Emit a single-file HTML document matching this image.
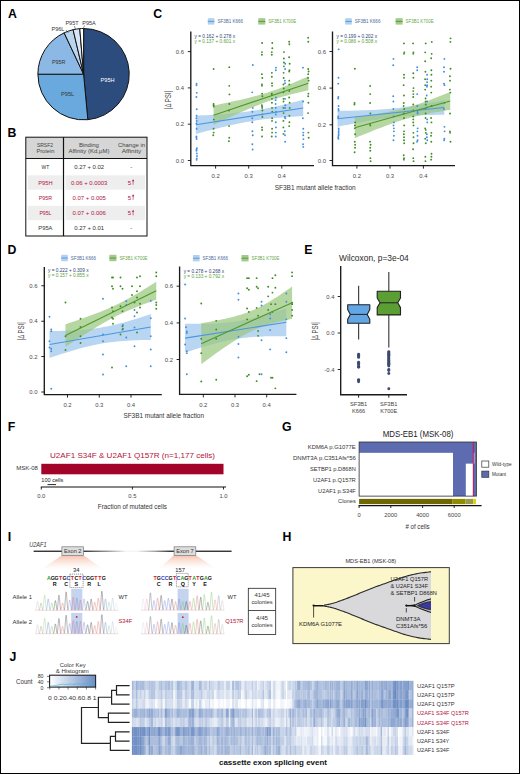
<!DOCTYPE html><html><head><meta charset="utf-8"><style>html,body{margin:0;padding:0;background:#fff;overflow:hidden;width:520px;height:774px}svg{display:block}text{font-family:"Liberation Sans",sans-serif}</style></head><body><svg width="520" height="774" viewBox="0 0 520 774"><rect x="0.5" y="0.5" width="519" height="773" fill="#fff" stroke="#000" stroke-width="1"/>
<text x="7.90" y="17.90" font-size="12.3" fill="#000" text-anchor="start" font-weight="bold" >A</text>
<text x="7.40" y="136.80" font-size="12.3" fill="#000" text-anchor="start" font-weight="bold" >B</text>
<text x="153.30" y="17.80" font-size="12.3" fill="#000" text-anchor="start" font-weight="bold" >C</text>
<text x="7.40" y="253.70" font-size="12.3" fill="#000" text-anchor="start" font-weight="bold" >D</text>
<text x="304.30" y="253.80" font-size="12.3" fill="#000" text-anchor="start" font-weight="bold" >E</text>
<text x="7.80" y="430.70" font-size="12.3" fill="#000" text-anchor="start" font-weight="bold" >F</text>
<text x="282.00" y="430.50" font-size="12.3" fill="#000" text-anchor="start" font-weight="bold" >G</text>
<text x="282.40" y="540.70" font-size="12.3" fill="#000" text-anchor="start" font-weight="bold" >H</text>
<text x="7.80" y="540.70" font-size="12.3" fill="#000" text-anchor="start" font-weight="bold" >I</text>
<text x="9.40" y="660.90" font-size="12.3" fill="#000" text-anchor="start" font-weight="bold" >J</text>
<path d="M83.6,74.2 L83.60,28.50 A45.7,45.7 0 0 1 87.82,119.70 Z" fill="#2d4c7e" stroke="#111" stroke-width="1" stroke-linejoin="round"/>
<path d="M83.6,74.2 L87.82,119.70 A45.7,45.7 0 0 1 37.90,74.20 Z" fill="#6aa9de" stroke="#111" stroke-width="1" stroke-linejoin="round"/>
<path d="M83.6,74.2 L37.90,74.20 A45.7,45.7 0 0 1 64.14,32.85 Z" fill="#8bb8e4" stroke="#111" stroke-width="1" stroke-linejoin="round"/>
<path d="M83.6,74.2 L64.14,32.85 A45.7,45.7 0 0 1 73.09,29.73 Z" fill="#bcd5ef" stroke="#111" stroke-width="1" stroke-linejoin="round"/>
<path d="M83.6,74.2 L73.09,29.73 A45.7,45.7 0 0 1 79.78,28.66 Z" fill="#d7e6f6" stroke="#111" stroke-width="1" stroke-linejoin="round"/>
<path d="M83.6,74.2 L79.78,28.66 A45.7,45.7 0 0 1 83.60,28.50 Z" fill="#ffffff" stroke="#111" stroke-width="1" stroke-linejoin="round"/>
<text x="107.60" y="82.00" font-size="6" fill="#fff" text-anchor="middle" font-weight="normal" textLength="14" lengthAdjust="spacingAndGlyphs">P95H</text>
<text x="67.60" y="96.40" font-size="6" fill="#333" text-anchor="middle" font-weight="normal" textLength="13.2" lengthAdjust="spacingAndGlyphs">P95L</text>
<text x="58.70" y="64.00" font-size="6" fill="#333" text-anchor="middle" font-weight="normal" textLength="13.5" lengthAdjust="spacingAndGlyphs">P95R</text>
<text x="58.00" y="30.50" font-size="5.5" fill="#333" text-anchor="middle" font-weight="normal" >P96L</text>
<text x="72.00" y="25.00" font-size="5.5" fill="#333" text-anchor="middle" font-weight="normal" >P95T</text>
<text x="89.00" y="24.50" font-size="5.5" fill="#333" text-anchor="middle" font-weight="normal" >P95A</text>
<path d="M66,30 L68.5,33 M74.5,26 L75.5,29.8 M84.5,25.5 L83,29" stroke="#222" stroke-width="0.5" fill="none"/>
<rect x="25.8" y="137.2" width="121.2" height="21.30000000000001" fill="#d6d6d6"/>
<rect x="27.8" y="175.30" width="34.7" height="14.4" fill="#eeeeee"/>
<rect x="65.5" y="175.30" width="79.5" height="14.4" fill="#eeeeee"/>
<rect x="27.8" y="205.80" width="34.7" height="14.4" fill="#eeeeee"/>
<rect x="65.5" y="205.80" width="79.5" height="14.4" fill="#eeeeee"/>
<rect x="25.8" y="137.2" width="121.2" height="98.80000000000001" fill="none" stroke="#111" stroke-width="1"/>
<line x1="63.5" y1="137.2" x2="63.5" y2="236" stroke="#111" stroke-width="1.2"/>
<line x1="25.8" y1="158.5" x2="147" y2="158.5" stroke="#111" stroke-width="1.2"/>
<text x="45.00" y="146.60" font-size="5.9" fill="#444" text-anchor="middle" font-weight="normal" textLength="16.2" lengthAdjust="spacingAndGlyphs">SRSF2</text>
<text x="45.40" y="153.30" font-size="5.9" fill="#444" text-anchor="middle" font-weight="normal" textLength="18" lengthAdjust="spacingAndGlyphs">Protein</text>
<text x="88.90" y="146.60" font-size="5.9" fill="#444" text-anchor="middle" font-weight="normal" textLength="20" lengthAdjust="spacingAndGlyphs">Binding</text>
<text x="88.90" y="153.30" font-size="5.9" fill="#444" text-anchor="middle" font-weight="normal" textLength="41" lengthAdjust="spacingAndGlyphs">Affinity (Kd,μM)</text>
<text x="131.50" y="146.60" font-size="5.9" fill="#444" text-anchor="middle" font-weight="normal" textLength="27" lengthAdjust="spacingAndGlyphs">Change in</text>
<text x="131.50" y="153.30" font-size="5.9" fill="#444" text-anchor="middle" font-weight="normal" textLength="19.5" lengthAdjust="spacingAndGlyphs">Affinity</text>
<text x="45.40" y="169.20" font-size="6.1" fill="#333" text-anchor="middle" font-weight="normal" textLength="7.75" lengthAdjust="spacingAndGlyphs">WT</text>
<text x="89.20" y="169.20" font-size="6.1" fill="#333" text-anchor="middle" font-weight="normal" textLength="30" lengthAdjust="spacingAndGlyphs">0.27 + 0.02</text>
<text x="131.20" y="169.20" font-size="6.1" fill="#333" text-anchor="middle" font-weight="normal" >-</text>
<text x="45.40" y="184.70" font-size="6.1" fill="#b0123f" text-anchor="middle" font-weight="normal" textLength="14.25" lengthAdjust="spacingAndGlyphs">P95H</text>
<text x="89.20" y="184.70" font-size="6.1" fill="#b0123f" text-anchor="middle" font-weight="normal" textLength="36.25" lengthAdjust="spacingAndGlyphs">0.06 + 0.0003</text>
<text x="129.40" y="184.70" font-size="6.1" fill="#b0123f" text-anchor="middle" font-weight="normal" >5</text>
<path d="M133.1,184.80 L133.1,180.90" stroke="#b0123f" stroke-width="0.8" stroke-opacity="0.75"/>
<path d="M131.9,181.30 L133.1,179.20 L134.3,181.30 Z" fill="#b0123f"/>
<text x="45.40" y="199.70" font-size="6.1" fill="#b0123f" text-anchor="middle" font-weight="normal" textLength="13.25" lengthAdjust="spacingAndGlyphs">P95R</text>
<text x="89.20" y="199.70" font-size="6.1" fill="#b0123f" text-anchor="middle" font-weight="normal" textLength="33.25" lengthAdjust="spacingAndGlyphs">0.07 + 0.005</text>
<text x="129.40" y="199.70" font-size="6.1" fill="#b0123f" text-anchor="middle" font-weight="normal" >5</text>
<path d="M133.1,199.80 L133.1,195.90" stroke="#b0123f" stroke-width="0.8" stroke-opacity="0.75"/>
<path d="M131.9,196.30 L133.1,194.20 L134.3,196.30 Z" fill="#b0123f"/>
<text x="45.40" y="215.20" font-size="6.1" fill="#b0123f" text-anchor="middle" font-weight="normal" textLength="12" lengthAdjust="spacingAndGlyphs">P95L</text>
<text x="89.20" y="215.20" font-size="6.1" fill="#b0123f" text-anchor="middle" font-weight="normal" textLength="33.25" lengthAdjust="spacingAndGlyphs">0.07 + 0.006</text>
<text x="129.40" y="215.20" font-size="6.1" fill="#b0123f" text-anchor="middle" font-weight="normal" >5</text>
<path d="M133.1,215.30 L133.1,211.40" stroke="#b0123f" stroke-width="0.8" stroke-opacity="0.75"/>
<path d="M131.9,211.80 L133.1,209.70 L134.3,211.80 Z" fill="#b0123f"/>
<text x="45.40" y="230.40" font-size="6.1" fill="#333" text-anchor="middle" font-weight="normal" textLength="14.25" lengthAdjust="spacingAndGlyphs">P95A</text>
<text x="89.20" y="230.40" font-size="6.1" fill="#333" text-anchor="middle" font-weight="normal" textLength="30" lengthAdjust="spacingAndGlyphs">0.27 + 0.01</text>
<text x="131.20" y="230.40" font-size="6.1" fill="#333" text-anchor="middle" font-weight="normal" >-</text>
<rect x="207.8" y="18.2" width="6.6" height="6.4" fill="#b3d1ef"/>
<line x1="207.8" y1="21.4" x2="214.4" y2="21.4" stroke="#4a97e0" stroke-width="0.9"/>
<rect x="258.3" y="18.2" width="7" height="6.4" fill="#a3c98c"/>
<line x1="258.3" y1="21.4" x2="265.3" y2="21.4" stroke="#4c9a2c" stroke-width="0.9"/>
<text x="217.40" y="23.20" font-size="5.0" fill="#4a6a9a" text-anchor="start" font-weight="normal" textLength="25.6" lengthAdjust="spacingAndGlyphs">SF3B1 K666</text>
<text x="268.30" y="23.20" font-size="5.0" fill="#6aa84a" text-anchor="start" font-weight="normal" textLength="27.9" lengthAdjust="spacingAndGlyphs">SF3B1 K700E</text>
<rect x="345.2" y="18.2" width="6.6" height="6.4" fill="#b3d1ef"/>
<line x1="345.2" y1="21.4" x2="351.8" y2="21.4" stroke="#4a97e0" stroke-width="0.9"/>
<rect x="395.6" y="18.2" width="7" height="6.4" fill="#a3c98c"/>
<line x1="395.6" y1="21.4" x2="402.6" y2="21.4" stroke="#4c9a2c" stroke-width="0.9"/>
<text x="354.80" y="23.20" font-size="5.0" fill="#4a6a9a" text-anchor="start" font-weight="normal" textLength="25.6" lengthAdjust="spacingAndGlyphs">SF3B1 K666</text>
<text x="405.60" y="23.20" font-size="5.0" fill="#6aa84a" text-anchor="start" font-weight="normal" textLength="28" lengthAdjust="spacingAndGlyphs">SF3B1 K700E</text>
<path d="M190.8,31.6 L190.8,165.6 L314,165.6" stroke="#1a1a1a" stroke-width="1.35" fill="none"/>
<line x1="187.8" y1="51.6" x2="190.8" y2="51.6" stroke="#111" stroke-width="0.9"/>
<text x="184.00" y="53.60" font-size="5.9" fill="#4a4a4a" text-anchor="end" font-weight="normal" >0.6</text>
<line x1="187.8" y1="87.9" x2="190.8" y2="87.9" stroke="#111" stroke-width="0.9"/>
<text x="184.00" y="89.90" font-size="5.9" fill="#4a4a4a" text-anchor="end" font-weight="normal" >0.4</text>
<line x1="187.8" y1="124.2" x2="190.8" y2="124.2" stroke="#111" stroke-width="0.9"/>
<text x="184.00" y="126.20" font-size="5.9" fill="#4a4a4a" text-anchor="end" font-weight="normal" >0.2</text>
<line x1="187.8" y1="160.5" x2="190.8" y2="160.5" stroke="#111" stroke-width="0.9"/>
<text x="184.00" y="162.50" font-size="5.9" fill="#4a4a4a" text-anchor="end" font-weight="normal" >0.0</text>
<line x1="215.6" y1="165.6" x2="215.6" y2="168.6" stroke="#111" stroke-width="0.9"/>
<text x="215.60" y="178.10" font-size="5.9" fill="#4a4a4a" text-anchor="middle" font-weight="normal" >0.2</text>
<line x1="248.7" y1="165.6" x2="248.7" y2="168.6" stroke="#111" stroke-width="0.9"/>
<text x="248.70" y="178.10" font-size="5.9" fill="#4a4a4a" text-anchor="middle" font-weight="normal" >0.3</text>
<line x1="281.8" y1="165.6" x2="281.8" y2="168.6" stroke="#111" stroke-width="0.9"/>
<text x="281.80" y="178.10" font-size="5.9" fill="#4a4a4a" text-anchor="middle" font-weight="normal" >0.4</text>
<path d="M195.91,115.71 L199.48,115.53 L203.06,115.34 L206.64,115.13 L210.21,114.92 L213.79,114.69 L217.36,114.46 L220.94,114.20 L224.52,113.93 L228.09,113.63 L231.67,113.31 L235.24,112.97 L238.82,112.59 L242.39,112.18 L245.97,111.73 L249.55,111.25 L253.12,110.72 L256.70,110.16 L260.27,109.55 L263.85,108.90 L267.42,108.21 L271.00,107.49 L274.58,106.74 L278.15,105.95 L281.73,105.14 L285.30,104.30 L288.88,103.45 L292.45,102.58 L296.03,101.69 L299.61,100.78 L303.18,99.87 L303.18,115.97 L299.61,116.19 L296.03,116.41 L292.45,116.64 L288.88,116.90 L285.30,117.17 L281.73,117.46 L278.15,117.77 L274.58,118.11 L271.00,118.48 L267.42,118.89 L263.85,119.32 L260.27,119.80 L256.70,120.32 L253.12,120.88 L249.55,121.48 L245.97,122.12 L242.39,122.80 L238.82,123.51 L235.24,124.26 L231.67,125.04 L228.09,125.85 L224.52,126.68 L220.94,127.53 L217.36,128.40 L213.79,129.29 L210.21,130.19 L206.64,131.10 L203.06,132.02 L199.48,132.96 L195.91,133.90Z" fill="#9fc6ee" fill-opacity="0.74"/>
<path d="M213.57,105.58 L216.73,104.93 L219.89,104.27 L223.05,103.61 L226.21,102.93 L229.37,102.25 L232.53,101.56 L235.69,100.86 L238.85,100.15 L242.01,99.42 L245.17,98.67 L248.33,97.90 L251.49,97.11 L254.65,96.29 L257.81,95.43 L260.97,94.54 L264.13,93.61 L267.29,92.63 L270.45,91.61 L273.61,90.53 L276.77,89.41 L279.94,88.24 L283.10,87.03 L286.26,85.77 L289.42,84.48 L292.58,83.16 L295.74,81.82 L298.90,80.45 L302.06,79.06 L305.22,77.65 L308.38,76.23 L308.38,90.26 L305.22,90.97 L302.06,91.69 L298.90,92.43 L295.74,93.19 L292.58,93.98 L289.42,94.79 L286.26,95.63 L283.10,96.51 L279.94,97.42 L276.77,98.38 L273.61,99.39 L270.45,100.45 L267.29,101.55 L264.13,102.70 L260.97,103.90 L257.81,105.14 L254.65,106.42 L251.49,107.72 L248.33,109.06 L245.17,110.42 L242.01,111.80 L238.85,113.20 L235.69,114.62 L232.53,116.05 L229.37,117.49 L226.21,118.94 L223.05,120.39 L219.89,121.86 L216.73,123.33 L213.57,124.81Z" fill="#9cc882" fill-opacity="0.74"/>
<circle cx="196.58" cy="83.77" r="0.95" fill="#3f8fde"/>
<circle cx="196.47" cy="85.32" r="0.95" fill="#3f8fde"/>
<circle cx="196.78" cy="92.86" r="0.95" fill="#3f8fde"/>
<circle cx="196.42" cy="97.01" r="0.95" fill="#3f8fde"/>
<circle cx="196.71" cy="109.22" r="0.95" fill="#3f8fde"/>
<circle cx="196.60" cy="115.71" r="0.95" fill="#3f8fde"/>
<circle cx="196.41" cy="118.31" r="0.95" fill="#3f8fde"/>
<circle cx="196.69" cy="120.91" r="0.95" fill="#3f8fde"/>
<circle cx="196.40" cy="123.51" r="0.95" fill="#3f8fde"/>
<circle cx="196.65" cy="128.70" r="0.95" fill="#3f8fde"/>
<circle cx="196.42" cy="136.49" r="0.95" fill="#3f8fde"/>
<circle cx="196.43" cy="137.79" r="0.95" fill="#3f8fde"/>
<circle cx="196.64" cy="139.09" r="0.95" fill="#3f8fde"/>
<circle cx="196.89" cy="148.18" r="0.95" fill="#3f8fde"/>
<circle cx="196.45" cy="149.48" r="0.95" fill="#3f8fde"/>
<circle cx="196.52" cy="150.78" r="0.95" fill="#3f8fde"/>
<circle cx="196.77" cy="153.38" r="0.95" fill="#3f8fde"/>
<circle cx="196.97" cy="155.97" r="0.95" fill="#3f8fde"/>
<circle cx="196.74" cy="158.57" r="0.95" fill="#3f8fde"/>
<circle cx="196.62" cy="159.87" r="0.95" fill="#3f8fde"/>
<circle cx="252.83" cy="65.06" r="0.95" fill="#3f8fde"/>
<circle cx="252.25" cy="92.34" r="0.95" fill="#3f8fde"/>
<circle cx="252.76" cy="107.92" r="0.95" fill="#3f8fde"/>
<circle cx="252.40" cy="111.82" r="0.95" fill="#3f8fde"/>
<circle cx="252.31" cy="118.31" r="0.95" fill="#3f8fde"/>
<circle cx="252.29" cy="122.21" r="0.95" fill="#3f8fde"/>
<circle cx="252.41" cy="131.30" r="0.95" fill="#3f8fde"/>
<circle cx="252.73" cy="135.19" r="0.95" fill="#3f8fde"/>
<circle cx="252.33" cy="144.29" r="0.95" fill="#3f8fde"/>
<circle cx="252.58" cy="149.48" r="0.95" fill="#3f8fde"/>
<circle cx="276.00" cy="67.66" r="0.95" fill="#3f8fde"/>
<circle cx="275.83" cy="70.26" r="0.95" fill="#3f8fde"/>
<circle cx="275.94" cy="97.53" r="0.95" fill="#3f8fde"/>
<circle cx="275.64" cy="100.13" r="0.95" fill="#3f8fde"/>
<circle cx="275.63" cy="104.03" r="0.95" fill="#3f8fde"/>
<circle cx="275.73" cy="107.92" r="0.95" fill="#3f8fde"/>
<circle cx="276.02" cy="111.82" r="0.95" fill="#3f8fde"/>
<circle cx="275.86" cy="114.42" r="0.95" fill="#3f8fde"/>
<circle cx="275.79" cy="122.21" r="0.95" fill="#3f8fde"/>
<circle cx="275.96" cy="127.40" r="0.95" fill="#3f8fde"/>
<circle cx="275.88" cy="132.60" r="0.95" fill="#3f8fde"/>
<circle cx="275.78" cy="136.49" r="0.95" fill="#3f8fde"/>
<circle cx="285.18" cy="63.77" r="0.95" fill="#3f8fde"/>
<circle cx="285.12" cy="68.96" r="0.95" fill="#3f8fde"/>
<circle cx="284.84" cy="80.65" r="0.95" fill="#3f8fde"/>
<circle cx="285.05" cy="83.25" r="0.95" fill="#3f8fde"/>
<circle cx="285.02" cy="98.83" r="0.95" fill="#3f8fde"/>
<circle cx="285.23" cy="105.32" r="0.95" fill="#3f8fde"/>
<circle cx="285.14" cy="107.92" r="0.95" fill="#3f8fde"/>
<circle cx="284.87" cy="117.01" r="0.95" fill="#3f8fde"/>
<circle cx="285.30" cy="118.31" r="0.95" fill="#3f8fde"/>
<circle cx="284.76" cy="131.30" r="0.95" fill="#3f8fde"/>
<circle cx="284.95" cy="135.19" r="0.95" fill="#3f8fde"/>
<circle cx="285.16" cy="141.69" r="0.95" fill="#3f8fde"/>
<circle cx="302.96" cy="67.66" r="0.95" fill="#3f8fde"/>
<circle cx="303.17" cy="101.43" r="0.95" fill="#3f8fde"/>
<circle cx="302.89" cy="118.31" r="0.95" fill="#3f8fde"/>
<circle cx="303.29" cy="128.70" r="0.95" fill="#3f8fde"/>
<circle cx="303.35" cy="132.60" r="0.95" fill="#3f8fde"/>
<circle cx="303.23" cy="135.19" r="0.95" fill="#3f8fde"/>
<circle cx="303.42" cy="139.09" r="0.95" fill="#3f8fde"/>
<circle cx="303.07" cy="144.29" r="0.95" fill="#3f8fde"/>
<circle cx="303.30" cy="146.88" r="0.95" fill="#3f8fde"/>
<circle cx="213.63" cy="68.96" r="0.95" fill="#3e8e1f"/>
<circle cx="213.62" cy="104.03" r="0.95" fill="#3e8e1f"/>
<circle cx="213.54" cy="105.32" r="0.95" fill="#3e8e1f"/>
<circle cx="213.78" cy="106.62" r="0.95" fill="#3e8e1f"/>
<circle cx="213.85" cy="119.61" r="0.95" fill="#3e8e1f"/>
<circle cx="213.56" cy="128.70" r="0.95" fill="#3e8e1f"/>
<circle cx="213.67" cy="132.60" r="0.95" fill="#3e8e1f"/>
<circle cx="213.30" cy="135.19" r="0.95" fill="#3e8e1f"/>
<circle cx="229.28" cy="67.14" r="0.95" fill="#3e8e1f"/>
<circle cx="229.25" cy="85.84" r="0.95" fill="#3e8e1f"/>
<circle cx="229.46" cy="94.42" r="0.95" fill="#3e8e1f"/>
<circle cx="229.36" cy="104.03" r="0.95" fill="#3e8e1f"/>
<circle cx="229.02" cy="110.52" r="0.95" fill="#3e8e1f"/>
<circle cx="229.08" cy="126.10" r="0.95" fill="#3e8e1f"/>
<circle cx="229.26" cy="137.79" r="0.95" fill="#3e8e1f"/>
<circle cx="228.86" cy="141.17" r="0.95" fill="#3e8e1f"/>
<circle cx="262.12" cy="42.99" r="0.95" fill="#3e8e1f"/>
<circle cx="261.94" cy="52.08" r="0.95" fill="#3e8e1f"/>
<circle cx="261.90" cy="54.68" r="0.95" fill="#3e8e1f"/>
<circle cx="261.87" cy="74.16" r="0.95" fill="#3e8e1f"/>
<circle cx="262.31" cy="78.05" r="0.95" fill="#3e8e1f"/>
<circle cx="261.91" cy="84.55" r="0.95" fill="#3e8e1f"/>
<circle cx="261.99" cy="85.84" r="0.95" fill="#3e8e1f"/>
<circle cx="262.07" cy="93.64" r="0.95" fill="#3e8e1f"/>
<circle cx="262.37" cy="96.23" r="0.95" fill="#3e8e1f"/>
<circle cx="261.88" cy="105.32" r="0.95" fill="#3e8e1f"/>
<circle cx="262.11" cy="106.62" r="0.95" fill="#3e8e1f"/>
<circle cx="262.17" cy="107.92" r="0.95" fill="#3e8e1f"/>
<circle cx="262.38" cy="110.52" r="0.95" fill="#3e8e1f"/>
<circle cx="262.34" cy="114.42" r="0.95" fill="#3e8e1f"/>
<circle cx="262.37" cy="117.01" r="0.95" fill="#3e8e1f"/>
<circle cx="262.00" cy="127.40" r="0.95" fill="#3e8e1f"/>
<circle cx="262.09" cy="130.00" r="0.95" fill="#3e8e1f"/>
<circle cx="262.05" cy="136.49" r="0.95" fill="#3e8e1f"/>
<circle cx="272.25" cy="42.99" r="0.95" fill="#3e8e1f"/>
<circle cx="272.30" cy="48.18" r="0.95" fill="#3e8e1f"/>
<circle cx="271.80" cy="52.08" r="0.95" fill="#3e8e1f"/>
<circle cx="271.81" cy="54.68" r="0.95" fill="#3e8e1f"/>
<circle cx="271.85" cy="72.86" r="0.95" fill="#3e8e1f"/>
<circle cx="271.85" cy="76.75" r="0.95" fill="#3e8e1f"/>
<circle cx="272.00" cy="83.25" r="0.95" fill="#3e8e1f"/>
<circle cx="272.07" cy="85.84" r="0.95" fill="#3e8e1f"/>
<circle cx="271.87" cy="93.64" r="0.95" fill="#3e8e1f"/>
<circle cx="271.70" cy="94.94" r="0.95" fill="#3e8e1f"/>
<circle cx="271.96" cy="98.83" r="0.95" fill="#3e8e1f"/>
<circle cx="271.93" cy="102.73" r="0.95" fill="#3e8e1f"/>
<circle cx="272.05" cy="107.92" r="0.95" fill="#3e8e1f"/>
<circle cx="272.30" cy="111.82" r="0.95" fill="#3e8e1f"/>
<circle cx="272.13" cy="118.31" r="0.95" fill="#3e8e1f"/>
<circle cx="272.02" cy="120.91" r="0.95" fill="#3e8e1f"/>
<circle cx="272.09" cy="128.70" r="0.95" fill="#3e8e1f"/>
<circle cx="272.12" cy="132.60" r="0.95" fill="#3e8e1f"/>
<circle cx="271.73" cy="136.49" r="0.95" fill="#3e8e1f"/>
<circle cx="283.95" cy="52.08" r="0.95" fill="#3e8e1f"/>
<circle cx="283.88" cy="58.57" r="0.95" fill="#3e8e1f"/>
<circle cx="283.93" cy="62.47" r="0.95" fill="#3e8e1f"/>
<circle cx="283.89" cy="66.36" r="0.95" fill="#3e8e1f"/>
<circle cx="283.63" cy="72.86" r="0.95" fill="#3e8e1f"/>
<circle cx="283.64" cy="78.05" r="0.95" fill="#3e8e1f"/>
<circle cx="283.45" cy="84.55" r="0.95" fill="#3e8e1f"/>
<circle cx="283.79" cy="88.44" r="0.95" fill="#3e8e1f"/>
<circle cx="283.43" cy="92.34" r="0.95" fill="#3e8e1f"/>
<circle cx="283.43" cy="98.83" r="0.95" fill="#3e8e1f"/>
<circle cx="283.52" cy="101.43" r="0.95" fill="#3e8e1f"/>
<circle cx="283.49" cy="107.92" r="0.95" fill="#3e8e1f"/>
<circle cx="283.60" cy="113.12" r="0.95" fill="#3e8e1f"/>
<circle cx="283.42" cy="120.91" r="0.95" fill="#3e8e1f"/>
<circle cx="283.39" cy="127.40" r="0.95" fill="#3e8e1f"/>
<circle cx="283.48" cy="133.90" r="0.95" fill="#3e8e1f"/>
<circle cx="289.17" cy="41.69" r="0.95" fill="#3e8e1f"/>
<circle cx="289.33" cy="44.29" r="0.95" fill="#3e8e1f"/>
<circle cx="289.12" cy="57.27" r="0.95" fill="#3e8e1f"/>
<circle cx="289.65" cy="63.77" r="0.95" fill="#3e8e1f"/>
<circle cx="289.49" cy="70.26" r="0.95" fill="#3e8e1f"/>
<circle cx="289.20" cy="71.56" r="0.95" fill="#3e8e1f"/>
<circle cx="289.26" cy="80.65" r="0.95" fill="#3e8e1f"/>
<circle cx="289.32" cy="84.55" r="0.95" fill="#3e8e1f"/>
<circle cx="289.33" cy="91.04" r="0.95" fill="#3e8e1f"/>
<circle cx="289.18" cy="97.53" r="0.95" fill="#3e8e1f"/>
<circle cx="289.63" cy="102.73" r="0.95" fill="#3e8e1f"/>
<circle cx="289.72" cy="107.92" r="0.95" fill="#3e8e1f"/>
<circle cx="289.39" cy="115.71" r="0.95" fill="#3e8e1f"/>
<circle cx="289.41" cy="122.21" r="0.95" fill="#3e8e1f"/>
<circle cx="289.16" cy="126.10" r="0.95" fill="#3e8e1f"/>
<circle cx="308.13" cy="37.79" r="0.95" fill="#3e8e1f"/>
<circle cx="308.28" cy="41.69" r="0.95" fill="#3e8e1f"/>
<circle cx="308.23" cy="68.96" r="0.95" fill="#3e8e1f"/>
<circle cx="308.58" cy="71.56" r="0.95" fill="#3e8e1f"/>
<circle cx="308.17" cy="74.16" r="0.95" fill="#3e8e1f"/>
<circle cx="308.08" cy="78.05" r="0.95" fill="#3e8e1f"/>
<circle cx="308.66" cy="80.65" r="0.95" fill="#3e8e1f"/>
<circle cx="308.39" cy="93.64" r="0.95" fill="#3e8e1f"/>
<circle cx="308.16" cy="96.23" r="0.95" fill="#3e8e1f"/>
<circle cx="308.40" cy="102.73" r="0.95" fill="#3e8e1f"/>
<circle cx="308.08" cy="113.12" r="0.95" fill="#3e8e1f"/>
<circle cx="308.39" cy="132.60" r="0.95" fill="#3e8e1f"/>
<circle cx="308.67" cy="137.79" r="0.95" fill="#3e8e1f"/>
<line x1="195.91" y1="124.81" x2="303.18" y2="107.92" stroke="#4a97e0" stroke-width="1.1"/>
<line x1="213.57" y1="115.19" x2="308.38" y2="83.25" stroke="#4c9a2c" stroke-width="1.1"/>
<text x="194.50" y="37.80" font-size="4.8" fill="#2e3f7a" text-anchor="start" font-weight="normal" textLength="40.5" lengthAdjust="spacingAndGlyphs">y = 0.162 + 0.278 x</text>
<text x="194.50" y="42.60" font-size="4.8" fill="#5aa03a" text-anchor="start" font-weight="normal" textLength="40.5" lengthAdjust="spacingAndGlyphs">y = 0.137 + 0.601 x</text>
<path d="M332.5,31.6 L332.5,165.6 L455,165.6" stroke="#1a1a1a" stroke-width="1.35" fill="none"/>
<line x1="329.5" y1="51.5" x2="332.5" y2="51.5" stroke="#111" stroke-width="0.9"/>
<text x="326.00" y="53.50" font-size="5.9" fill="#4a4a4a" text-anchor="end" font-weight="normal" >0.6</text>
<line x1="329.5" y1="88.1" x2="332.5" y2="88.1" stroke="#111" stroke-width="0.9"/>
<text x="326.00" y="90.10" font-size="5.9" fill="#4a4a4a" text-anchor="end" font-weight="normal" >0.4</text>
<line x1="329.5" y1="124.8" x2="332.5" y2="124.8" stroke="#111" stroke-width="0.9"/>
<text x="326.00" y="126.80" font-size="5.9" fill="#4a4a4a" text-anchor="end" font-weight="normal" >0.2</text>
<line x1="329.5" y1="160.5" x2="332.5" y2="160.5" stroke="#111" stroke-width="0.9"/>
<text x="326.00" y="162.50" font-size="5.9" fill="#4a4a4a" text-anchor="end" font-weight="normal" >0.0</text>
<line x1="356.9" y1="165.6" x2="356.9" y2="168.6" stroke="#111" stroke-width="0.9"/>
<text x="356.90" y="178.10" font-size="5.9" fill="#4a4a4a" text-anchor="middle" font-weight="normal" >0.2</text>
<line x1="390" y1="165.6" x2="390" y2="168.6" stroke="#111" stroke-width="0.9"/>
<text x="390.00" y="178.10" font-size="5.9" fill="#4a4a4a" text-anchor="middle" font-weight="normal" >0.3</text>
<line x1="423.4" y1="165.6" x2="423.4" y2="168.6" stroke="#111" stroke-width="0.9"/>
<text x="423.40" y="178.10" font-size="5.9" fill="#4a4a4a" text-anchor="middle" font-weight="normal" >0.4</text>
<path d="M337.52,110.92 L341.08,110.87 L344.63,110.81 L348.19,110.75 L351.75,110.67 L355.30,110.58 L358.86,110.48 L362.42,110.36 L365.97,110.23 L369.53,110.08 L373.09,109.91 L376.64,109.71 L380.20,109.49 L383.76,109.23 L387.31,108.95 L390.87,108.63 L394.43,108.27 L397.99,107.89 L401.54,107.46 L405.10,107.00 L408.66,106.51 L412.21,105.99 L415.77,105.44 L419.33,104.86 L422.88,104.26 L426.44,103.65 L430.00,103.01 L433.55,102.36 L437.11,101.70 L440.67,101.03 L444.23,100.34 L444.23,114.65 L440.67,114.72 L437.11,114.80 L433.55,114.89 L430.00,115.00 L426.44,115.12 L422.88,115.26 L419.33,115.42 L415.77,115.60 L412.21,115.80 L408.66,116.03 L405.10,116.30 L401.54,116.59 L397.99,116.92 L394.43,117.29 L390.87,117.69 L387.31,118.13 L383.76,118.60 L380.20,119.10 L376.64,119.63 L373.09,120.19 L369.53,120.77 L365.97,121.37 L362.42,122.00 L358.86,122.64 L355.30,123.29 L351.75,123.96 L348.19,124.63 L344.63,125.32 L341.08,126.02 L337.52,126.72Z" fill="#9fc6ee" fill-opacity="0.74"/>
<path d="M354.81,117.33 L357.99,116.88 L361.16,116.41 L364.34,115.93 L367.52,115.45 L370.70,114.95 L373.88,114.43 L377.06,113.90 L380.24,113.35 L383.42,112.77 L386.60,112.17 L389.78,111.54 L392.96,110.87 L396.14,110.17 L399.32,109.43 L402.50,108.64 L405.68,107.81 L408.85,106.93 L412.03,106.00 L415.21,105.02 L418.39,104.00 L421.57,102.93 L424.75,101.82 L427.93,100.68 L431.11,99.51 L434.29,98.31 L437.47,97.08 L440.65,95.84 L443.83,94.57 L447.01,93.29 L450.19,92.00 L450.19,109.88 L447.01,110.37 L443.83,110.88 L440.65,111.41 L437.47,111.95 L434.29,112.51 L431.11,113.10 L427.93,113.71 L424.75,114.36 L421.57,115.04 L418.39,115.77 L415.21,116.53 L412.03,117.34 L408.85,118.20 L405.68,119.10 L402.50,120.06 L399.32,121.06 L396.14,122.11 L392.96,123.19 L389.78,124.32 L386.60,125.48 L383.42,126.66 L380.24,127.88 L377.06,129.11 L373.88,130.37 L370.70,131.64 L367.52,132.93 L364.34,134.23 L361.16,135.54 L357.99,136.87 L354.81,138.20Z" fill="#9cc882" fill-opacity="0.74"/>
<circle cx="338.67" cy="49.37" r="0.95" fill="#3f8fde"/>
<circle cx="338.55" cy="77.69" r="0.95" fill="#3f8fde"/>
<circle cx="338.24" cy="83.65" r="0.95" fill="#3f8fde"/>
<circle cx="338.32" cy="97.06" r="0.95" fill="#3f8fde"/>
<circle cx="338.17" cy="98.55" r="0.95" fill="#3f8fde"/>
<circle cx="338.61" cy="106.01" r="0.95" fill="#3f8fde"/>
<circle cx="338.44" cy="108.99" r="0.95" fill="#3f8fde"/>
<circle cx="338.61" cy="110.48" r="0.95" fill="#3f8fde"/>
<circle cx="338.29" cy="116.44" r="0.95" fill="#3f8fde"/>
<circle cx="338.21" cy="117.93" r="0.95" fill="#3f8fde"/>
<circle cx="338.64" cy="128.36" r="0.95" fill="#3f8fde"/>
<circle cx="338.76" cy="129.85" r="0.95" fill="#3f8fde"/>
<circle cx="338.67" cy="131.34" r="0.95" fill="#3f8fde"/>
<circle cx="338.63" cy="132.83" r="0.95" fill="#3f8fde"/>
<circle cx="338.64" cy="134.32" r="0.95" fill="#3f8fde"/>
<circle cx="338.58" cy="135.81" r="0.95" fill="#3f8fde"/>
<circle cx="338.22" cy="137.30" r="0.95" fill="#3f8fde"/>
<circle cx="338.43" cy="138.79" r="0.95" fill="#3f8fde"/>
<circle cx="393.45" cy="58.91" r="0.95" fill="#3f8fde"/>
<circle cx="393.22" cy="65.17" r="0.95" fill="#3f8fde"/>
<circle cx="393.22" cy="96.17" r="0.95" fill="#3f8fde"/>
<circle cx="393.40" cy="101.54" r="0.95" fill="#3f8fde"/>
<circle cx="393.38" cy="108.99" r="0.95" fill="#3f8fde"/>
<circle cx="393.69" cy="116.44" r="0.95" fill="#3f8fde"/>
<circle cx="393.88" cy="122.40" r="0.95" fill="#3f8fde"/>
<circle cx="393.52" cy="125.38" r="0.95" fill="#3f8fde"/>
<circle cx="393.87" cy="128.36" r="0.95" fill="#3f8fde"/>
<circle cx="393.90" cy="131.34" r="0.95" fill="#3f8fde"/>
<circle cx="393.88" cy="135.81" r="0.95" fill="#3f8fde"/>
<circle cx="393.46" cy="140.28" r="0.95" fill="#3f8fde"/>
<circle cx="417.20" cy="67.26" r="0.95" fill="#3f8fde"/>
<circle cx="417.20" cy="70.24" r="0.95" fill="#3f8fde"/>
<circle cx="417.18" cy="94.08" r="0.95" fill="#3f8fde"/>
<circle cx="417.19" cy="106.01" r="0.95" fill="#3f8fde"/>
<circle cx="417.49" cy="111.97" r="0.95" fill="#3f8fde"/>
<circle cx="417.69" cy="113.46" r="0.95" fill="#3f8fde"/>
<circle cx="417.64" cy="128.36" r="0.95" fill="#3f8fde"/>
<circle cx="417.38" cy="131.34" r="0.95" fill="#3f8fde"/>
<circle cx="417.51" cy="135.81" r="0.95" fill="#3f8fde"/>
<circle cx="417.61" cy="140.28" r="0.95" fill="#3f8fde"/>
<circle cx="417.10" cy="141.77" r="0.95" fill="#3f8fde"/>
<circle cx="427.05" cy="74.71" r="0.95" fill="#3f8fde"/>
<circle cx="427.23" cy="79.18" r="0.95" fill="#3f8fde"/>
<circle cx="427.14" cy="82.16" r="0.95" fill="#3f8fde"/>
<circle cx="427.12" cy="85.14" r="0.95" fill="#3f8fde"/>
<circle cx="426.92" cy="86.63" r="0.95" fill="#3f8fde"/>
<circle cx="426.71" cy="95.57" r="0.95" fill="#3f8fde"/>
<circle cx="427.14" cy="101.54" r="0.95" fill="#3f8fde"/>
<circle cx="426.82" cy="107.50" r="0.95" fill="#3f8fde"/>
<circle cx="427.15" cy="119.42" r="0.95" fill="#3f8fde"/>
<circle cx="427.27" cy="122.40" r="0.95" fill="#3f8fde"/>
<circle cx="426.86" cy="134.32" r="0.95" fill="#3f8fde"/>
<circle cx="426.87" cy="137.30" r="0.95" fill="#3f8fde"/>
<circle cx="427.26" cy="140.28" r="0.95" fill="#3f8fde"/>
<circle cx="444.39" cy="58.91" r="0.95" fill="#3f8fde"/>
<circle cx="443.99" cy="67.26" r="0.95" fill="#3f8fde"/>
<circle cx="443.96" cy="71.73" r="0.95" fill="#3f8fde"/>
<circle cx="443.98" cy="83.65" r="0.95" fill="#3f8fde"/>
<circle cx="444.51" cy="85.14" r="0.95" fill="#3f8fde"/>
<circle cx="444.44" cy="103.03" r="0.95" fill="#3f8fde"/>
<circle cx="443.97" cy="108.99" r="0.95" fill="#3f8fde"/>
<circle cx="444.46" cy="126.87" r="0.95" fill="#3f8fde"/>
<circle cx="444.57" cy="131.34" r="0.95" fill="#3f8fde"/>
<circle cx="444.34" cy="138.79" r="0.95" fill="#3f8fde"/>
<circle cx="444.12" cy="140.28" r="0.95" fill="#3f8fde"/>
<circle cx="354.84" cy="68.75" r="0.95" fill="#3e8e1f"/>
<circle cx="354.54" cy="103.03" r="0.95" fill="#3e8e1f"/>
<circle cx="354.46" cy="104.52" r="0.95" fill="#3e8e1f"/>
<circle cx="355.14" cy="122.40" r="0.95" fill="#3e8e1f"/>
<circle cx="354.91" cy="125.38" r="0.95" fill="#3e8e1f"/>
<circle cx="354.83" cy="128.36" r="0.95" fill="#3e8e1f"/>
<circle cx="355.12" cy="134.32" r="0.95" fill="#3e8e1f"/>
<circle cx="354.76" cy="141.77" r="0.95" fill="#3e8e1f"/>
<circle cx="355.07" cy="144.75" r="0.95" fill="#3e8e1f"/>
<circle cx="355.04" cy="147.73" r="0.95" fill="#3e8e1f"/>
<circle cx="354.60" cy="152.21" r="0.95" fill="#3e8e1f"/>
<circle cx="370.13" cy="86.04" r="0.95" fill="#3e8e1f"/>
<circle cx="370.16" cy="94.08" r="0.95" fill="#3e8e1f"/>
<circle cx="370.12" cy="103.03" r="0.95" fill="#3e8e1f"/>
<circle cx="370.37" cy="113.46" r="0.95" fill="#3e8e1f"/>
<circle cx="370.13" cy="123.89" r="0.95" fill="#3e8e1f"/>
<circle cx="370.25" cy="125.38" r="0.95" fill="#3e8e1f"/>
<circle cx="370.04" cy="141.77" r="0.95" fill="#3e8e1f"/>
<circle cx="370.60" cy="144.75" r="0.95" fill="#3e8e1f"/>
<circle cx="370.20" cy="147.73" r="0.95" fill="#3e8e1f"/>
<circle cx="370.28" cy="150.72" r="0.95" fill="#3e8e1f"/>
<circle cx="370.37" cy="158.17" r="0.95" fill="#3e8e1f"/>
<circle cx="370.59" cy="161.15" r="0.95" fill="#3e8e1f"/>
<circle cx="403.93" cy="43.41" r="0.95" fill="#3e8e1f"/>
<circle cx="404.29" cy="52.35" r="0.95" fill="#3e8e1f"/>
<circle cx="403.99" cy="53.85" r="0.95" fill="#3e8e1f"/>
<circle cx="404.01" cy="74.71" r="0.95" fill="#3e8e1f"/>
<circle cx="404.00" cy="77.69" r="0.95" fill="#3e8e1f"/>
<circle cx="403.64" cy="85.14" r="0.95" fill="#3e8e1f"/>
<circle cx="403.94" cy="95.57" r="0.95" fill="#3e8e1f"/>
<circle cx="403.76" cy="103.03" r="0.95" fill="#3e8e1f"/>
<circle cx="403.63" cy="106.01" r="0.95" fill="#3e8e1f"/>
<circle cx="404.20" cy="108.99" r="0.95" fill="#3e8e1f"/>
<circle cx="403.75" cy="113.46" r="0.95" fill="#3e8e1f"/>
<circle cx="403.97" cy="117.93" r="0.95" fill="#3e8e1f"/>
<circle cx="404.15" cy="125.38" r="0.95" fill="#3e8e1f"/>
<circle cx="404.03" cy="131.34" r="0.95" fill="#3e8e1f"/>
<circle cx="403.86" cy="134.32" r="0.95" fill="#3e8e1f"/>
<circle cx="404.00" cy="137.30" r="0.95" fill="#3e8e1f"/>
<circle cx="404.03" cy="140.28" r="0.95" fill="#3e8e1f"/>
<circle cx="404.19" cy="143.26" r="0.95" fill="#3e8e1f"/>
<circle cx="403.70" cy="155.19" r="0.95" fill="#3e8e1f"/>
<circle cx="404.03" cy="158.17" r="0.95" fill="#3e8e1f"/>
<circle cx="403.81" cy="159.66" r="0.95" fill="#3e8e1f"/>
<circle cx="413.07" cy="43.41" r="0.95" fill="#3e8e1f"/>
<circle cx="413.42" cy="52.35" r="0.95" fill="#3e8e1f"/>
<circle cx="413.23" cy="53.85" r="0.95" fill="#3e8e1f"/>
<circle cx="413.27" cy="73.22" r="0.95" fill="#3e8e1f"/>
<circle cx="413.41" cy="77.69" r="0.95" fill="#3e8e1f"/>
<circle cx="413.52" cy="88.12" r="0.95" fill="#3e8e1f"/>
<circle cx="413.19" cy="91.10" r="0.95" fill="#3e8e1f"/>
<circle cx="413.31" cy="94.08" r="0.95" fill="#3e8e1f"/>
<circle cx="413.23" cy="97.06" r="0.95" fill="#3e8e1f"/>
<circle cx="413.24" cy="104.52" r="0.95" fill="#3e8e1f"/>
<circle cx="413.36" cy="110.48" r="0.95" fill="#3e8e1f"/>
<circle cx="413.19" cy="116.44" r="0.95" fill="#3e8e1f"/>
<circle cx="413.25" cy="119.42" r="0.95" fill="#3e8e1f"/>
<circle cx="413.21" cy="122.40" r="0.95" fill="#3e8e1f"/>
<circle cx="413.54" cy="125.38" r="0.95" fill="#3e8e1f"/>
<circle cx="413.37" cy="132.83" r="0.95" fill="#3e8e1f"/>
<circle cx="413.50" cy="137.30" r="0.95" fill="#3e8e1f"/>
<circle cx="413.54" cy="143.26" r="0.95" fill="#3e8e1f"/>
<circle cx="413.05" cy="149.23" r="0.95" fill="#3e8e1f"/>
<circle cx="413.27" cy="158.17" r="0.95" fill="#3e8e1f"/>
<circle cx="413.54" cy="161.15" r="0.95" fill="#3e8e1f"/>
<circle cx="425.69" cy="43.41" r="0.95" fill="#3e8e1f"/>
<circle cx="425.19" cy="52.35" r="0.95" fill="#3e8e1f"/>
<circle cx="425.18" cy="61.30" r="0.95" fill="#3e8e1f"/>
<circle cx="425.41" cy="71.73" r="0.95" fill="#3e8e1f"/>
<circle cx="425.14" cy="79.18" r="0.95" fill="#3e8e1f"/>
<circle cx="425.26" cy="85.14" r="0.95" fill="#3e8e1f"/>
<circle cx="425.14" cy="89.61" r="0.95" fill="#3e8e1f"/>
<circle cx="425.57" cy="98.55" r="0.95" fill="#3e8e1f"/>
<circle cx="425.65" cy="101.54" r="0.95" fill="#3e8e1f"/>
<circle cx="425.73" cy="104.52" r="0.95" fill="#3e8e1f"/>
<circle cx="425.20" cy="108.99" r="0.95" fill="#3e8e1f"/>
<circle cx="425.60" cy="113.46" r="0.95" fill="#3e8e1f"/>
<circle cx="425.56" cy="117.93" r="0.95" fill="#3e8e1f"/>
<circle cx="425.19" cy="128.36" r="0.95" fill="#3e8e1f"/>
<circle cx="425.72" cy="129.85" r="0.95" fill="#3e8e1f"/>
<circle cx="425.78" cy="132.83" r="0.95" fill="#3e8e1f"/>
<circle cx="425.25" cy="138.79" r="0.95" fill="#3e8e1f"/>
<circle cx="425.77" cy="143.26" r="0.95" fill="#3e8e1f"/>
<circle cx="425.37" cy="156.68" r="0.95" fill="#3e8e1f"/>
<circle cx="425.44" cy="161.15" r="0.95" fill="#3e8e1f"/>
<circle cx="431.76" cy="41.92" r="0.95" fill="#3e8e1f"/>
<circle cx="431.65" cy="53.85" r="0.95" fill="#3e8e1f"/>
<circle cx="431.17" cy="58.32" r="0.95" fill="#3e8e1f"/>
<circle cx="431.36" cy="70.24" r="0.95" fill="#3e8e1f"/>
<circle cx="431.42" cy="74.71" r="0.95" fill="#3e8e1f"/>
<circle cx="431.29" cy="80.67" r="0.95" fill="#3e8e1f"/>
<circle cx="431.19" cy="86.63" r="0.95" fill="#3e8e1f"/>
<circle cx="431.28" cy="92.59" r="0.95" fill="#3e8e1f"/>
<circle cx="431.57" cy="106.01" r="0.95" fill="#3e8e1f"/>
<circle cx="431.06" cy="117.93" r="0.95" fill="#3e8e1f"/>
<circle cx="431.45" cy="122.40" r="0.95" fill="#3e8e1f"/>
<circle cx="431.37" cy="132.83" r="0.95" fill="#3e8e1f"/>
<circle cx="431.06" cy="135.81" r="0.95" fill="#3e8e1f"/>
<circle cx="431.29" cy="141.77" r="0.95" fill="#3e8e1f"/>
<circle cx="431.50" cy="153.70" r="0.95" fill="#3e8e1f"/>
<circle cx="431.42" cy="156.68" r="0.95" fill="#3e8e1f"/>
<circle cx="431.10" cy="159.66" r="0.95" fill="#3e8e1f"/>
<circle cx="450.53" cy="38.35" r="0.95" fill="#3e8e1f"/>
<circle cx="450.39" cy="41.92" r="0.95" fill="#3e8e1f"/>
<circle cx="450.52" cy="68.75" r="0.95" fill="#3e8e1f"/>
<circle cx="449.90" cy="76.20" r="0.95" fill="#3e8e1f"/>
<circle cx="450.02" cy="80.67" r="0.95" fill="#3e8e1f"/>
<circle cx="449.86" cy="89.61" r="0.95" fill="#3e8e1f"/>
<circle cx="450.39" cy="92.59" r="0.95" fill="#3e8e1f"/>
<circle cx="450.02" cy="113.46" r="0.95" fill="#3e8e1f"/>
<circle cx="449.92" cy="131.34" r="0.95" fill="#3e8e1f"/>
<circle cx="450.13" cy="132.83" r="0.95" fill="#3e8e1f"/>
<circle cx="450.48" cy="141.77" r="0.95" fill="#3e8e1f"/>
<line x1="337.52" y1="118.82" x2="444.23" y2="107.50" stroke="#4a97e0" stroke-width="1.1"/>
<line x1="354.81" y1="127.76" x2="450.19" y2="100.94" stroke="#4c9a2c" stroke-width="1.1"/>
<text x="336.50" y="37.80" font-size="4.8" fill="#2e3f7a" text-anchor="start" font-weight="normal" textLength="40.5" lengthAdjust="spacingAndGlyphs">y = 0.199 + 0.202 x</text>
<text x="336.50" y="42.60" font-size="4.8" fill="#5aa03a" text-anchor="start" font-weight="normal" textLength="40.5" lengthAdjust="spacingAndGlyphs">y = 0.086 + 0.508 x</text>
<text x="0" y="0" font-size="8.6" fill="#444" text-anchor="middle" transform="translate(170.70 100) rotate(-90)" textLength="18.2" lengthAdjust="spacingAndGlyphs">|Δ PSI|</text>
<text x="315.20" y="189.70" font-size="7.7" fill="#333" text-anchor="middle" font-weight="normal" textLength="80.8" lengthAdjust="spacingAndGlyphs">SF3B1 mutant allele fraction</text>
<rect x="61.2" y="254.8" width="6.6" height="6.4" fill="#b3d1ef"/>
<line x1="61.2" y1="258" x2="67.8" y2="258" stroke="#4a97e0" stroke-width="0.9"/>
<rect x="109.4" y="254.8" width="7" height="6.4" fill="#a3c98c"/>
<line x1="109.4" y1="258" x2="116.4" y2="258" stroke="#4c9a2c" stroke-width="0.9"/>
<text x="70.80" y="259.80" font-size="5.0" fill="#4a6a9a" text-anchor="start" font-weight="normal" textLength="25.2" lengthAdjust="spacingAndGlyphs">SF3B1 K666</text>
<text x="119.40" y="259.80" font-size="5.0" fill="#6aa84a" text-anchor="start" font-weight="normal" textLength="28.2" lengthAdjust="spacingAndGlyphs">SF3B1 K700E</text>
<rect x="193.0" y="255.0" width="6.6" height="6.4" fill="#b3d1ef"/>
<line x1="193.0" y1="258.2" x2="199.6" y2="258.2" stroke="#4a97e0" stroke-width="0.9"/>
<rect x="241.5" y="255.0" width="7" height="6.4" fill="#a3c98c"/>
<line x1="241.5" y1="258.2" x2="248.5" y2="258.2" stroke="#4c9a2c" stroke-width="0.9"/>
<text x="202.60" y="260.00" font-size="5.0" fill="#4a6a9a" text-anchor="start" font-weight="normal" textLength="25.5" lengthAdjust="spacingAndGlyphs">SF3B1 K666</text>
<text x="251.50" y="260.00" font-size="5.0" fill="#6aa84a" text-anchor="start" font-weight="normal" textLength="28" lengthAdjust="spacingAndGlyphs">SF3B1 K700E</text>
<path d="M44.3,267 L44.3,394.6 L161.8,394.6" stroke="#1a1a1a" stroke-width="1.35" fill="none"/>
<line x1="41.3" y1="285.75" x2="44.3" y2="285.75" stroke="#111" stroke-width="0.9"/>
<text x="37.50" y="287.75" font-size="5.9" fill="#4a4a4a" text-anchor="end" font-weight="normal" >0.6</text>
<line x1="41.3" y1="321.25" x2="44.3" y2="321.25" stroke="#111" stroke-width="0.9"/>
<text x="37.50" y="323.25" font-size="5.9" fill="#4a4a4a" text-anchor="end" font-weight="normal" >0.4</text>
<line x1="41.3" y1="356.5" x2="44.3" y2="356.5" stroke="#111" stroke-width="0.9"/>
<text x="37.50" y="358.50" font-size="5.9" fill="#4a4a4a" text-anchor="end" font-weight="normal" >0.2</text>
<line x1="41.3" y1="392" x2="44.3" y2="392" stroke="#111" stroke-width="0.9"/>
<text x="37.50" y="394.00" font-size="5.9" fill="#4a4a4a" text-anchor="end" font-weight="normal" >0.0</text>
<line x1="67.5" y1="394.6" x2="67.5" y2="397.6" stroke="#111" stroke-width="0.9"/>
<text x="67.50" y="406.70" font-size="5.9" fill="#4a4a4a" text-anchor="middle" font-weight="normal" >0.2</text>
<line x1="99.25" y1="394.6" x2="99.25" y2="397.6" stroke="#111" stroke-width="0.9"/>
<text x="99.25" y="406.70" font-size="5.9" fill="#4a4a4a" text-anchor="middle" font-weight="normal" >0.3</text>
<line x1="131" y1="394.6" x2="131" y2="397.6" stroke="#111" stroke-width="0.9"/>
<text x="131.00" y="406.70" font-size="5.9" fill="#4a4a4a" text-anchor="middle" font-weight="normal" >0.4</text>
<path d="M49.50,331.12 L52.88,331.08 L56.25,331.02 L59.62,330.95 L63.00,330.86 L66.38,330.74 L69.75,330.60 L73.12,330.43 L76.50,330.23 L79.88,330.00 L83.25,329.73 L86.62,329.41 L90.00,329.05 L93.38,328.63 L96.75,328.16 L100.12,327.63 L103.50,327.05 L106.88,326.40 L110.25,325.70 L113.62,324.95 L117.00,324.14 L120.38,323.29 L123.75,322.39 L127.12,321.46 L130.50,320.49 L133.88,319.48 L137.25,318.46 L140.62,317.40 L144.00,316.33 L147.38,315.23 L150.75,314.12 L150.75,339.88 L147.38,339.93 L144.00,340.01 L140.62,340.10 L137.25,340.21 L133.88,340.35 L130.50,340.51 L127.12,340.71 L123.75,340.94 L120.38,341.21 L117.00,341.52 L113.62,341.88 L110.25,342.30 L106.88,342.76 L103.50,343.29 L100.12,343.87 L96.75,344.51 L93.38,345.20 L90.00,345.95 L86.62,346.76 L83.25,347.61 L79.88,348.50 L76.50,349.43 L73.12,350.40 L69.75,351.40 L66.38,352.43 L63.00,353.48 L59.62,354.55 L56.25,355.64 L52.88,356.75 L49.50,357.88Z" fill="#9fc6ee" fill-opacity="0.74"/>
<path d="M65.50,324.25 L68.53,323.24 L71.55,322.21 L74.58,321.18 L77.60,320.14 L80.62,319.09 L83.65,318.02 L86.67,316.93 L89.70,315.83 L92.72,314.71 L95.75,313.56 L98.78,312.38 L101.80,311.17 L104.83,309.92 L107.85,308.63 L110.88,307.29 L113.90,305.91 L116.92,304.47 L119.95,302.97 L122.97,301.42 L126.00,299.82 L129.03,298.17 L132.05,296.47 L135.07,294.73 L138.10,292.96 L141.12,291.15 L144.15,289.31 L147.18,287.45 L150.20,285.57 L153.22,283.67 L156.25,281.75 L156.25,299.75 L153.22,300.82 L150.20,301.90 L147.18,303.00 L144.15,304.12 L141.12,305.27 L138.10,306.44 L135.07,307.65 L132.05,308.89 L129.03,310.18 L126.00,311.51 L122.97,312.89 L119.95,314.33 L116.92,315.82 L113.90,317.36 L110.88,318.96 L107.85,320.60 L104.83,322.30 L101.80,324.03 L98.78,325.80 L95.75,327.61 L92.72,329.44 L89.70,331.30 L86.67,333.18 L83.65,335.08 L80.62,337.00 L77.60,338.93 L74.58,340.87 L71.55,342.82 L68.53,344.78 L65.50,346.75Z" fill="#9cc882" fill-opacity="0.74"/>
<circle cx="49.50" cy="316.75" r="0.95" fill="#3f8fde"/>
<circle cx="51.25" cy="329.50" r="0.95" fill="#3f8fde"/>
<circle cx="51.25" cy="331.25" r="0.95" fill="#3f8fde"/>
<circle cx="49.50" cy="341.25" r="0.95" fill="#3f8fde"/>
<circle cx="49.50" cy="347.50" r="0.95" fill="#3f8fde"/>
<circle cx="51.25" cy="348.75" r="0.95" fill="#3f8fde"/>
<circle cx="51.25" cy="351.25" r="0.95" fill="#3f8fde"/>
<circle cx="51.25" cy="388.75" r="0.95" fill="#3f8fde"/>
<circle cx="103.00" cy="298.75" r="0.95" fill="#3f8fde"/>
<circle cx="103.00" cy="334.50" r="0.95" fill="#3f8fde"/>
<circle cx="103.00" cy="341.25" r="0.95" fill="#3f8fde"/>
<circle cx="103.00" cy="354.50" r="0.95" fill="#3f8fde"/>
<circle cx="103.00" cy="374.50" r="0.95" fill="#3f8fde"/>
<circle cx="123.00" cy="325.00" r="0.95" fill="#3f8fde"/>
<circle cx="123.00" cy="328.75" r="0.95" fill="#3f8fde"/>
<circle cx="126.25" cy="301.25" r="0.95" fill="#3f8fde"/>
<circle cx="126.25" cy="305.00" r="0.95" fill="#3f8fde"/>
<circle cx="126.25" cy="337.50" r="0.95" fill="#3f8fde"/>
<circle cx="126.25" cy="366.25" r="0.95" fill="#3f8fde"/>
<circle cx="134.50" cy="310.00" r="0.95" fill="#3f8fde"/>
<circle cx="134.50" cy="316.25" r="0.95" fill="#3f8fde"/>
<circle cx="134.50" cy="327.50" r="0.95" fill="#3f8fde"/>
<circle cx="134.50" cy="346.25" r="0.95" fill="#3f8fde"/>
<circle cx="150.75" cy="300.75" r="0.95" fill="#3f8fde"/>
<circle cx="150.75" cy="318.25" r="0.95" fill="#3f8fde"/>
<circle cx="150.75" cy="336.25" r="0.95" fill="#3f8fde"/>
<circle cx="150.75" cy="349.50" r="0.95" fill="#3f8fde"/>
<circle cx="150.75" cy="366.25" r="0.95" fill="#3f8fde"/>
<circle cx="65.50" cy="302.50" r="0.95" fill="#3e8e1f"/>
<circle cx="65.50" cy="336.25" r="0.95" fill="#3e8e1f"/>
<circle cx="65.50" cy="350.00" r="0.95" fill="#3e8e1f"/>
<circle cx="80.50" cy="318.75" r="0.95" fill="#3e8e1f"/>
<circle cx="80.50" cy="327.00" r="0.95" fill="#3e8e1f"/>
<circle cx="80.50" cy="336.25" r="0.95" fill="#3e8e1f"/>
<circle cx="80.50" cy="343.00" r="0.95" fill="#3e8e1f"/>
<circle cx="112.00" cy="277.50" r="0.95" fill="#3e8e1f"/>
<circle cx="113.00" cy="277.50" r="0.95" fill="#3e8e1f"/>
<circle cx="112.00" cy="286.25" r="0.95" fill="#3e8e1f"/>
<circle cx="113.00" cy="288.75" r="0.95" fill="#3e8e1f"/>
<circle cx="112.00" cy="307.50" r="0.95" fill="#3e8e1f"/>
<circle cx="113.00" cy="311.25" r="0.95" fill="#3e8e1f"/>
<circle cx="112.00" cy="317.50" r="0.95" fill="#3e8e1f"/>
<circle cx="113.00" cy="318.75" r="0.95" fill="#3e8e1f"/>
<circle cx="113.00" cy="323.75" r="0.95" fill="#3e8e1f"/>
<circle cx="112.00" cy="367.50" r="0.95" fill="#3e8e1f"/>
<circle cx="120.50" cy="277.50" r="0.95" fill="#3e8e1f"/>
<circle cx="120.50" cy="286.25" r="0.95" fill="#3e8e1f"/>
<circle cx="122.50" cy="288.75" r="0.95" fill="#3e8e1f"/>
<circle cx="120.50" cy="306.25" r="0.95" fill="#3e8e1f"/>
<circle cx="122.50" cy="311.25" r="0.95" fill="#3e8e1f"/>
<circle cx="122.50" cy="326.25" r="0.95" fill="#3e8e1f"/>
<circle cx="122.50" cy="329.50" r="0.95" fill="#3e8e1f"/>
<circle cx="120.50" cy="334.50" r="0.95" fill="#3e8e1f"/>
<circle cx="132.00" cy="286.25" r="0.95" fill="#3e8e1f"/>
<circle cx="132.00" cy="295.00" r="0.95" fill="#3e8e1f"/>
<circle cx="134.50" cy="302.50" r="0.95" fill="#3e8e1f"/>
<circle cx="137.00" cy="277.50" r="0.95" fill="#3e8e1f"/>
<circle cx="140.00" cy="276.25" r="0.95" fill="#3e8e1f"/>
<circle cx="140.00" cy="286.25" r="0.95" fill="#3e8e1f"/>
<circle cx="137.00" cy="291.25" r="0.95" fill="#3e8e1f"/>
<circle cx="137.00" cy="297.50" r="0.95" fill="#3e8e1f"/>
<circle cx="140.00" cy="303.75" r="0.95" fill="#3e8e1f"/>
<circle cx="140.00" cy="307.50" r="0.95" fill="#3e8e1f"/>
<circle cx="137.00" cy="312.50" r="0.95" fill="#3e8e1f"/>
<circle cx="137.00" cy="332.50" r="0.95" fill="#3e8e1f"/>
<circle cx="156.25" cy="272.50" r="0.95" fill="#3e8e1f"/>
<circle cx="156.25" cy="276.25" r="0.95" fill="#3e8e1f"/>
<circle cx="156.25" cy="302.50" r="0.95" fill="#3e8e1f"/>
<circle cx="156.25" cy="305.00" r="0.95" fill="#3e8e1f"/>
<circle cx="156.25" cy="308.75" r="0.95" fill="#3e8e1f"/>
<line x1="49.50" y1="344.50" x2="150.75" y2="327.00" stroke="#4a97e0" stroke-width="1.1"/>
<line x1="65.50" y1="335.50" x2="156.25" y2="290.75" stroke="#4c9a2c" stroke-width="1.1"/>
<text x="48.00" y="272.30" font-size="4.8" fill="#2e3f7a" text-anchor="start" font-weight="normal" textLength="40.5" lengthAdjust="spacingAndGlyphs">y = 0.222 + 0.309 x</text>
<text x="48.00" y="277.10" font-size="4.8" fill="#5aa03a" text-anchor="start" font-weight="normal" textLength="40.5" lengthAdjust="spacingAndGlyphs">y = 0.157 + 0.855 x</text>
<text x="0" y="0" font-size="8.6" fill="#444" text-anchor="middle" transform="translate(24.00 331.3) rotate(-90)" textLength="18.2" lengthAdjust="spacingAndGlyphs">|Δ PSI|</text>
<path d="M179.6,266.6 L179.6,394.4 L296.4,394.4" stroke="#1a1a1a" stroke-width="1.35" fill="none"/>
<line x1="176.6" y1="286.2" x2="179.6" y2="286.2" stroke="#111" stroke-width="0.9"/>
<text x="173.00" y="288.20" font-size="5.9" fill="#4a4a4a" text-anchor="end" font-weight="normal" >0.6</text>
<line x1="176.6" y1="322.9" x2="179.6" y2="322.9" stroke="#111" stroke-width="0.9"/>
<text x="173.00" y="324.90" font-size="5.9" fill="#4a4a4a" text-anchor="end" font-weight="normal" >0.4</text>
<line x1="176.6" y1="359.5" x2="179.6" y2="359.5" stroke="#111" stroke-width="0.9"/>
<text x="173.00" y="361.50" font-size="5.9" fill="#4a4a4a" text-anchor="end" font-weight="normal" >0.2</text>
<line x1="203.3" y1="394.4" x2="203.3" y2="397.4" stroke="#111" stroke-width="0.9"/>
<text x="203.30" y="406.70" font-size="5.9" fill="#4a4a4a" text-anchor="middle" font-weight="normal" >0.2</text>
<line x1="235" y1="394.4" x2="235" y2="397.4" stroke="#111" stroke-width="0.9"/>
<text x="235.00" y="406.70" font-size="5.9" fill="#4a4a4a" text-anchor="middle" font-weight="normal" >0.3</text>
<line x1="266.7" y1="394.4" x2="266.7" y2="397.4" stroke="#111" stroke-width="0.9"/>
<text x="266.70" y="406.70" font-size="5.9" fill="#4a4a4a" text-anchor="middle" font-weight="normal" >0.4</text>
<path d="M185.09,323.74 L188.47,323.79 L191.84,323.83 L195.22,323.85 L198.59,323.84 L201.97,323.82 L205.34,323.76 L208.72,323.68 L212.09,323.56 L215.47,323.40 L218.84,323.20 L222.22,322.96 L225.59,322.66 L228.96,322.30 L232.34,321.89 L235.71,321.41 L239.09,320.88 L242.46,320.28 L245.84,319.62 L249.21,318.90 L252.59,318.13 L255.96,317.31 L259.34,316.44 L262.71,315.52 L266.09,314.58 L269.46,313.60 L272.84,312.58 L276.21,311.55 L279.58,310.49 L282.96,309.41 L286.33,308.31 L286.33,336.29 L282.96,336.25 L279.58,336.23 L276.21,336.23 L272.84,336.25 L269.46,336.29 L266.09,336.37 L262.71,336.48 L259.34,336.63 L255.96,336.81 L252.59,337.05 L249.21,337.33 L245.84,337.67 L242.46,338.07 L239.09,338.53 L235.71,339.05 L232.34,339.63 L228.96,340.28 L225.59,340.98 L222.22,341.74 L218.84,342.55 L215.47,343.41 L212.09,344.31 L208.72,345.25 L205.34,346.22 L201.97,347.22 L198.59,348.25 L195.22,349.31 L191.84,350.38 L188.47,351.48 L185.09,352.59Z" fill="#9fc6ee" fill-opacity="0.74"/>
<path d="M201.25,323.17 L204.27,322.67 L207.30,322.16 L210.33,321.64 L213.36,321.09 L216.39,320.53 L219.42,319.94 L222.45,319.32 L225.47,318.67 L228.50,317.98 L231.53,317.25 L234.56,316.47 L237.59,315.62 L240.62,314.71 L243.65,313.73 L246.67,312.66 L249.70,311.50 L252.73,310.24 L255.76,308.89 L258.79,307.43 L261.82,305.88 L264.85,304.23 L267.87,302.50 L270.90,300.69 L273.93,298.81 L276.96,296.88 L279.99,294.89 L283.02,292.85 L286.05,290.78 L289.07,288.67 L292.10,286.53 L292.10,318.84 L289.07,319.43 L286.05,320.06 L283.02,320.71 L279.99,321.41 L276.96,322.15 L273.93,322.94 L270.90,323.80 L267.87,324.72 L264.85,325.72 L261.82,326.80 L258.79,327.98 L255.76,329.25 L252.73,330.63 L249.70,332.10 L246.67,333.67 L243.65,335.33 L240.62,337.08 L237.59,338.90 L234.56,340.79 L231.53,342.73 L228.50,344.73 L225.47,346.77 L222.45,348.85 L219.42,350.97 L216.39,353.11 L213.36,355.27 L210.33,357.46 L207.30,359.67 L204.27,361.89 L201.25,364.12Z" fill="#9cc882" fill-opacity="0.74"/>
<circle cx="185.09" cy="284.52" r="0.95" fill="#3f8fde"/>
<circle cx="185.09" cy="318.55" r="0.95" fill="#3f8fde"/>
<circle cx="185.96" cy="327.20" r="0.95" fill="#3f8fde"/>
<circle cx="186.82" cy="331.53" r="0.95" fill="#3f8fde"/>
<circle cx="186.82" cy="332.97" r="0.95" fill="#3f8fde"/>
<circle cx="185.09" cy="344.51" r="0.95" fill="#3f8fde"/>
<circle cx="186.82" cy="351.14" r="0.95" fill="#3f8fde"/>
<circle cx="186.82" cy="353.16" r="0.95" fill="#3f8fde"/>
<circle cx="186.82" cy="374.22" r="0.95" fill="#3f8fde"/>
<circle cx="238.45" cy="293.46" r="0.95" fill="#3f8fde"/>
<circle cx="238.45" cy="299.80" r="0.95" fill="#3f8fde"/>
<circle cx="238.45" cy="336.72" r="0.95" fill="#3f8fde"/>
<circle cx="238.45" cy="343.93" r="0.95" fill="#3f8fde"/>
<circle cx="238.45" cy="357.49" r="0.95" fill="#3f8fde"/>
<circle cx="261.53" cy="301.82" r="0.95" fill="#3f8fde"/>
<circle cx="261.53" cy="305.57" r="0.95" fill="#3f8fde"/>
<circle cx="261.53" cy="340.18" r="0.95" fill="#3f8fde"/>
<circle cx="261.53" cy="374.22" r="0.95" fill="#3f8fde"/>
<circle cx="270.18" cy="314.22" r="0.95" fill="#3f8fde"/>
<circle cx="270.18" cy="318.55" r="0.95" fill="#3f8fde"/>
<circle cx="270.18" cy="330.09" r="0.95" fill="#3f8fde"/>
<circle cx="270.18" cy="349.41" r="0.95" fill="#3f8fde"/>
<circle cx="286.33" cy="293.46" r="0.95" fill="#3f8fde"/>
<circle cx="286.33" cy="301.82" r="0.95" fill="#3f8fde"/>
<circle cx="286.33" cy="319.42" r="0.95" fill="#3f8fde"/>
<circle cx="286.33" cy="338.16" r="0.95" fill="#3f8fde"/>
<circle cx="286.33" cy="352.30" r="0.95" fill="#3f8fde"/>
<circle cx="201.25" cy="303.55" r="0.95" fill="#3e8e1f"/>
<circle cx="201.25" cy="338.74" r="0.95" fill="#3e8e1f"/>
<circle cx="201.25" cy="353.16" r="0.95" fill="#3e8e1f"/>
<circle cx="201.25" cy="381.43" r="0.95" fill="#3e8e1f"/>
<circle cx="216.24" cy="320.86" r="0.95" fill="#3e8e1f"/>
<circle cx="216.24" cy="329.51" r="0.95" fill="#3e8e1f"/>
<circle cx="216.24" cy="338.74" r="0.95" fill="#3e8e1f"/>
<circle cx="216.24" cy="379.70" r="0.95" fill="#3e8e1f"/>
<circle cx="247.11" cy="278.17" r="0.95" fill="#3e8e1f"/>
<circle cx="248.84" cy="278.17" r="0.95" fill="#3e8e1f"/>
<circle cx="247.11" cy="288.27" r="0.95" fill="#3e8e1f"/>
<circle cx="248.84" cy="289.71" r="0.95" fill="#3e8e1f"/>
<circle cx="247.11" cy="308.46" r="0.95" fill="#3e8e1f"/>
<circle cx="248.84" cy="311.92" r="0.95" fill="#3e8e1f"/>
<circle cx="247.11" cy="319.42" r="0.95" fill="#3e8e1f"/>
<circle cx="247.11" cy="376.24" r="0.95" fill="#3e8e1f"/>
<circle cx="248.84" cy="374.80" r="0.95" fill="#3e8e1f"/>
<circle cx="256.63" cy="278.17" r="0.95" fill="#3e8e1f"/>
<circle cx="256.63" cy="286.82" r="0.95" fill="#3e8e1f"/>
<circle cx="258.07" cy="288.27" r="0.95" fill="#3e8e1f"/>
<circle cx="256.63" cy="307.88" r="0.95" fill="#3e8e1f"/>
<circle cx="258.07" cy="315.67" r="0.95" fill="#3e8e1f"/>
<circle cx="258.07" cy="330.95" r="0.95" fill="#3e8e1f"/>
<circle cx="258.07" cy="335.86" r="0.95" fill="#3e8e1f"/>
<circle cx="256.63" cy="381.14" r="0.95" fill="#3e8e1f"/>
<circle cx="259.51" cy="374.22" r="0.95" fill="#3e8e1f"/>
<circle cx="268.16" cy="286.82" r="0.95" fill="#3e8e1f"/>
<circle cx="268.16" cy="296.34" r="0.95" fill="#3e8e1f"/>
<circle cx="271.05" cy="304.13" r="0.95" fill="#3e8e1f"/>
<circle cx="268.16" cy="309.90" r="0.95" fill="#3e8e1f"/>
<circle cx="271.05" cy="377.68" r="0.95" fill="#3e8e1f"/>
<circle cx="272.49" cy="278.17" r="0.95" fill="#3e8e1f"/>
<circle cx="275.37" cy="275.29" r="0.95" fill="#3e8e1f"/>
<circle cx="272.49" cy="292.59" r="0.95" fill="#3e8e1f"/>
<circle cx="275.37" cy="287.69" r="0.95" fill="#3e8e1f"/>
<circle cx="275.37" cy="304.13" r="0.95" fill="#3e8e1f"/>
<circle cx="272.49" cy="311.92" r="0.95" fill="#3e8e1f"/>
<circle cx="272.49" cy="377.68" r="0.95" fill="#3e8e1f"/>
<circle cx="275.37" cy="388.35" r="0.95" fill="#3e8e1f"/>
<circle cx="292.10" cy="272.40" r="0.95" fill="#3e8e1f"/>
<circle cx="292.10" cy="276.15" r="0.95" fill="#3e8e1f"/>
<circle cx="292.10" cy="302.69" r="0.95" fill="#3e8e1f"/>
<circle cx="292.10" cy="304.13" r="0.95" fill="#3e8e1f"/>
<circle cx="292.10" cy="309.90" r="0.95" fill="#3e8e1f"/>
<circle cx="292.10" cy="315.67" r="0.95" fill="#3e8e1f"/>
<line x1="185.09" y1="338.16" x2="286.33" y2="322.30" stroke="#4a97e0" stroke-width="1.1"/>
<line x1="201.25" y1="343.64" x2="292.10" y2="302.69" stroke="#4c9a2c" stroke-width="1.1"/>
<text x="183.70" y="272.70" font-size="4.8" fill="#2e3f7a" text-anchor="start" font-weight="normal" textLength="40.5" lengthAdjust="spacingAndGlyphs">y = 0.278 + 0.268 x</text>
<text x="183.70" y="277.50" font-size="4.8" fill="#5aa03a" text-anchor="start" font-weight="normal" textLength="40.5" lengthAdjust="spacingAndGlyphs">y = 0.133 + 0.792 x</text>
<text x="163.70" y="417.60" font-size="7.7" fill="#333" text-anchor="middle" font-weight="normal" textLength="80.6" lengthAdjust="spacingAndGlyphs">SF3B1 mutant allele fraction</text>
<text x="373.90" y="261.00" font-size="8.4" fill="#2a2a2a" text-anchor="middle" font-weight="normal" textLength="69.8" lengthAdjust="spacingAndGlyphs">Wilcoxon, p=3e-04</text>
<path d="M340.7,266 L340.7,394.7 L407,394.7" stroke="#1a1a1a" stroke-width="1.35" fill="none"/>
<line x1="337.7" y1="296.5" x2="340.7" y2="296.5" stroke="#111" stroke-width="0.9"/>
<text x="334.50" y="298.50" font-size="5.9" fill="#4a4a4a" text-anchor="end" font-weight="normal" >0.4</text>
<line x1="337.7" y1="333" x2="340.7" y2="333" stroke="#111" stroke-width="0.9"/>
<text x="334.50" y="335.00" font-size="5.9" fill="#4a4a4a" text-anchor="end" font-weight="normal" >0.0</text>
<line x1="337.7" y1="369.5" x2="340.7" y2="369.5" stroke="#111" stroke-width="0.9"/>
<text x="334.50" y="371.50" font-size="5.9" fill="#4a4a4a" text-anchor="end" font-weight="normal" >-0.4</text>
<line x1="358.6" y1="394.7" x2="358.6" y2="397.7" stroke="#111" stroke-width="0.9"/>
<text x="358.60" y="0.00" font-size="5.9" fill="#4a4a4a" text-anchor="middle" font-weight="normal" ></text>
<line x1="388.8" y1="394.7" x2="388.8" y2="397.7" stroke="#111" stroke-width="0.9"/>
<text x="388.80" y="0.00" font-size="5.9" fill="#4a4a4a" text-anchor="middle" font-weight="normal" ></text>
<text x="0" y="0" font-size="8.6" fill="#444" text-anchor="middle" transform="translate(318.40 331.4) rotate(-90)" textLength="18.2" lengthAdjust="spacingAndGlyphs">|Δ PSI|</text>
<text x="358.60" y="406.30" font-size="5.7" fill="#444" text-anchor="middle" font-weight="normal" >SF3B1</text>
<text x="358.60" y="413.40" font-size="5.7" fill="#444" text-anchor="middle" font-weight="normal" >K666</text>
<text x="388.80" y="406.30" font-size="5.7" fill="#444" text-anchor="middle" font-weight="normal" >SF3B1</text>
<text x="388.80" y="413.40" font-size="5.7" fill="#444" text-anchor="middle" font-weight="normal" >K700E</text>
<line x1="358.6" y1="285.8" x2="358.6" y2="304.7" stroke="#444" stroke-width="1.2"/>
<line x1="358.6" y1="323.3" x2="358.6" y2="339.5" stroke="#444" stroke-width="1.2"/>
<path d="M347.7,304.7 L369.8,304.7 L369.8,309.59999999999997 L367.2,314.4 L369.8,319.2 L369.8,323.3 L347.7,323.3 L347.7,319.2 L350.3,314.4 L347.7,309.59999999999997 Z" fill="#62a6e6" stroke="#222" stroke-width="1.1" stroke-linejoin="round"/>
<line x1="350.3" y1="314.4" x2="367.2" y2="314.4" stroke="#222" stroke-width="1"/>
<line x1="388.8" y1="272" x2="388.8" y2="291.2" stroke="#444" stroke-width="1.2"/>
<line x1="388.8" y1="314.9" x2="388.8" y2="347.4" stroke="#444" stroke-width="1.2"/>
<path d="M377.2,291.2 L400.5,291.2 L400.5,298.0 L397.7,302.8 L400.5,307.6 L400.5,314.9 L377.2,314.9 L377.2,307.6 L380.0,302.8 L377.2,298.0 Z" fill="#5a9e34" stroke="#222" stroke-width="1.1" stroke-linejoin="round"/>
<line x1="380.0" y1="302.8" x2="397.7" y2="302.8" stroke="#222" stroke-width="1"/>
<circle cx="358.6" cy="354.2" r="1.45" fill="#3b4a6e"/>
<circle cx="358.6" cy="355.2" r="1.45" fill="#3b4a6e"/>
<circle cx="358.6" cy="356.4" r="1.45" fill="#3b4a6e"/>
<circle cx="358.6" cy="357.4" r="1.45" fill="#3b4a6e"/>
<circle cx="358.6" cy="362.3" r="1.45" fill="#3b4a6e"/>
<circle cx="358.6" cy="363.2" r="1.45" fill="#3b4a6e"/>
<circle cx="358.6" cy="364.5" r="1.45" fill="#3b4a6e"/>
<circle cx="358.6" cy="366.2" r="1.45" fill="#3b4a6e"/>
<circle cx="358.6" cy="367.2" r="1.45" fill="#3b4a6e"/>
<circle cx="358.6" cy="379.6" r="1.45" fill="#3b4a6e"/>
<circle cx="358.6" cy="380.6" r="1.45" fill="#3b4a6e"/>
<circle cx="358.6" cy="381.8" r="1.45" fill="#3b4a6e"/>
<circle cx="388.8" cy="351.60" r="1.45" fill="#3b4a6e"/>
<circle cx="388.8" cy="352.50" r="1.45" fill="#3b4a6e"/>
<circle cx="388.8" cy="353.40" r="1.45" fill="#3b4a6e"/>
<circle cx="388.8" cy="354.30" r="1.45" fill="#3b4a6e"/>
<circle cx="388.8" cy="355.20" r="1.45" fill="#3b4a6e"/>
<circle cx="388.8" cy="356.10" r="1.45" fill="#3b4a6e"/>
<circle cx="388.8" cy="357.00" r="1.45" fill="#3b4a6e"/>
<circle cx="388.8" cy="357.90" r="1.45" fill="#3b4a6e"/>
<circle cx="388.8" cy="358.80" r="1.45" fill="#3b4a6e"/>
<circle cx="388.8" cy="359.70" r="1.45" fill="#3b4a6e"/>
<circle cx="388.8" cy="360.60" r="1.45" fill="#3b4a6e"/>
<circle cx="388.8" cy="361.50" r="1.45" fill="#3b4a6e"/>
<circle cx="388.8" cy="362.40" r="1.45" fill="#3b4a6e"/>
<circle cx="388.8" cy="363.30" r="1.45" fill="#3b4a6e"/>
<circle cx="388.8" cy="364.20" r="1.45" fill="#3b4a6e"/>
<circle cx="388.8" cy="365.10" r="1.45" fill="#3b4a6e"/>
<circle cx="388.8" cy="366.00" r="1.45" fill="#3b4a6e"/>
<circle cx="388.8" cy="369.5" r="1.45" fill="#3b4a6e"/>
<circle cx="388.8" cy="370.6" r="1.45" fill="#3b4a6e"/>
<circle cx="388.8" cy="373.5" r="1.45" fill="#3b4a6e"/>
<circle cx="388.8" cy="388.8" r="1.45" fill="#3b4a6e"/>
<text x="132.50" y="457.60" font-size="7.4" fill="#b3143c" text-anchor="middle" font-weight="normal" textLength="165" lengthAdjust="spacingAndGlyphs">U2AF1 S34F &amp; U2AF1 Q157R (n=1,177 cells)</text>
<rect x="41.3" y="463.8" width="182.2" height="10.5" fill="#a30229"/>
<text x="38.00" y="470.00" font-size="5.4" fill="#333" text-anchor="end" font-weight="normal" textLength="21.8" lengthAdjust="spacingAndGlyphs">MSK-08</text>
<text x="41.30" y="481.80" font-size="5.2" fill="#222" text-anchor="start" font-weight="normal" textLength="22" lengthAdjust="spacingAndGlyphs">100 cells</text>
<line x1="47.5" y1="484.6" x2="56" y2="484.6" stroke="#111" stroke-width="0.9"/>
<line x1="40.8" y1="487" x2="226" y2="487" stroke="#111" stroke-width="1.1"/>
<line x1="41.3" y1="487" x2="41.3" y2="489.5" stroke="#111" stroke-width="0.9"/>
<text x="41.30" y="497.80" font-size="5.8" fill="#444" text-anchor="middle" font-weight="normal" >0.0</text>
<line x1="132.4" y1="487" x2="132.4" y2="489.5" stroke="#111" stroke-width="0.9"/>
<text x="132.40" y="497.80" font-size="5.8" fill="#444" text-anchor="middle" font-weight="normal" >0.5</text>
<line x1="223.5" y1="487" x2="223.5" y2="489.5" stroke="#111" stroke-width="0.9"/>
<text x="223.50" y="497.80" font-size="5.8" fill="#444" text-anchor="middle" font-weight="normal" >1.0</text>
<text x="132.40" y="508.50" font-size="7.7" fill="#333" text-anchor="middle" font-weight="normal" textLength="69.2" lengthAdjust="spacingAndGlyphs">Fraction of mutated cells</text>
<text x="418.10" y="437.00" font-size="8.3" fill="#222" text-anchor="middle" font-weight="normal" textLength="70.8" lengthAdjust="spacingAndGlyphs">MDS-EB1 (MSK-08)</text>
<rect x="359.1" y="442.0" width="117.29999999999995" height="54.10000000000002" fill="#5d6bb0"/>
<rect x="359.1" y="452.82" width="93.89999999999998" height="43.280000000000015" fill="#fff"/>
<rect x="465.8" y="463.64" width="7.199999999999989" height="32.460000000000015" fill="#fff"/>
<rect x="472.8" y="442.0" width="1" height="54.10000000000002" fill="#c2185b"/>
<rect x="473.8" y="452.82" width="0.8" height="10.820000000000004" fill="#f4a6b8"/>
<rect x="359.1" y="442.0" width="117.29999999999995" height="54.10000000000002" fill="none" stroke="#333" stroke-width="0.8"/>
<rect x="359.1" y="498.9" width="93.09999999999997" height="5.2" fill="#6e6700"/>
<rect x="452.2" y="498.9" width="13.300000000000011" height="5.2" fill="#918b00"/>
<rect x="465.5" y="498.9" width="7.800000000000011" height="5.2" fill="#9c9a4a"/>
<rect x="473.3" y="498.9" width="2.599999999999966" height="5.2" fill="#dcd200"/>
<line x1="358.6" y1="505.6" x2="481.6" y2="505.6" stroke="#111" stroke-width="1.1"/>
<line x1="359.1" y1="505.6" x2="359.1" y2="508" stroke="#111" stroke-width="0.9"/>
<text x="359.10" y="516.90" font-size="5.8" fill="#444" text-anchor="middle" font-weight="normal" >0</text>
<line x1="390.8" y1="505.6" x2="390.8" y2="508" stroke="#111" stroke-width="0.9"/>
<text x="390.80" y="516.90" font-size="5.8" fill="#444" text-anchor="middle" font-weight="normal" >2000</text>
<line x1="422.6" y1="505.6" x2="422.6" y2="508" stroke="#111" stroke-width="0.9"/>
<text x="422.60" y="516.90" font-size="5.8" fill="#444" text-anchor="middle" font-weight="normal" >4000</text>
<line x1="454.2" y1="505.6" x2="454.2" y2="508" stroke="#111" stroke-width="0.9"/>
<text x="454.20" y="516.90" font-size="5.8" fill="#444" text-anchor="middle" font-weight="normal" >6000</text>
<text x="417.50" y="528.50" font-size="7.2" fill="#333" text-anchor="middle" font-weight="normal" textLength="24.2" lengthAdjust="spacingAndGlyphs"># of cells</text>
<text x="355.80" y="449.41" font-size="5.6" fill="#333" text-anchor="end" font-weight="normal" textLength="48" lengthAdjust="spacingAndGlyphs">KDM6A p.G1077E</text>
<text x="355.80" y="460.23" font-size="5.6" fill="#333" text-anchor="end" font-weight="normal" textLength="62.8" lengthAdjust="spacingAndGlyphs">DNMT3A p.C351Afs*56</text>
<text x="355.80" y="471.05" font-size="5.6" fill="#333" text-anchor="end" font-weight="normal" textLength="45.9" lengthAdjust="spacingAndGlyphs">SETBP1 p.D868N</text>
<text x="355.80" y="481.87" font-size="5.6" fill="#333" text-anchor="end" font-weight="normal" textLength="42.8" lengthAdjust="spacingAndGlyphs">U2AF1 p.Q157R</text>
<text x="355.80" y="492.69" font-size="5.6" fill="#333" text-anchor="end" font-weight="normal" textLength="37.7" lengthAdjust="spacingAndGlyphs">U2AF1 p.S34F</text>
<text x="355.80" y="503.10" font-size="5.6" fill="#333" text-anchor="end" font-weight="normal" textLength="17.7" lengthAdjust="spacingAndGlyphs">Clones</text>
<rect x="481.8" y="461" width="7" height="6.2" fill="#fff" stroke="#333" stroke-width="0.7"/>
<rect x="481.8" y="471.1" width="7" height="6.2" fill="#5d6bb0" stroke="#333" stroke-width="0.7"/>
<text x="492.00" y="466.00" font-size="4.6" fill="#333" text-anchor="start" font-weight="normal" textLength="19.7" lengthAdjust="spacingAndGlyphs">Wild-type</text>
<text x="492.00" y="476.00" font-size="4.6" fill="#333" text-anchor="start" font-weight="normal" textLength="14" lengthAdjust="spacingAndGlyphs">Mutant</text>
<text x="370.80" y="563.00" font-size="5.8" fill="#333" text-anchor="middle" font-weight="normal" textLength="50.8" lengthAdjust="spacingAndGlyphs">MDS-EB1 (MSK-08)</text>
<rect x="292.9" y="567.6" width="156.4" height="76" fill="#fcf6cb" stroke="#3a3a3a" stroke-width="1"/>
<path d="M313.6,605.6 L324.00,605.20 L324.47,605.11 L325.09,604.99 L325.84,604.85 L326.66,604.69 L327.53,604.52 L328.40,604.34 L329.24,604.17 L330.00,604.00 L330.71,603.84 L331.41,603.67 L332.10,603.50 L332.79,603.33 L333.46,603.16 L334.12,602.98 L334.77,602.79 L335.40,602.60 L336.01,602.40 L336.59,602.20 L337.14,601.99 L337.69,601.78 L338.24,601.57 L338.81,601.35 L339.39,601.12 L340.00,600.90 L340.61,600.69 L341.20,600.49 L341.79,600.30 L342.41,600.10 L343.06,599.88 L343.78,599.63 L344.59,599.34 L345.50,599.00 L346.54,598.59 L347.70,598.13 L348.95,597.62 L350.26,597.09 L351.61,596.53 L352.97,595.98 L354.31,595.43 L355.60,594.90 L356.86,594.39 L358.12,593.87 L359.39,593.36 L360.65,592.84 L361.91,592.33 L363.18,591.82 L364.44,591.31 L365.70,590.80 L366.96,590.29 L368.22,589.78 L369.49,589.28 L370.75,588.77 L372.01,588.27 L373.27,587.77 L374.54,587.28 L375.80,586.80 L377.06,586.33 L378.32,585.87 L379.59,585.42 L380.85,584.98 L382.11,584.53 L383.38,584.09 L384.64,583.65 L385.90,583.20 L387.16,582.75 L388.40,582.30 L389.65,581.85 L390.89,581.40 L392.15,580.95 L393.41,580.50 L394.69,580.05 L396.00,579.60 L397.33,579.14 L398.66,578.68 L400.02,578.21 L401.38,577.74 L402.76,577.28 L404.16,576.84 L405.57,576.41 L407.00,576.00 L408.45,575.61 L409.93,575.23 L411.43,574.87 L412.94,574.52 L414.46,574.19 L415.98,573.87 L417.49,573.57 L419.00,573.30 L420.58,573.04 L422.28,572.81 L424.03,572.58 L425.75,572.38 L427.38,572.20 L428.84,572.04 L430.07,571.91 L431.00,571.80 L431.00,639.40 L430.07,639.29 L428.84,639.16 L427.38,639.00 L425.75,638.82 L424.03,638.62 L422.28,638.39 L420.58,638.16 L419.00,637.90 L417.49,637.63 L415.98,637.33 L414.46,637.01 L412.94,636.68 L411.43,636.33 L409.93,635.97 L408.45,635.59 L407.00,635.20 L405.57,634.79 L404.16,634.36 L402.76,633.92 L401.38,633.46 L400.02,632.99 L398.66,632.52 L397.33,632.06 L396.00,631.60 L394.69,631.15 L393.41,630.70 L392.15,630.25 L390.89,629.80 L389.65,629.35 L388.40,628.90 L387.16,628.45 L385.90,628.00 L384.64,627.55 L383.38,627.11 L382.11,626.67 L380.85,626.23 L379.59,625.78 L378.32,625.33 L377.06,624.87 L375.80,624.40 L374.54,623.92 L373.27,623.43 L372.01,622.93 L370.75,622.43 L369.49,621.92 L368.22,621.42 L366.96,620.91 L365.70,620.40 L364.44,619.89 L363.18,619.38 L361.91,618.87 L360.65,618.36 L359.39,617.84 L358.12,617.33 L356.86,616.81 L355.60,616.30 L354.31,615.77 L352.97,615.22 L351.61,614.67 L350.26,614.11 L348.95,613.58 L347.70,613.07 L346.54,612.61 L345.50,612.20 L344.59,611.86 L343.78,611.57 L343.06,611.32 L342.41,611.10 L341.79,610.90 L341.20,610.71 L340.61,610.51 L340.00,610.30 L339.39,610.08 L338.81,609.85 L338.24,609.63 L337.69,609.42 L337.14,609.21 L336.59,609.00 L336.01,608.80 L335.40,608.60 L334.77,608.41 L334.12,608.22 L333.46,608.04 L332.79,607.87 L332.10,607.70 L331.41,607.53 L330.71,607.36 L330.00,607.20 L329.24,607.03 L328.40,606.86 L327.53,606.68 L326.66,606.51 L325.84,606.35 L325.09,606.21 L324.47,606.09 L324.00,606.00Z" fill="#d9d9db"/>
<path d="M313.6,605.6 L324.00,605.20 L324.47,605.11 L325.09,604.99 L325.84,604.85 L326.66,604.69 L327.53,604.52 L328.40,604.34 L329.24,604.17 L330.00,604.00 L330.71,603.84 L331.41,603.67 L332.10,603.50 L332.79,603.33 L333.46,603.16 L334.12,602.98 L334.77,602.79 L335.40,602.60 L336.01,602.40 L336.59,602.20 L337.14,601.99 L337.69,601.78 L338.24,601.57 L338.81,601.35 L339.39,601.12 L340.00,600.90 L340.61,600.69 L341.20,600.49 L341.79,600.30 L342.41,600.10 L343.06,599.88 L343.78,599.63 L344.59,599.34 L345.50,599.00 L346.54,598.59 L347.70,598.13 L348.95,597.62 L350.26,597.09 L351.61,596.53 L352.97,595.98 L354.31,595.43 L355.60,594.90 L356.86,594.39 L358.12,593.87 L359.39,593.36 L360.65,592.84 L361.91,592.33 L363.18,591.82 L364.44,591.31 L365.70,590.80 L366.96,590.29 L368.22,589.78 L369.49,589.28 L370.75,588.77 L372.01,588.27 L373.27,587.77 L374.54,587.28 L375.80,586.80 L377.06,586.33 L378.32,585.87 L379.59,585.42 L380.85,584.98 L382.11,584.53 L383.38,584.09 L384.64,583.65 L385.90,583.20 L387.16,582.75 L388.40,582.30 L389.65,581.85 L390.89,581.40 L392.15,580.95 L393.41,580.50 L394.69,580.05 L396.00,579.60 L397.33,579.14 L398.66,578.68 L400.02,578.21 L401.38,577.74 L402.76,577.28 L404.16,576.84 L405.57,576.41 L407.00,576.00 L408.45,575.61 L409.93,575.23 L411.43,574.87 L412.94,574.52 L414.46,574.19 L415.98,573.87 L417.49,573.57 L419.00,573.30 L420.58,573.04 L422.28,572.81 L424.03,572.58 L425.75,572.38 L427.38,572.20 L428.84,572.04 L430.07,571.91 L431.00,571.80" fill="none" stroke="#2a2a2a" stroke-width="1.1"/>
<path d="M313.6,605.6 L324.00,606.00 L324.47,606.09 L325.09,606.21 L325.84,606.35 L326.66,606.51 L327.53,606.68 L328.40,606.86 L329.24,607.03 L330.00,607.20 L330.71,607.36 L331.41,607.53 L332.10,607.70 L332.79,607.87 L333.46,608.04 L334.12,608.22 L334.77,608.41 L335.40,608.60 L336.01,608.80 L336.59,609.00 L337.14,609.21 L337.69,609.42 L338.24,609.63 L338.81,609.85 L339.39,610.08 L340.00,610.30 L340.61,610.51 L341.20,610.71 L341.79,610.90 L342.41,611.10 L343.06,611.32 L343.78,611.57 L344.59,611.86 L345.50,612.20 L346.54,612.61 L347.70,613.07 L348.95,613.58 L350.26,614.11 L351.61,614.67 L352.97,615.22 L354.31,615.77 L355.60,616.30 L356.86,616.81 L358.12,617.33 L359.39,617.84 L360.65,618.36 L361.91,618.87 L363.18,619.38 L364.44,619.89 L365.70,620.40 L366.96,620.91 L368.22,621.42 L369.49,621.92 L370.75,622.43 L372.01,622.93 L373.27,623.43 L374.54,623.92 L375.80,624.40 L377.06,624.87 L378.32,625.33 L379.59,625.78 L380.85,626.23 L382.11,626.67 L383.38,627.11 L384.64,627.55 L385.90,628.00 L387.16,628.45 L388.40,628.90 L389.65,629.35 L390.89,629.80 L392.15,630.25 L393.41,630.70 L394.69,631.15 L396.00,631.60 L397.33,632.06 L398.66,632.52 L400.02,632.99 L401.38,633.46 L402.76,633.92 L404.16,634.36 L405.57,634.79 L407.00,635.20 L408.45,635.59 L409.93,635.97 L411.43,636.33 L412.94,636.68 L414.46,637.01 L415.98,637.33 L417.49,637.63 L419.00,637.90 L420.58,638.16 L422.28,638.39 L424.03,638.62 L425.75,638.82 L427.38,639.00 L428.84,639.16 L430.07,639.29 L431.00,639.40" fill="none" stroke="#2a2a2a" stroke-width="1.1"/>
<path d="M406.30,605.60 L407.18,605.56 L408.43,605.51 L409.90,605.44 L411.42,605.36 L412.84,605.25 L414.00,605.10 L414.88,604.91 L415.61,604.68 L416.23,604.43 L416.80,604.15 L417.38,603.87 L418.00,603.60 L418.67,603.33 L419.33,603.04 L420.00,602.75 L420.67,602.46 L421.33,602.17 L422.00,601.90 L422.66,601.64 L423.30,601.39 L423.94,601.14 L424.59,600.90 L425.28,600.65 L426.00,600.40 L426.83,600.12 L427.78,599.81 L428.75,599.51 L429.67,599.22 L430.44,598.98 L431.00,598.80 L431.00,612.40 L430.44,612.22 L429.67,611.98 L428.75,611.69 L427.78,611.39 L426.83,611.08 L426.00,610.80 L425.28,610.55 L424.59,610.30 L423.94,610.06 L423.30,609.81 L422.66,609.56 L422.00,609.30 L421.33,609.03 L420.67,608.74 L420.00,608.45 L419.33,608.16 L418.67,607.87 L418.00,607.60 L417.38,607.33 L416.80,607.05 L416.23,606.77 L415.61,606.52 L414.88,606.29 L414.00,606.10 L412.84,605.95 L411.42,605.84 L409.90,605.76 L408.43,605.69 L407.18,605.64 L406.30,605.60" fill="#b4b4b4"/>
<path d="M406.30,605.60 L407.18,605.56 L408.43,605.51 L409.90,605.44 L411.42,605.36 L412.84,605.25 L414.00,605.10 L414.88,604.91 L415.61,604.68 L416.23,604.43 L416.80,604.15 L417.38,603.87 L418.00,603.60 L418.67,603.33 L419.33,603.04 L420.00,602.75 L420.67,602.46 L421.33,602.17 L422.00,601.90 L422.66,601.64 L423.30,601.39 L423.94,601.14 L424.59,600.90 L425.28,600.65 L426.00,600.40 L426.83,600.12 L427.78,599.81 L428.75,599.51 L429.67,599.22 L430.44,598.98 L431.00,598.80" fill="none" stroke="#1e1e1e" stroke-width="1.05"/>
<path d="M406.30,605.60 L407.18,605.64 L408.43,605.69 L409.90,605.76 L411.42,605.84 L412.84,605.95 L414.00,606.10 L414.88,606.29 L415.61,606.52 L416.23,606.77 L416.80,607.05 L417.38,607.33 L418.00,607.60 L418.67,607.87 L419.33,608.16 L420.00,608.45 L420.67,608.74 L421.33,609.03 L422.00,609.30 L422.66,609.56 L423.30,609.81 L423.94,610.06 L424.59,610.30 L425.28,610.55 L426.00,610.80 L426.83,611.08 L427.78,611.39 L428.75,611.69 L429.67,611.98 L430.44,612.22 L431.00,612.40" fill="none" stroke="#1e1e1e" stroke-width="1.05"/>
<path d="M417.50,605.60 L417.75,605.48 L418.09,605.33 L418.50,605.14 L418.96,604.93 L419.47,604.71 L420.00,604.50 L420.58,604.28 L421.22,604.04 L421.91,603.79 L422.61,603.55 L423.32,603.31 L424.00,603.10 L424.68,602.90 L425.37,602.72 L426.06,602.54 L426.74,602.38 L427.39,602.23 L428.00,602.10 L428.59,601.98 L429.19,601.88 L429.75,601.79 L430.26,601.71 L430.69,601.65 L431.00,601.60 L431.00,609.60 L430.69,609.55 L430.26,609.49 L429.75,609.41 L429.19,609.32 L428.59,609.22 L428.00,609.10 L427.39,608.97 L426.74,608.82 L426.06,608.66 L425.37,608.48 L424.68,608.30 L424.00,608.10 L423.32,607.89 L422.61,607.65 L421.91,607.41 L421.22,607.16 L420.58,606.92 L420.00,606.70 L419.47,606.49 L418.96,606.27 L418.50,606.06 L418.09,605.87 L417.75,605.72 L417.50,605.60" fill="#3a3a9e"/>
<path d="M417.50,605.60 L417.75,605.48 L418.09,605.33 L418.50,605.14 L418.96,604.93 L419.47,604.71 L420.00,604.50 L420.58,604.28 L421.22,604.04 L421.91,603.79 L422.61,603.55 L423.32,603.31 L424.00,603.10 L424.68,602.90 L425.37,602.72 L426.06,602.54 L426.74,602.38 L427.39,602.23 L428.00,602.10 L428.59,601.98 L429.19,601.88 L429.75,601.79 L430.26,601.71 L430.69,601.65 L431.00,601.60" fill="none" stroke="#1e1e1e" stroke-width="0.95"/>
<path d="M417.50,605.60 L417.75,605.72 L418.09,605.87 L418.50,606.06 L418.96,606.27 L419.47,606.49 L420.00,606.70 L420.58,606.92 L421.22,607.16 L421.91,607.41 L422.61,607.65 L423.32,607.89 L424.00,608.10 L424.68,608.30 L425.37,608.48 L426.06,608.66 L426.74,608.82 L427.39,608.97 L428.00,609.10 L428.59,609.22 L429.19,609.32 L429.75,609.41 L430.26,609.49 L430.69,609.55 L431.00,609.60" fill="none" stroke="#1e1e1e" stroke-width="0.95"/>
<rect x="431" y="570" width="1.5" height="72" fill="#fcf6cb"/>
<line x1="406.3" y1="605.6" x2="415" y2="605.6" stroke="#111" stroke-width="1.3"/>
<line x1="313.6" y1="605.6" x2="323" y2="605.6" stroke="#111" stroke-width="1.1"/>
<circle cx="313.6" cy="605.6" r="1.1" fill="#111"/>
<circle cx="406.3" cy="605.6" r="1.1" fill="#111"/>
<circle cx="414.4" cy="605.6" r="1.1" fill="#111"/>
<line x1="313.6" y1="606.8" x2="313.6" y2="617.5" stroke="#222" stroke-width="0.8"/>
<line x1="406.3" y1="608" x2="406.3" y2="612.5" stroke="#222" stroke-width="0.8"/>
<line x1="414.6" y1="597" x2="414.6" y2="601.5" stroke="#222" stroke-width="0.8"/>
<text x="299.00" y="626.40" font-size="6.2" fill="#222" text-anchor="start" font-weight="normal" textLength="43" lengthAdjust="spacingAndGlyphs">KDM6A G1077E</text>
<text x="390.60" y="580.80" font-size="6.2" fill="#222" text-anchor="start" font-weight="normal" textLength="37.5" lengthAdjust="spacingAndGlyphs">U2AF1 Q157R</text>
<text x="390.60" y="588.20" font-size="6.2" fill="#222" text-anchor="start" font-weight="normal" textLength="37.5" lengthAdjust="spacingAndGlyphs">&amp; U2AF1 S34F</text>
<text x="390.60" y="595.10" font-size="6.2" fill="#222" text-anchor="start" font-weight="normal" textLength="46.3" lengthAdjust="spacingAndGlyphs">&amp; SETBP1 D868N</text>
<text x="396.00" y="621.00" font-size="6.2" fill="#222" text-anchor="start" font-weight="normal" textLength="24.5" lengthAdjust="spacingAndGlyphs">DNMT3A</text>
<text x="396.00" y="628.30" font-size="6.2" fill="#222" text-anchor="start" font-weight="normal" textLength="31.3" lengthAdjust="spacingAndGlyphs">C351Afs*56</text>
<defs><linearGradient id="gl" x1="0" x2="1"><stop offset="0" stop-color="#222"/><stop offset="0.255" stop-color="#222"/><stop offset="0.386" stop-color="#999"/><stop offset="0.467" stop-color="#f4f4f4"/><stop offset="0.522" stop-color="#f4f4f4"/><stop offset="0.613" stop-color="#999"/><stop offset="0.689" stop-color="#222"/><stop offset="1" stop-color="#222"/></linearGradient><linearGradient id="fan" x1="0" y1="0" x2="0" y2="1"><stop offset="0" stop-color="#f3b49a" stop-opacity="0.85"/><stop offset="0.6" stop-color="#f9dccf" stop-opacity="0.45"/><stop offset="1" stop-color="#fdf0ea" stop-opacity="0.0"/></linearGradient></defs>
<rect x="33.6" y="550.6" width="198" height="1.3" fill="url(#gl)"/>
<text x="29.30" y="546.90" font-size="6.8" fill="#333" text-anchor="start" font-weight="normal" font-style="italic" textLength="17.2" lengthAdjust="spacingAndGlyphs">U2AF1</text>
<path d="M62,555.2 L83.5,555.2 L104,570 L40,570 Z" fill="url(#fan)"/>
<path d="M174.1,555.3 L195.8,555.3 L217,569 L158,569 Z" fill="url(#fan)"/>
<rect x="61.9" y="546.8" width="21.6" height="8.8" fill="#dedede" stroke="#777" stroke-width="0.7"/>
<text x="72.70" y="553.30" font-size="5.9" fill="#333" text-anchor="middle" font-weight="normal" textLength="17.6" lengthAdjust="spacingAndGlyphs">Exon 2</text>
<rect x="174.1" y="546.8" width="21.700000000000017" height="8.8" fill="#dedede" stroke="#777" stroke-width="0.7"/>
<text x="184.95" y="553.30" font-size="5.9" fill="#333" text-anchor="middle" font-weight="normal" textLength="17.6" lengthAdjust="spacingAndGlyphs">Exon 7</text>
<text x="76.30" y="572.20" font-size="5.8" fill="#222" text-anchor="middle" font-weight="normal" >34</text>
<text x="48.80" y="580.20" font-size="5.3" fill="#2a9a2a" text-anchor="middle" font-weight="bold" >A</text>
<text x="52.73" y="580.20" font-size="5.3" fill="#111" text-anchor="middle" font-weight="bold" >G</text>
<text x="56.66" y="580.20" font-size="5.3" fill="#111" text-anchor="middle" font-weight="bold" >G</text>
<text x="60.59" y="580.20" font-size="5.3" fill="#d42020" text-anchor="middle" font-weight="bold" >T</text>
<text x="64.51" y="580.20" font-size="5.3" fill="#111" text-anchor="middle" font-weight="bold" >G</text>
<text x="68.44" y="580.20" font-size="5.3" fill="#3040c0" text-anchor="middle" font-weight="bold" >C</text>
<text x="72.37" y="580.20" font-size="5.3" fill="#d42020" text-anchor="middle" font-weight="bold" >T</text>
<text x="76.30" y="580.20" font-size="5.3" fill="#111" text-anchor="middle" font-weight="bold" >C</text>
<text x="80.23" y="580.20" font-size="5.3" fill="#d42020" text-anchor="middle" font-weight="bold" >T</text>
<text x="84.16" y="580.20" font-size="5.3" fill="#3040c0" text-anchor="middle" font-weight="bold" >C</text>
<text x="88.09" y="580.20" font-size="5.3" fill="#111" text-anchor="middle" font-weight="bold" >G</text>
<text x="92.01" y="580.20" font-size="5.3" fill="#111" text-anchor="middle" font-weight="bold" >G</text>
<text x="95.94" y="580.20" font-size="5.3" fill="#d42020" text-anchor="middle" font-weight="bold" >T</text>
<text x="99.87" y="580.20" font-size="5.3" fill="#d42020" text-anchor="middle" font-weight="bold" >T</text>
<text x="103.80" y="580.20" font-size="5.3" fill="#111" text-anchor="middle" font-weight="bold" >G</text>
<text x="54.80" y="586.40" font-size="5.4" fill="#111" text-anchor="middle" font-weight="bold" >R</text>
<text x="66.20" y="586.40" font-size="5.4" fill="#111" text-anchor="middle" font-weight="bold" >C</text>
<text x="76.30" y="586.40" font-size="5.4" fill="#111" text-anchor="middle" font-weight="bold" >S</text>
<text x="89.10" y="586.40" font-size="5.4" fill="#111" text-anchor="middle" font-weight="bold" >R</text>
<text x="99.20" y="586.40" font-size="5.4" fill="#111" text-anchor="middle" font-weight="bold" >L</text>
<rect x="69.9" y="574.1" width="13.2" height="13.5" fill="none" stroke="#333" stroke-width="0.5" stroke-dasharray="1.2,0.8"/>
<text x="180.20" y="572.20" font-size="5.8" fill="#222" text-anchor="middle" font-weight="normal" >157</text>
<text x="155.00" y="579.50" font-size="5.3" fill="#d42020" text-anchor="middle" font-weight="bold" >T</text>
<text x="158.91" y="579.50" font-size="5.3" fill="#111" text-anchor="middle" font-weight="bold" >G</text>
<text x="162.81" y="579.50" font-size="5.3" fill="#3040c0" text-anchor="middle" font-weight="bold" >C</text>
<text x="166.72" y="579.50" font-size="5.3" fill="#3040c0" text-anchor="middle" font-weight="bold" >C</text>
<text x="170.63" y="579.50" font-size="5.3" fill="#111" text-anchor="middle" font-weight="bold" >G</text>
<text x="174.54" y="579.50" font-size="5.3" fill="#d42020" text-anchor="middle" font-weight="bold" >T</text>
<text x="178.44" y="579.50" font-size="5.3" fill="#3040c0" text-anchor="middle" font-weight="bold" >C</text>
<text x="182.35" y="579.50" font-size="5.3" fill="#2a9a2a" text-anchor="middle" font-weight="bold" >A</text>
<text x="186.26" y="579.50" font-size="5.3" fill="#111" text-anchor="middle" font-weight="bold" >G</text>
<text x="190.16" y="579.50" font-size="5.3" fill="#d42020" text-anchor="middle" font-weight="bold" >T</text>
<text x="194.07" y="579.50" font-size="5.3" fill="#2a9a2a" text-anchor="middle" font-weight="bold" >A</text>
<text x="197.98" y="579.50" font-size="5.3" fill="#d42020" text-anchor="middle" font-weight="bold" >T</text>
<text x="201.89" y="579.50" font-size="5.3" fill="#111" text-anchor="middle" font-weight="bold" >G</text>
<text x="205.79" y="579.50" font-size="5.3" fill="#2a9a2a" text-anchor="middle" font-weight="bold" >A</text>
<text x="209.70" y="579.50" font-size="5.3" fill="#111" text-anchor="middle" font-weight="bold" >G</text>
<text x="158.80" y="585.50" font-size="5.4" fill="#111" text-anchor="middle" font-weight="bold" >C</text>
<text x="170.40" y="585.50" font-size="5.4" fill="#111" text-anchor="middle" font-weight="bold" >R</text>
<text x="182.80" y="585.50" font-size="5.4" fill="#111" text-anchor="middle" font-weight="bold" >Q</text>
<text x="194.00" y="585.50" font-size="5.4" fill="#111" text-anchor="middle" font-weight="bold" >Y</text>
<text x="205.00" y="585.50" font-size="5.4" fill="#111" text-anchor="middle" font-weight="bold" >E</text>
<rect x="176.4" y="573.4" width="11.8" height="13.4" fill="none" stroke="#333" stroke-width="0.5" stroke-dasharray="1.2,0.8"/>
<rect x="71.2" y="588.8" width="11.099999999999994" height="21.6" fill="#c4d4ee"/>
<rect x="71.2" y="612.9" width="11.099999999999994" height="21" fill="#c4d4ee"/>
<rect x="177.6" y="588.8" width="11.0" height="21.6" fill="#c4d4ee"/>
<rect x="177.6" y="612.9" width="11.0" height="21" fill="#c4d4ee"/>
<path d="M35.40,610.3 C36.45,610.3 36.87,601.30 37.50,601.30 C38.13,601.30 38.55,610.3 39.60,610.3" fill="none" stroke="#444444" stroke-width="0.7" stroke-opacity="0.17"/>
<path d="M38.98,610.3 C40.03,610.3 40.45,602.90 41.08,602.90 C41.71,602.90 42.13,610.3 43.18,610.3" fill="none" stroke="#444444" stroke-width="0.7" stroke-opacity="0.30"/>
<path d="M42.55,610.3 C43.60,610.3 44.02,594.80 44.65,594.80 C45.28,594.80 45.70,610.3 46.75,610.3" fill="none" stroke="#6cc050" stroke-width="0.7" stroke-opacity="0.40"/>
<path d="M46.13,610.3 C47.18,610.3 47.60,598.90 48.23,598.90 C48.86,598.90 49.28,610.3 50.33,610.3" fill="none" stroke="#6878e0" stroke-width="0.7" stroke-opacity="0.50"/>
<path d="M49.71,610.3 C50.76,610.3 51.18,602.90 51.81,602.90 C52.44,602.90 52.86,610.3 53.91,610.3" fill="none" stroke="#6cc050" stroke-width="0.7" stroke-opacity="0.50"/>
<path d="M53.29,610.3 C54.34,610.3 54.76,600.50 55.39,600.50 C56.02,600.50 56.44,610.3 57.49,610.3" fill="none" stroke="#444444" stroke-width="0.7" stroke-opacity="0.55"/>
<path d="M56.86,610.3 C57.91,610.3 58.33,595.10 58.96,595.10 C59.59,595.10 60.01,610.3 61.06,610.3" fill="none" stroke="#444444" stroke-width="0.7" stroke-opacity="0.55"/>
<path d="M60.44,610.3 C61.49,610.3 61.91,602.90 62.54,602.90 C63.17,602.90 63.59,610.3 64.64,610.3" fill="none" stroke="#e06060" stroke-width="0.7" stroke-opacity="0.50"/>
<path d="M64.02,610.3 C65.07,610.3 65.49,591.80 66.12,591.80 C66.75,591.80 67.17,610.3 68.22,610.3" fill="none" stroke="#444444" stroke-width="0.7" stroke-opacity="0.55"/>
<path d="M67.60,610.3 C68.65,610.3 69.07,600.00 69.70,600.00 C70.33,600.00 70.75,610.3 71.80,610.3" fill="none" stroke="#6878e0" stroke-width="0.7" stroke-opacity="0.50"/>
<path d="M71.17,610.3 C72.22,610.3 72.64,597.20 73.27,597.20 C73.90,597.20 74.32,610.3 75.37,610.3" fill="none" stroke="#e06060" stroke-width="0.7" stroke-opacity="0.50"/>
<path d="M74.75,610.3 C75.80,610.3 76.22,597.70 76.85,597.70 C77.48,597.70 77.90,610.3 78.95,610.3" fill="none" stroke="#6878e0" stroke-width="0.7" stroke-opacity="0.50"/>
<path d="M78.33,610.3 C79.38,610.3 79.80,600.00 80.43,600.00 C81.06,600.00 81.48,610.3 82.53,610.3" fill="none" stroke="#e06060" stroke-width="0.7" stroke-opacity="0.50"/>
<path d="M81.90,610.3 C82.95,610.3 83.37,598.90 84.00,598.90 C84.63,598.90 85.05,610.3 86.10,610.3" fill="none" stroke="#6878e0" stroke-width="0.7" stroke-opacity="0.50"/>
<path d="M85.48,610.3 C86.53,610.3 86.95,601.30 87.58,601.30 C88.21,601.30 88.63,610.3 89.68,610.3" fill="none" stroke="#444444" stroke-width="0.7" stroke-opacity="0.55"/>
<path d="M89.06,610.3 C90.11,610.3 90.53,598.90 91.16,598.90 C91.79,598.90 92.21,610.3 93.26,610.3" fill="none" stroke="#444444" stroke-width="0.7" stroke-opacity="0.55"/>
<path d="M92.64,610.3 C93.69,610.3 94.11,602.10 94.74,602.10 C95.37,602.10 95.79,610.3 96.84,610.3" fill="none" stroke="#e06060" stroke-width="0.7" stroke-opacity="0.50"/>
<path d="M96.21,610.3 C97.26,610.3 97.68,598.10 98.31,598.10 C98.94,598.10 99.36,610.3 100.41,610.3" fill="none" stroke="#e06060" stroke-width="0.7" stroke-opacity="0.50"/>
<path d="M99.79,610.3 C100.84,610.3 101.26,591.20 101.89,591.20 C102.52,591.20 102.94,610.3 103.99,610.3" fill="none" stroke="#444444" stroke-width="0.7" stroke-opacity="0.55"/>
<path d="M103.37,610.3 C104.42,610.3 104.84,598.90 105.47,598.90 C106.10,598.90 106.52,610.3 107.57,610.3" fill="none" stroke="#6878e0" stroke-width="0.7" stroke-opacity="0.50"/>
<path d="M106.95,610.3 C108.00,610.3 108.42,602.10 109.05,602.10 C109.68,602.10 110.10,610.3 111.15,610.3" fill="none" stroke="#6cc050" stroke-width="0.7" stroke-opacity="0.40"/>
<path d="M110.52,610.3 C111.57,610.3 111.99,598.10 112.62,598.10 C113.25,598.10 113.67,610.3 114.72,610.3" fill="none" stroke="#6878e0" stroke-width="0.7" stroke-opacity="0.28"/>
<path d="M114.10,610.3 C115.15,610.3 115.57,602.90 116.20,602.90 C116.83,602.90 117.25,610.3 118.30,610.3" fill="none" stroke="#6cc050" stroke-width="0.7" stroke-opacity="0.15"/>
<line x1="35.5" y1="610.3" x2="118.2" y2="610.3" stroke="#e6b8b8" stroke-width="0.5"/>
<path d="M35.40,633.7 C36.45,633.7 36.87,624.70 37.50,624.70 C38.13,624.70 38.55,633.7 39.60,633.7" fill="none" stroke="#444444" stroke-width="0.7" stroke-opacity="0.17"/>
<path d="M38.98,633.7 C40.03,633.7 40.45,626.30 41.08,626.30 C41.71,626.30 42.13,633.7 43.18,633.7" fill="none" stroke="#444444" stroke-width="0.7" stroke-opacity="0.30"/>
<path d="M42.55,633.7 C43.60,633.7 44.02,618.20 44.65,618.20 C45.28,618.20 45.70,633.7 46.75,633.7" fill="none" stroke="#6cc050" stroke-width="0.7" stroke-opacity="0.40"/>
<path d="M46.13,633.7 C47.18,633.7 47.60,622.30 48.23,622.30 C48.86,622.30 49.28,633.7 50.33,633.7" fill="none" stroke="#6878e0" stroke-width="0.7" stroke-opacity="0.50"/>
<path d="M49.71,633.7 C50.76,633.7 51.18,626.30 51.81,626.30 C52.44,626.30 52.86,633.7 53.91,633.7" fill="none" stroke="#6cc050" stroke-width="0.7" stroke-opacity="0.50"/>
<path d="M53.29,633.7 C54.34,633.7 54.76,623.90 55.39,623.90 C56.02,623.90 56.44,633.7 57.49,633.7" fill="none" stroke="#444444" stroke-width="0.7" stroke-opacity="0.55"/>
<path d="M56.86,633.7 C57.91,633.7 58.33,618.50 58.96,618.50 C59.59,618.50 60.01,633.7 61.06,633.7" fill="none" stroke="#444444" stroke-width="0.7" stroke-opacity="0.55"/>
<path d="M60.44,633.7 C61.49,633.7 61.91,626.30 62.54,626.30 C63.17,626.30 63.59,633.7 64.64,633.7" fill="none" stroke="#e06060" stroke-width="0.7" stroke-opacity="0.50"/>
<path d="M64.02,633.7 C65.07,633.7 65.49,615.20 66.12,615.20 C66.75,615.20 67.17,633.7 68.22,633.7" fill="none" stroke="#444444" stroke-width="0.7" stroke-opacity="0.55"/>
<path d="M67.60,633.7 C68.65,633.7 69.07,623.40 69.70,623.40 C70.33,623.40 70.75,633.7 71.80,633.7" fill="none" stroke="#6878e0" stroke-width="0.7" stroke-opacity="0.50"/>
<path d="M71.17,633.7 C72.22,633.7 72.64,620.60 73.27,620.60 C73.90,620.60 74.32,633.7 75.37,633.7" fill="none" stroke="#e06060" stroke-width="0.7" stroke-opacity="0.50"/>
<path d="M74.75,633.7 C75.80,633.7 76.22,621.10 76.85,621.10 C77.48,621.10 77.90,633.7 78.95,633.7" fill="none" stroke="#6878e0" stroke-width="0.7" stroke-opacity="0.50"/>
<path d="M78.33,633.7 C79.38,633.7 79.80,621.10 80.43,621.10 C81.06,621.10 81.48,633.7 82.53,633.7" fill="none" stroke="#e06060" stroke-width="0.7" stroke-opacity="0.50"/>
<path d="M81.90,633.7 C82.95,633.7 83.37,622.30 84.00,622.30 C84.63,622.30 85.05,633.7 86.10,633.7" fill="none" stroke="#6878e0" stroke-width="0.7" stroke-opacity="0.50"/>
<path d="M85.48,633.7 C86.53,633.7 86.95,624.70 87.58,624.70 C88.21,624.70 88.63,633.7 89.68,633.7" fill="none" stroke="#444444" stroke-width="0.7" stroke-opacity="0.55"/>
<path d="M89.06,633.7 C90.11,633.7 90.53,622.30 91.16,622.30 C91.79,622.30 92.21,633.7 93.26,633.7" fill="none" stroke="#444444" stroke-width="0.7" stroke-opacity="0.55"/>
<path d="M92.64,633.7 C93.69,633.7 94.11,625.50 94.74,625.50 C95.37,625.50 95.79,633.7 96.84,633.7" fill="none" stroke="#e06060" stroke-width="0.7" stroke-opacity="0.50"/>
<path d="M96.21,633.7 C97.26,633.7 97.68,621.50 98.31,621.50 C98.94,621.50 99.36,633.7 100.41,633.7" fill="none" stroke="#e06060" stroke-width="0.7" stroke-opacity="0.50"/>
<path d="M99.79,633.7 C100.84,633.7 101.26,614.60 101.89,614.60 C102.52,614.60 102.94,633.7 103.99,633.7" fill="none" stroke="#444444" stroke-width="0.7" stroke-opacity="0.55"/>
<path d="M103.37,633.7 C104.42,633.7 104.84,622.30 105.47,622.30 C106.10,622.30 106.52,633.7 107.57,633.7" fill="none" stroke="#6878e0" stroke-width="0.7" stroke-opacity="0.50"/>
<path d="M106.95,633.7 C108.00,633.7 108.42,625.50 109.05,625.50 C109.68,625.50 110.10,633.7 111.15,633.7" fill="none" stroke="#6cc050" stroke-width="0.7" stroke-opacity="0.40"/>
<path d="M110.52,633.7 C111.57,633.7 111.99,621.50 112.62,621.50 C113.25,621.50 113.67,633.7 114.72,633.7" fill="none" stroke="#6878e0" stroke-width="0.7" stroke-opacity="0.28"/>
<path d="M114.10,633.7 C115.15,633.7 115.57,626.30 116.20,626.30 C116.83,626.30 117.25,633.7 118.30,633.7" fill="none" stroke="#6cc050" stroke-width="0.7" stroke-opacity="0.15"/>
<line x1="35.5" y1="633.7" x2="118.2" y2="633.7" stroke="#e6b8b8" stroke-width="0.5"/>
<path d="M141.10,610.1 C142.15,610.1 142.57,598.90 143.20,598.90 C143.83,598.90 144.25,610.1 145.30,610.1" fill="none" stroke="#6878e0" stroke-width="0.7" stroke-opacity="0.15"/>
<path d="M144.70,610.1 C145.75,610.1 146.17,598.90 146.80,598.90 C147.43,598.90 147.85,610.1 148.90,610.1" fill="none" stroke="#e06060" stroke-width="0.7" stroke-opacity="0.28"/>
<path d="M148.29,610.1 C149.34,610.1 149.76,592.80 150.39,592.80 C151.02,592.80 151.44,610.1 152.49,610.1" fill="none" stroke="#444444" stroke-width="0.7" stroke-opacity="0.44"/>
<path d="M151.89,610.1 C152.94,610.1 153.36,600.60 153.99,600.60 C154.62,600.60 155.04,610.1 156.09,610.1" fill="none" stroke="#6878e0" stroke-width="0.7" stroke-opacity="0.50"/>
<path d="M155.48,610.1 C156.53,610.1 156.95,598.00 157.58,598.00 C158.21,598.00 158.63,610.1 159.68,610.1" fill="none" stroke="#e06060" stroke-width="0.7" stroke-opacity="0.50"/>
<path d="M159.08,610.1 C160.13,610.1 160.55,595.40 161.18,595.40 C161.81,595.40 162.23,610.1 163.28,610.1" fill="none" stroke="#444444" stroke-width="0.7" stroke-opacity="0.55"/>
<path d="M162.67,610.1 C163.72,610.1 164.14,600.60 164.77,600.60 C165.40,600.60 165.82,610.1 166.87,610.1" fill="none" stroke="#6878e0" stroke-width="0.7" stroke-opacity="0.50"/>
<path d="M166.27,610.1 C167.32,610.1 167.74,598.00 168.37,598.00 C169.00,598.00 169.42,610.1 170.47,610.1" fill="none" stroke="#6878e0" stroke-width="0.7" stroke-opacity="0.50"/>
<path d="M169.86,610.1 C170.91,610.1 171.33,598.90 171.96,598.90 C172.59,598.90 173.01,610.1 174.06,610.1" fill="none" stroke="#444444" stroke-width="0.7" stroke-opacity="0.55"/>
<path d="M173.46,610.1 C174.51,610.1 174.93,601.40 175.56,601.40 C176.19,601.40 176.61,610.1 177.66,610.1" fill="none" stroke="#e06060" stroke-width="0.7" stroke-opacity="0.50"/>
<path d="M177.05,610.1 C178.10,610.1 178.52,598.90 179.15,598.90 C179.78,598.90 180.20,610.1 181.25,610.1" fill="none" stroke="#6878e0" stroke-width="0.7" stroke-opacity="0.50"/>
<path d="M180.65,610.1 C181.70,610.1 182.12,601.40 182.75,601.40 C183.38,601.40 183.80,610.1 184.85,610.1" fill="none" stroke="#6cc050" stroke-width="0.7" stroke-opacity="0.50"/>
<path d="M184.25,610.1 C185.30,610.1 185.72,601.40 186.35,601.40 C186.98,601.40 187.40,610.1 188.45,610.1" fill="none" stroke="#444444" stroke-width="0.7" stroke-opacity="0.55"/>
<path d="M187.84,610.1 C188.89,610.1 189.31,601.40 189.94,601.40 C190.57,601.40 190.99,610.1 192.04,610.1" fill="none" stroke="#e06060" stroke-width="0.7" stroke-opacity="0.50"/>
<path d="M191.44,610.1 C192.49,610.1 192.91,598.00 193.54,598.00 C194.17,598.00 194.59,610.1 195.64,610.1" fill="none" stroke="#6cc050" stroke-width="0.7" stroke-opacity="0.50"/>
<path d="M195.03,610.1 C196.08,610.1 196.50,595.70 197.13,595.70 C197.76,595.70 198.18,610.1 199.23,610.1" fill="none" stroke="#e06060" stroke-width="0.7" stroke-opacity="0.50"/>
<path d="M198.63,610.1 C199.68,610.1 200.10,597.10 200.73,597.10 C201.36,597.10 201.78,610.1 202.83,610.1" fill="none" stroke="#444444" stroke-width="0.7" stroke-opacity="0.55"/>
<path d="M202.22,610.1 C203.27,610.1 203.69,594.50 204.32,594.50 C204.95,594.50 205.37,610.1 206.42,610.1" fill="none" stroke="#6cc050" stroke-width="0.7" stroke-opacity="0.50"/>
<path d="M205.82,610.1 C206.87,610.1 207.29,602.30 207.92,602.30 C208.55,602.30 208.97,610.1 210.02,610.1" fill="none" stroke="#444444" stroke-width="0.7" stroke-opacity="0.55"/>
<path d="M209.41,610.1 C210.46,610.1 210.88,591.90 211.51,591.90 C212.14,591.90 212.56,610.1 213.61,610.1" fill="none" stroke="#6cc050" stroke-width="0.7" stroke-opacity="0.50"/>
<path d="M213.01,610.1 C214.06,610.1 214.48,599.70 215.11,599.70 C215.74,599.70 216.16,610.1 217.21,610.1" fill="none" stroke="#e06060" stroke-width="0.7" stroke-opacity="0.40"/>
<path d="M216.60,610.1 C217.65,610.1 218.07,595.70 218.70,595.70 C219.33,595.70 219.75,610.1 220.80,610.1" fill="none" stroke="#444444" stroke-width="0.7" stroke-opacity="0.30"/>
<path d="M220.20,610.1 C221.25,610.1 221.67,600.60 222.30,600.60 C222.93,600.60 223.35,610.1 224.40,610.1" fill="none" stroke="#444444" stroke-width="0.7" stroke-opacity="0.17"/>
<line x1="141.2" y1="610.1" x2="224.3" y2="610.1" stroke="#e6b8b8" stroke-width="0.5"/>
<path d="M141.10,633.8 C142.15,633.8 142.57,622.60 143.20,622.60 C143.83,622.60 144.25,633.8 145.30,633.8" fill="none" stroke="#6878e0" stroke-width="0.7" stroke-opacity="0.15"/>
<path d="M144.70,633.8 C145.75,633.8 146.17,622.60 146.80,622.60 C147.43,622.60 147.85,633.8 148.90,633.8" fill="none" stroke="#e06060" stroke-width="0.7" stroke-opacity="0.28"/>
<path d="M148.29,633.8 C149.34,633.8 149.76,616.50 150.39,616.50 C151.02,616.50 151.44,633.8 152.49,633.8" fill="none" stroke="#444444" stroke-width="0.7" stroke-opacity="0.44"/>
<path d="M151.89,633.8 C152.94,633.8 153.36,624.30 153.99,624.30 C154.62,624.30 155.04,633.8 156.09,633.8" fill="none" stroke="#6878e0" stroke-width="0.7" stroke-opacity="0.50"/>
<path d="M155.48,633.8 C156.53,633.8 156.95,621.70 157.58,621.70 C158.21,621.70 158.63,633.8 159.68,633.8" fill="none" stroke="#e06060" stroke-width="0.7" stroke-opacity="0.50"/>
<path d="M159.08,633.8 C160.13,633.8 160.55,619.10 161.18,619.10 C161.81,619.10 162.23,633.8 163.28,633.8" fill="none" stroke="#444444" stroke-width="0.7" stroke-opacity="0.55"/>
<path d="M162.67,633.8 C163.72,633.8 164.14,624.30 164.77,624.30 C165.40,624.30 165.82,633.8 166.87,633.8" fill="none" stroke="#6878e0" stroke-width="0.7" stroke-opacity="0.50"/>
<path d="M166.27,633.8 C167.32,633.8 167.74,621.70 168.37,621.70 C169.00,621.70 169.42,633.8 170.47,633.8" fill="none" stroke="#6878e0" stroke-width="0.7" stroke-opacity="0.50"/>
<path d="M169.86,633.8 C170.91,633.8 171.33,622.60 171.96,622.60 C172.59,622.60 173.01,633.8 174.06,633.8" fill="none" stroke="#444444" stroke-width="0.7" stroke-opacity="0.55"/>
<path d="M173.46,633.8 C174.51,633.8 174.93,625.10 175.56,625.10 C176.19,625.10 176.61,633.8 177.66,633.8" fill="none" stroke="#e06060" stroke-width="0.7" stroke-opacity="0.50"/>
<path d="M177.05,633.8 C178.10,633.8 178.52,622.60 179.15,622.60 C179.78,622.60 180.20,633.8 181.25,633.8" fill="none" stroke="#6878e0" stroke-width="0.7" stroke-opacity="0.50"/>
<path d="M180.65,633.8 C181.70,633.8 182.12,623.30 182.75,623.30 C183.38,623.30 183.80,633.8 184.85,633.8" fill="none" stroke="#6cc050" stroke-width="0.7" stroke-opacity="0.50"/>
<path d="M184.25,633.8 C185.30,633.8 185.72,625.10 186.35,625.10 C186.98,625.10 187.40,633.8 188.45,633.8" fill="none" stroke="#444444" stroke-width="0.7" stroke-opacity="0.55"/>
<path d="M187.84,633.8 C188.89,633.8 189.31,623.30 189.94,623.30 C190.57,623.30 190.99,633.8 192.04,633.8" fill="none" stroke="#e06060" stroke-width="0.7" stroke-opacity="0.50"/>
<path d="M191.44,633.8 C192.49,633.8 192.91,621.70 193.54,621.70 C194.17,621.70 194.59,633.8 195.64,633.8" fill="none" stroke="#6cc050" stroke-width="0.7" stroke-opacity="0.50"/>
<path d="M195.03,633.8 C196.08,633.8 196.50,619.40 197.13,619.40 C197.76,619.40 198.18,633.8 199.23,633.8" fill="none" stroke="#e06060" stroke-width="0.7" stroke-opacity="0.50"/>
<path d="M198.63,633.8 C199.68,633.8 200.10,620.80 200.73,620.80 C201.36,620.80 201.78,633.8 202.83,633.8" fill="none" stroke="#444444" stroke-width="0.7" stroke-opacity="0.55"/>
<path d="M202.22,633.8 C203.27,633.8 203.69,618.20 204.32,618.20 C204.95,618.20 205.37,633.8 206.42,633.8" fill="none" stroke="#6cc050" stroke-width="0.7" stroke-opacity="0.50"/>
<path d="M205.82,633.8 C206.87,633.8 207.29,626.00 207.92,626.00 C208.55,626.00 208.97,633.8 210.02,633.8" fill="none" stroke="#444444" stroke-width="0.7" stroke-opacity="0.55"/>
<path d="M209.41,633.8 C210.46,633.8 210.88,615.60 211.51,615.60 C212.14,615.60 212.56,633.8 213.61,633.8" fill="none" stroke="#6cc050" stroke-width="0.7" stroke-opacity="0.50"/>
<path d="M213.01,633.8 C214.06,633.8 214.48,623.40 215.11,623.40 C215.74,623.40 216.16,633.8 217.21,633.8" fill="none" stroke="#e06060" stroke-width="0.7" stroke-opacity="0.40"/>
<path d="M216.60,633.8 C217.65,633.8 218.07,619.40 218.70,619.40 C219.33,619.40 219.75,633.8 220.80,633.8" fill="none" stroke="#444444" stroke-width="0.7" stroke-opacity="0.30"/>
<path d="M220.20,633.8 C221.25,633.8 221.67,624.30 222.30,624.30 C222.93,624.30 223.35,633.8 224.40,633.8" fill="none" stroke="#444444" stroke-width="0.7" stroke-opacity="0.17"/>
<line x1="141.2" y1="633.8" x2="224.3" y2="633.8" stroke="#e6b8b8" stroke-width="0.5"/>
<circle cx="76.7" cy="616.9" r="0.9" fill="#d02020"/>
<circle cx="182.8" cy="617.2" r="0.9" fill="#d02020"/>
<text x="12.60" y="599.00" font-size="5.9" fill="#333" text-anchor="start" font-weight="normal" textLength="19.4" lengthAdjust="spacingAndGlyphs">Allele 1</text>
<text x="12.60" y="623.60" font-size="5.9" fill="#333" text-anchor="start" font-weight="normal" textLength="19.4" lengthAdjust="spacingAndGlyphs">Allele 2</text>
<text x="118.50" y="599.20" font-size="5.8" fill="#333" text-anchor="start" font-weight="normal" >WT</text>
<text x="118.50" y="623.40" font-size="5.8" fill="#b3143c" text-anchor="start" font-weight="normal" >S34F</text>
<text x="227.50" y="598.50" font-size="5.8" fill="#333" text-anchor="start" font-weight="normal" >WT</text>
<text x="225.20" y="623.20" font-size="5.8" fill="#b3143c" text-anchor="start" font-weight="normal" >Q157R</text>
<rect x="248.3" y="588.3" width="27.4" height="46.1" fill="#fff" stroke="#222" stroke-width="0.8"/>
<line x1="248.3" y1="610.5" x2="275.7" y2="610.5" stroke="#222" stroke-width="0.8"/>
<text x="262.00" y="596.90" font-size="5.9" fill="#333" text-anchor="middle" font-weight="normal" textLength="15.2" lengthAdjust="spacingAndGlyphs">41/45</text>
<text x="262.00" y="603.90" font-size="5.9" fill="#333" text-anchor="middle" font-weight="normal" textLength="21.2" lengthAdjust="spacingAndGlyphs">colonies</text>
<text x="262.00" y="619.60" font-size="5.9" fill="#333" text-anchor="middle" font-weight="normal" textLength="12" lengthAdjust="spacingAndGlyphs">4/45</text>
<text x="262.00" y="626.80" font-size="5.9" fill="#333" text-anchor="middle" font-weight="normal" textLength="21.2" lengthAdjust="spacingAndGlyphs">colonies</text>
<rect x="131.90" y="680.80" width="1.95" height="9.35" fill="#a3b7d9"/>
<rect x="131.90" y="690.05" width="1.95" height="9.35" fill="#b2c3df"/>
<rect x="131.90" y="699.30" width="1.95" height="9.35" fill="#c7d3e8"/>
<rect x="131.90" y="708.55" width="1.95" height="9.35" fill="#a7badb"/>
<rect x="131.90" y="717.80" width="1.95" height="9.35" fill="#cad5e9"/>
<rect x="131.90" y="727.05" width="1.95" height="9.35" fill="#6e8dc3"/>
<rect x="131.90" y="736.30" width="1.95" height="9.35" fill="#6f8ec4"/>
<rect x="131.90" y="745.55" width="1.95" height="9.35" fill="#6c8cc2"/>
<rect x="133.70" y="680.80" width="2.35" height="9.35" fill="#c5d1e7"/>
<rect x="133.70" y="690.05" width="2.35" height="9.35" fill="#cfd9eb"/>
<rect x="133.70" y="699.30" width="2.35" height="9.35" fill="#d8e1ef"/>
<rect x="133.70" y="708.55" width="2.35" height="9.35" fill="#9bb0d6"/>
<rect x="133.70" y="717.80" width="2.35" height="9.35" fill="#d1dbec"/>
<rect x="133.70" y="727.05" width="2.35" height="9.35" fill="#7291c5"/>
<rect x="133.70" y="736.30" width="2.35" height="9.35" fill="#7391c5"/>
<rect x="133.70" y="745.55" width="2.35" height="9.35" fill="#7391c5"/>
<rect x="135.90" y="680.80" width="1.95" height="9.35" fill="#9bb0d6"/>
<rect x="135.90" y="690.05" width="1.95" height="9.35" fill="#abbddc"/>
<rect x="135.90" y="699.30" width="1.95" height="9.35" fill="#b9c8e2"/>
<rect x="135.90" y="708.55" width="1.95" height="9.35" fill="#98afd5"/>
<rect x="135.90" y="717.80" width="1.95" height="9.35" fill="#dbe3f0"/>
<rect x="135.90" y="727.05" width="1.95" height="9.35" fill="#7190c4"/>
<rect x="135.90" y="736.30" width="1.95" height="9.35" fill="#6f8ec4"/>
<rect x="135.90" y="745.55" width="1.95" height="9.35" fill="#708fc4"/>
<rect x="137.70" y="680.80" width="1.95" height="9.35" fill="#acbedd"/>
<rect x="137.70" y="690.05" width="1.95" height="9.35" fill="#d4deed"/>
<rect x="137.70" y="699.30" width="1.95" height="9.35" fill="#d9e1ef"/>
<rect x="137.70" y="708.55" width="1.95" height="9.35" fill="#adbedd"/>
<rect x="137.70" y="717.80" width="1.95" height="9.35" fill="#d5deee"/>
<rect x="137.70" y="727.05" width="1.95" height="9.35" fill="#7492c5"/>
<rect x="137.70" y="736.30" width="1.95" height="9.35" fill="#7291c5"/>
<rect x="137.70" y="745.55" width="1.95" height="9.35" fill="#7492c6"/>
<rect x="139.50" y="680.80" width="2.35" height="9.35" fill="#a8bbdb"/>
<rect x="139.50" y="690.05" width="2.35" height="9.35" fill="#c3d0e6"/>
<rect x="139.50" y="699.30" width="2.35" height="9.35" fill="#dce3f0"/>
<rect x="139.50" y="708.55" width="2.35" height="9.35" fill="#9db2d7"/>
<rect x="139.50" y="717.80" width="2.35" height="9.35" fill="#b9c8e2"/>
<rect x="139.50" y="727.05" width="2.35" height="9.35" fill="#708fc4"/>
<rect x="139.50" y="736.30" width="2.35" height="9.35" fill="#6c8cc2"/>
<rect x="139.50" y="745.55" width="2.35" height="9.35" fill="#6c8bc2"/>
<rect x="141.70" y="680.80" width="2.35" height="9.35" fill="#a8badb"/>
<rect x="141.70" y="690.05" width="2.35" height="9.35" fill="#dbe3f0"/>
<rect x="141.70" y="699.30" width="2.35" height="9.35" fill="#d2dcec"/>
<rect x="141.70" y="708.55" width="2.35" height="9.35" fill="#a4b8da"/>
<rect x="141.70" y="717.80" width="2.35" height="9.35" fill="#c0cee5"/>
<rect x="141.70" y="727.05" width="2.35" height="9.35" fill="#7593c6"/>
<rect x="141.70" y="736.30" width="2.35" height="9.35" fill="#89a2ce"/>
<rect x="141.70" y="745.55" width="2.35" height="9.35" fill="#87a1cd"/>
<rect x="143.90" y="680.80" width="1.35" height="9.35" fill="#bbc9e3"/>
<rect x="143.90" y="690.05" width="1.35" height="9.35" fill="#c3d0e6"/>
<rect x="143.90" y="699.30" width="1.35" height="9.35" fill="#cdd8ea"/>
<rect x="143.90" y="708.55" width="1.35" height="9.35" fill="#9cb1d6"/>
<rect x="143.90" y="717.80" width="1.35" height="9.35" fill="#c7d3e8"/>
<rect x="143.90" y="727.05" width="1.35" height="9.35" fill="#708fc4"/>
<rect x="143.90" y="736.30" width="1.35" height="9.35" fill="#a0b4d8"/>
<rect x="143.90" y="745.55" width="1.35" height="9.35" fill="#98aed4"/>
<rect x="145.10" y="680.80" width="1.35" height="9.35" fill="#bdcbe4"/>
<rect x="145.10" y="690.05" width="1.35" height="9.35" fill="#d5deee"/>
<rect x="145.10" y="699.30" width="1.35" height="9.35" fill="#e5ebf4"/>
<rect x="145.10" y="708.55" width="1.35" height="9.35" fill="#b3c3e0"/>
<rect x="145.10" y="717.80" width="1.35" height="9.35" fill="#dfe6f2"/>
<rect x="145.10" y="727.05" width="1.35" height="9.35" fill="#839ecc"/>
<rect x="145.10" y="736.30" width="1.35" height="9.35" fill="#a8bbdb"/>
<rect x="145.10" y="745.55" width="1.35" height="9.35" fill="#a1b5d8"/>
<rect x="146.30" y="680.80" width="2.35" height="9.35" fill="#c0cee5"/>
<rect x="146.30" y="690.05" width="2.35" height="9.35" fill="#e1e8f3"/>
<rect x="146.30" y="699.30" width="2.35" height="9.35" fill="#f0f3f9"/>
<rect x="146.30" y="708.55" width="2.35" height="9.35" fill="#9fb4d7"/>
<rect x="146.30" y="717.80" width="2.35" height="9.35" fill="#ced9eb"/>
<rect x="146.30" y="727.05" width="2.35" height="9.35" fill="#87a1ce"/>
<rect x="146.30" y="736.30" width="2.35" height="9.35" fill="#acbedd"/>
<rect x="146.30" y="745.55" width="2.35" height="9.35" fill="#c0cde5"/>
<rect x="148.50" y="680.80" width="1.95" height="9.35" fill="#afc0de"/>
<rect x="148.50" y="690.05" width="1.95" height="9.35" fill="#becce4"/>
<rect x="148.50" y="699.30" width="1.95" height="9.35" fill="#e2e8f3"/>
<rect x="148.50" y="708.55" width="1.95" height="9.35" fill="#8ba4cf"/>
<rect x="148.50" y="717.80" width="1.95" height="9.35" fill="#bccbe3"/>
<rect x="148.50" y="727.05" width="1.95" height="9.35" fill="#6687c0"/>
<rect x="148.50" y="736.30" width="1.95" height="9.35" fill="#7391c5"/>
<rect x="148.50" y="745.55" width="1.95" height="9.35" fill="#86a0cd"/>
<rect x="150.30" y="680.80" width="2.95" height="9.35" fill="#b2c3df"/>
<rect x="150.30" y="690.05" width="2.95" height="9.35" fill="#b5c5e0"/>
<rect x="150.30" y="699.30" width="2.95" height="9.35" fill="#d7e0ef"/>
<rect x="150.30" y="708.55" width="2.95" height="9.35" fill="#93abd3"/>
<rect x="150.30" y="717.80" width="2.95" height="9.35" fill="#a4b8da"/>
<rect x="150.30" y="727.05" width="2.95" height="9.35" fill="#90a8d1"/>
<rect x="150.30" y="736.30" width="2.95" height="9.35" fill="#aabcdc"/>
<rect x="150.30" y="745.55" width="2.95" height="9.35" fill="#93aad2"/>
<rect x="153.10" y="680.80" width="2.35" height="9.35" fill="#b5c5e0"/>
<rect x="153.10" y="690.05" width="2.35" height="9.35" fill="#b3c4e0"/>
<rect x="153.10" y="699.30" width="2.35" height="9.35" fill="#dfe6f2"/>
<rect x="153.10" y="708.55" width="2.35" height="9.35" fill="#adbfdd"/>
<rect x="153.10" y="717.80" width="2.35" height="9.35" fill="#d1dbec"/>
<rect x="153.10" y="727.05" width="2.35" height="9.35" fill="#8ba4cf"/>
<rect x="153.10" y="736.30" width="2.35" height="9.35" fill="#aabcdc"/>
<rect x="153.10" y="745.55" width="2.35" height="9.35" fill="#b2c3df"/>
<rect x="155.30" y="680.80" width="1.35" height="9.35" fill="#c4d0e6"/>
<rect x="155.30" y="690.05" width="1.35" height="9.35" fill="#d6dfee"/>
<rect x="155.30" y="699.30" width="1.35" height="9.35" fill="#f8fafc"/>
<rect x="155.30" y="708.55" width="1.35" height="9.35" fill="#a1b5d8"/>
<rect x="155.30" y="717.80" width="1.35" height="9.35" fill="#b8c7e2"/>
<rect x="155.30" y="727.05" width="1.35" height="9.35" fill="#7f9bca"/>
<rect x="155.30" y="736.30" width="1.35" height="9.35" fill="#9cb1d6"/>
<rect x="155.30" y="745.55" width="1.35" height="9.35" fill="#a5b8da"/>
<rect x="156.50" y="680.80" width="0.95" height="9.35" fill="#cfd9eb"/>
<rect x="156.50" y="690.05" width="0.95" height="9.35" fill="#d2dcec"/>
<rect x="156.50" y="699.30" width="0.95" height="9.35" fill="#ffffff"/>
<rect x="156.50" y="708.55" width="0.95" height="9.35" fill="#aec0de"/>
<rect x="156.50" y="717.80" width="0.95" height="9.35" fill="#ebeff7"/>
<rect x="156.50" y="727.05" width="0.95" height="9.35" fill="#89a2ce"/>
<rect x="156.50" y="736.30" width="0.95" height="9.35" fill="#9bb1d6"/>
<rect x="156.50" y="745.55" width="0.95" height="9.35" fill="#96add4"/>
<rect x="157.30" y="680.80" width="1.95" height="9.35" fill="#ccd7ea"/>
<rect x="157.30" y="690.05" width="1.95" height="9.35" fill="#cfd9eb"/>
<rect x="157.30" y="699.30" width="1.95" height="9.35" fill="#e5eaf4"/>
<rect x="157.30" y="708.55" width="1.95" height="9.35" fill="#a7badb"/>
<rect x="157.30" y="717.80" width="1.95" height="9.35" fill="#d1dbec"/>
<rect x="157.30" y="727.05" width="1.95" height="9.35" fill="#7996c8"/>
<rect x="157.30" y="736.30" width="1.95" height="9.35" fill="#9cb1d6"/>
<rect x="157.30" y="745.55" width="1.95" height="9.35" fill="#9fb4d7"/>
<rect x="159.10" y="680.80" width="1.65" height="9.35" fill="#b3c3df"/>
<rect x="159.10" y="690.05" width="1.65" height="9.35" fill="#c7d3e8"/>
<rect x="159.10" y="699.30" width="1.65" height="9.35" fill="#e2e8f3"/>
<rect x="159.10" y="708.55" width="1.65" height="9.35" fill="#c3d0e6"/>
<rect x="159.10" y="717.80" width="1.65" height="9.35" fill="#cdd8ea"/>
<rect x="159.10" y="727.05" width="1.65" height="9.35" fill="#6082bd"/>
<rect x="159.10" y="736.30" width="1.65" height="9.35" fill="#849fcc"/>
<rect x="159.10" y="745.55" width="1.65" height="9.35" fill="#7e9aca"/>
<rect x="160.60" y="680.80" width="1.35" height="9.35" fill="#a6b9da"/>
<rect x="160.60" y="690.05" width="1.35" height="9.35" fill="#b7c7e1"/>
<rect x="160.60" y="699.30" width="1.35" height="9.35" fill="#cfd9eb"/>
<rect x="160.60" y="708.55" width="1.35" height="9.35" fill="#a3b7d9"/>
<rect x="160.60" y="717.80" width="1.35" height="9.35" fill="#cbd6e9"/>
<rect x="160.60" y="727.05" width="1.35" height="9.35" fill="#8aa3cf"/>
<rect x="160.60" y="736.30" width="1.35" height="9.35" fill="#b1c2df"/>
<rect x="160.60" y="745.55" width="1.35" height="9.35" fill="#9ab0d5"/>
<rect x="161.80" y="680.80" width="0.95" height="9.35" fill="#afc0de"/>
<rect x="161.80" y="690.05" width="0.95" height="9.35" fill="#b4c4e0"/>
<rect x="161.80" y="699.30" width="0.95" height="9.35" fill="#bfcde4"/>
<rect x="161.80" y="708.55" width="0.95" height="9.35" fill="#a8bbdb"/>
<rect x="161.80" y="717.80" width="0.95" height="9.35" fill="#b1c2df"/>
<rect x="161.80" y="727.05" width="0.95" height="9.35" fill="#819dcb"/>
<rect x="161.80" y="736.30" width="0.95" height="9.35" fill="#abbddc"/>
<rect x="161.80" y="745.55" width="0.95" height="9.35" fill="#9fb4d7"/>
<rect x="162.60" y="680.80" width="2.35" height="9.35" fill="#c2cfe6"/>
<rect x="162.60" y="690.05" width="2.35" height="9.35" fill="#dce4f1"/>
<rect x="162.60" y="699.30" width="2.35" height="9.35" fill="#f9fbfd"/>
<rect x="162.60" y="708.55" width="2.35" height="9.35" fill="#cad5e9"/>
<rect x="162.60" y="717.80" width="2.35" height="9.35" fill="#eaeef6"/>
<rect x="162.60" y="727.05" width="2.35" height="9.35" fill="#a1b5d8"/>
<rect x="162.60" y="736.30" width="2.35" height="9.35" fill="#cfd9eb"/>
<rect x="162.60" y="745.55" width="2.35" height="9.35" fill="#bdcbe4"/>
<rect x="164.80" y="680.80" width="2.95" height="9.35" fill="#b1c2df"/>
<rect x="164.80" y="690.05" width="2.95" height="9.35" fill="#bfcde5"/>
<rect x="164.80" y="699.30" width="2.95" height="9.35" fill="#cad6e9"/>
<rect x="164.80" y="708.55" width="2.95" height="9.35" fill="#859fcd"/>
<rect x="164.80" y="717.80" width="2.95" height="9.35" fill="#b0c1df"/>
<rect x="164.80" y="727.05" width="2.95" height="9.35" fill="#839ecc"/>
<rect x="164.80" y="736.30" width="2.95" height="9.35" fill="#aebfde"/>
<rect x="164.80" y="745.55" width="2.95" height="9.35" fill="#a8bbdb"/>
<rect x="167.60" y="680.80" width="2.95" height="9.35" fill="#aabcdc"/>
<rect x="167.60" y="690.05" width="2.95" height="9.35" fill="#c8d4e8"/>
<rect x="167.60" y="699.30" width="2.95" height="9.35" fill="#d6dfee"/>
<rect x="167.60" y="708.55" width="2.95" height="9.35" fill="#a0b5d8"/>
<rect x="167.60" y="717.80" width="2.95" height="9.35" fill="#bbcae3"/>
<rect x="167.60" y="727.05" width="2.95" height="9.35" fill="#7d99c9"/>
<rect x="167.60" y="736.30" width="2.95" height="9.35" fill="#93aad2"/>
<rect x="167.60" y="745.55" width="2.95" height="9.35" fill="#a1b5d8"/>
<rect x="170.40" y="680.80" width="0.95" height="9.35" fill="#c2cfe6"/>
<rect x="170.40" y="690.05" width="0.95" height="9.35" fill="#c7d3e8"/>
<rect x="170.40" y="699.30" width="0.95" height="9.35" fill="#cfd9eb"/>
<rect x="170.40" y="708.55" width="0.95" height="9.35" fill="#acbedd"/>
<rect x="170.40" y="717.80" width="0.95" height="9.35" fill="#b5c5e0"/>
<rect x="170.40" y="727.05" width="0.95" height="9.35" fill="#7c98c9"/>
<rect x="170.40" y="736.30" width="0.95" height="9.35" fill="#8ba4cf"/>
<rect x="170.40" y="745.55" width="0.95" height="9.35" fill="#8ca5cf"/>
<rect x="171.20" y="680.80" width="2.35" height="9.35" fill="#b0c1de"/>
<rect x="171.20" y="690.05" width="2.35" height="9.35" fill="#c1cfe6"/>
<rect x="171.20" y="699.30" width="2.35" height="9.35" fill="#d4dded"/>
<rect x="171.20" y="708.55" width="2.35" height="9.35" fill="#a8bbdb"/>
<rect x="171.20" y="717.80" width="2.35" height="9.35" fill="#c9d4e9"/>
<rect x="171.20" y="727.05" width="2.35" height="9.35" fill="#a8bbdb"/>
<rect x="171.20" y="736.30" width="2.35" height="9.35" fill="#c8d3e8"/>
<rect x="171.20" y="745.55" width="2.35" height="9.35" fill="#bdcbe4"/>
<rect x="173.40" y="680.80" width="1.95" height="9.35" fill="#dce4f1"/>
<rect x="173.40" y="690.05" width="1.95" height="9.35" fill="#f6f8fb"/>
<rect x="173.40" y="699.30" width="1.95" height="9.35" fill="#f0f4f9"/>
<rect x="173.40" y="708.55" width="1.95" height="9.35" fill="#bfcde5"/>
<rect x="173.40" y="717.80" width="1.95" height="9.35" fill="#dae2f0"/>
<rect x="173.40" y="727.05" width="1.95" height="9.35" fill="#b0c1de"/>
<rect x="173.40" y="736.30" width="1.95" height="9.35" fill="#d2dcec"/>
<rect x="173.40" y="745.55" width="1.95" height="9.35" fill="#c4d1e7"/>
<rect x="175.20" y="680.80" width="1.95" height="9.35" fill="#c9d5e9"/>
<rect x="175.20" y="690.05" width="1.95" height="9.35" fill="#d4deed"/>
<rect x="175.20" y="699.30" width="1.95" height="9.35" fill="#e0e7f2"/>
<rect x="175.20" y="708.55" width="1.95" height="9.35" fill="#afc0de"/>
<rect x="175.20" y="717.80" width="1.95" height="9.35" fill="#cad5e9"/>
<rect x="175.20" y="727.05" width="1.95" height="9.35" fill="#7d99c9"/>
<rect x="175.20" y="736.30" width="1.95" height="9.35" fill="#acbedd"/>
<rect x="175.20" y="745.55" width="1.95" height="9.35" fill="#a8bbdb"/>
<rect x="177.00" y="680.80" width="2.95" height="9.35" fill="#a2b6d9"/>
<rect x="177.00" y="690.05" width="2.95" height="9.35" fill="#b5c5e1"/>
<rect x="177.00" y="699.30" width="2.95" height="9.35" fill="#c5d1e7"/>
<rect x="177.00" y="708.55" width="2.95" height="9.35" fill="#9bb0d6"/>
<rect x="177.00" y="717.80" width="2.95" height="9.35" fill="#d1dbec"/>
<rect x="177.00" y="727.05" width="2.95" height="9.35" fill="#7895c7"/>
<rect x="177.00" y="736.30" width="2.95" height="9.35" fill="#aabcdc"/>
<rect x="177.00" y="745.55" width="2.95" height="9.35" fill="#a0b4d8"/>
<rect x="179.80" y="680.80" width="2.95" height="9.35" fill="#b3c3e0"/>
<rect x="179.80" y="690.05" width="2.95" height="9.35" fill="#bac9e3"/>
<rect x="179.80" y="699.30" width="2.95" height="9.35" fill="#ced8eb"/>
<rect x="179.80" y="708.55" width="2.95" height="9.35" fill="#a9bcdc"/>
<rect x="179.80" y="717.80" width="2.95" height="9.35" fill="#c2cfe6"/>
<rect x="179.80" y="727.05" width="2.95" height="9.35" fill="#99afd5"/>
<rect x="179.80" y="736.30" width="2.95" height="9.35" fill="#bac9e3"/>
<rect x="179.80" y="745.55" width="2.95" height="9.35" fill="#8ca5cf"/>
<rect x="182.60" y="680.80" width="2.35" height="9.35" fill="#c9d4e8"/>
<rect x="182.60" y="690.05" width="2.35" height="9.35" fill="#e1e8f3"/>
<rect x="182.60" y="699.30" width="2.35" height="9.35" fill="#e7ecf5"/>
<rect x="182.60" y="708.55" width="2.35" height="9.35" fill="#a8bbdb"/>
<rect x="182.60" y="717.80" width="2.35" height="9.35" fill="#bdcbe4"/>
<rect x="182.60" y="727.05" width="2.35" height="9.35" fill="#809bca"/>
<rect x="182.60" y="736.30" width="2.35" height="9.35" fill="#9db2d6"/>
<rect x="182.60" y="745.55" width="2.35" height="9.35" fill="#9ab0d5"/>
<rect x="184.80" y="680.80" width="2.95" height="9.35" fill="#b2c3df"/>
<rect x="184.80" y="690.05" width="2.95" height="9.35" fill="#bfcce4"/>
<rect x="184.80" y="699.30" width="2.95" height="9.35" fill="#cfdaeb"/>
<rect x="184.80" y="708.55" width="2.95" height="9.35" fill="#aabddc"/>
<rect x="184.80" y="717.80" width="2.95" height="9.35" fill="#d3dced"/>
<rect x="184.80" y="727.05" width="2.95" height="9.35" fill="#8ea7d0"/>
<rect x="184.80" y="736.30" width="2.95" height="9.35" fill="#abbddc"/>
<rect x="184.80" y="745.55" width="2.95" height="9.35" fill="#a4b8da"/>
<rect x="187.60" y="680.80" width="1.35" height="9.35" fill="#c9d5e9"/>
<rect x="187.60" y="690.05" width="1.35" height="9.35" fill="#c7d3e8"/>
<rect x="187.60" y="699.30" width="1.35" height="9.35" fill="#dfe6f2"/>
<rect x="187.60" y="708.55" width="1.35" height="9.35" fill="#acbedd"/>
<rect x="187.60" y="717.80" width="1.35" height="9.35" fill="#b3c4e0"/>
<rect x="187.60" y="727.05" width="1.35" height="9.35" fill="#7a97c8"/>
<rect x="187.60" y="736.30" width="1.35" height="9.35" fill="#a0b4d8"/>
<rect x="187.60" y="745.55" width="1.35" height="9.35" fill="#9bb0d6"/>
<rect x="188.80" y="680.80" width="2.35" height="9.35" fill="#d0daec"/>
<rect x="188.80" y="690.05" width="2.35" height="9.35" fill="#d7e0ee"/>
<rect x="188.80" y="699.30" width="2.35" height="9.35" fill="#f8fafc"/>
<rect x="188.80" y="708.55" width="2.35" height="9.35" fill="#8ca5cf"/>
<rect x="188.80" y="717.80" width="2.35" height="9.35" fill="#a2b6d9"/>
<rect x="188.80" y="727.05" width="2.35" height="9.35" fill="#9bb0d6"/>
<rect x="188.80" y="736.30" width="2.35" height="9.35" fill="#a3b7d9"/>
<rect x="188.80" y="745.55" width="2.35" height="9.35" fill="#a4b8d9"/>
<rect x="191.00" y="680.80" width="0.95" height="9.35" fill="#a7badb"/>
<rect x="191.00" y="690.05" width="0.95" height="9.35" fill="#abbddc"/>
<rect x="191.00" y="699.30" width="0.95" height="9.35" fill="#cbd6e9"/>
<rect x="191.00" y="708.55" width="0.95" height="9.35" fill="#95acd3"/>
<rect x="191.00" y="717.80" width="0.95" height="9.35" fill="#b0c1df"/>
<rect x="191.00" y="727.05" width="0.95" height="9.35" fill="#7794c7"/>
<rect x="191.00" y="736.30" width="0.95" height="9.35" fill="#94abd3"/>
<rect x="191.00" y="745.55" width="0.95" height="9.35" fill="#9eb3d7"/>
<rect x="191.80" y="680.80" width="2.35" height="9.35" fill="#9db2d7"/>
<rect x="191.80" y="690.05" width="2.35" height="9.35" fill="#acbedd"/>
<rect x="191.80" y="699.30" width="2.35" height="9.35" fill="#c3d0e6"/>
<rect x="191.80" y="708.55" width="2.35" height="9.35" fill="#839ecc"/>
<rect x="191.80" y="717.80" width="2.35" height="9.35" fill="#9ab0d5"/>
<rect x="191.80" y="727.05" width="2.35" height="9.35" fill="#7996c8"/>
<rect x="191.80" y="736.30" width="2.35" height="9.35" fill="#9bb0d5"/>
<rect x="191.80" y="745.55" width="2.35" height="9.35" fill="#99afd5"/>
<rect x="194.00" y="680.80" width="0.95" height="9.35" fill="#d6dfee"/>
<rect x="194.00" y="690.05" width="0.95" height="9.35" fill="#cfd9eb"/>
<rect x="194.00" y="699.30" width="0.95" height="9.35" fill="#f0f3f9"/>
<rect x="194.00" y="708.55" width="0.95" height="9.35" fill="#afc0de"/>
<rect x="194.00" y="717.80" width="0.95" height="9.35" fill="#ccd7ea"/>
<rect x="194.00" y="727.05" width="0.95" height="9.35" fill="#8aa3cf"/>
<rect x="194.00" y="736.30" width="0.95" height="9.35" fill="#bdcbe4"/>
<rect x="194.00" y="745.55" width="0.95" height="9.35" fill="#aec0de"/>
<rect x="194.80" y="680.80" width="0.95" height="9.35" fill="#cad5e9"/>
<rect x="194.80" y="690.05" width="0.95" height="9.35" fill="#c4d0e6"/>
<rect x="194.80" y="699.30" width="0.95" height="9.35" fill="#f4f6fa"/>
<rect x="194.80" y="708.55" width="0.95" height="9.35" fill="#a5b8da"/>
<rect x="194.80" y="717.80" width="0.95" height="9.35" fill="#c3d0e6"/>
<rect x="194.80" y="727.05" width="0.95" height="9.35" fill="#8ba4cf"/>
<rect x="194.80" y="736.30" width="0.95" height="9.35" fill="#adbfdd"/>
<rect x="194.80" y="745.55" width="0.95" height="9.35" fill="#9db2d6"/>
<rect x="195.60" y="680.80" width="0.95" height="9.35" fill="#cad6e9"/>
<rect x="195.60" y="690.05" width="0.95" height="9.35" fill="#e0e7f2"/>
<rect x="195.60" y="699.30" width="0.95" height="9.35" fill="#e8edf5"/>
<rect x="195.60" y="708.55" width="0.95" height="9.35" fill="#aebfdd"/>
<rect x="195.60" y="717.80" width="0.95" height="9.35" fill="#d1dbec"/>
<rect x="195.60" y="727.05" width="0.95" height="9.35" fill="#a3b7d9"/>
<rect x="195.60" y="736.30" width="0.95" height="9.35" fill="#c2cfe6"/>
<rect x="195.60" y="745.55" width="0.95" height="9.35" fill="#b5c5e0"/>
<rect x="196.40" y="680.80" width="1.35" height="9.35" fill="#bfcde5"/>
<rect x="196.40" y="690.05" width="1.35" height="9.35" fill="#c1cee5"/>
<rect x="196.40" y="699.30" width="1.35" height="9.35" fill="#d3dced"/>
<rect x="196.40" y="708.55" width="1.35" height="9.35" fill="#b7c6e1"/>
<rect x="196.40" y="717.80" width="1.35" height="9.35" fill="#ccd7ea"/>
<rect x="196.40" y="727.05" width="1.35" height="9.35" fill="#88a2ce"/>
<rect x="196.40" y="736.30" width="1.35" height="9.35" fill="#9cb1d6"/>
<rect x="196.40" y="745.55" width="1.35" height="9.35" fill="#abbddc"/>
<rect x="197.60" y="680.80" width="1.35" height="9.35" fill="#d4deed"/>
<rect x="197.60" y="690.05" width="1.35" height="9.35" fill="#d2dcec"/>
<rect x="197.60" y="699.30" width="1.35" height="9.35" fill="#ffffff"/>
<rect x="197.60" y="708.55" width="1.35" height="9.35" fill="#b8c8e2"/>
<rect x="197.60" y="717.80" width="1.35" height="9.35" fill="#d3dded"/>
<rect x="197.60" y="727.05" width="1.35" height="9.35" fill="#8ca5d0"/>
<rect x="197.60" y="736.30" width="1.35" height="9.35" fill="#b0c1de"/>
<rect x="197.60" y="745.55" width="1.35" height="9.35" fill="#a6b9da"/>
<rect x="198.80" y="680.80" width="2.35" height="9.35" fill="#a8badb"/>
<rect x="198.80" y="690.05" width="2.35" height="9.35" fill="#cbd6ea"/>
<rect x="198.80" y="699.30" width="2.35" height="9.35" fill="#c8d4e8"/>
<rect x="198.80" y="708.55" width="2.35" height="9.35" fill="#93aad2"/>
<rect x="198.80" y="717.80" width="2.35" height="9.35" fill="#c0cde5"/>
<rect x="198.80" y="727.05" width="2.35" height="9.35" fill="#829dcc"/>
<rect x="198.80" y="736.30" width="2.35" height="9.35" fill="#9fb4d7"/>
<rect x="198.80" y="745.55" width="2.35" height="9.35" fill="#a7badb"/>
<rect x="201.00" y="680.80" width="0.95" height="9.35" fill="#aabddc"/>
<rect x="201.00" y="690.05" width="0.95" height="9.35" fill="#adbfdd"/>
<rect x="201.00" y="699.30" width="0.95" height="9.35" fill="#d9e1ef"/>
<rect x="201.00" y="708.55" width="0.95" height="9.35" fill="#9cb1d6"/>
<rect x="201.00" y="717.80" width="0.95" height="9.35" fill="#c6d3e8"/>
<rect x="201.00" y="727.05" width="0.95" height="9.35" fill="#8ca5d0"/>
<rect x="201.00" y="736.30" width="0.95" height="9.35" fill="#a2b6d9"/>
<rect x="201.00" y="745.55" width="0.95" height="9.35" fill="#8fa7d1"/>
<rect x="201.80" y="680.80" width="1.95" height="9.35" fill="#d2dcec"/>
<rect x="201.80" y="690.05" width="1.95" height="9.35" fill="#d0daeb"/>
<rect x="201.80" y="699.30" width="1.95" height="9.35" fill="#f3f5fa"/>
<rect x="201.80" y="708.55" width="1.95" height="9.35" fill="#a0b5d8"/>
<rect x="201.80" y="717.80" width="1.95" height="9.35" fill="#c1cfe5"/>
<rect x="201.80" y="727.05" width="1.95" height="9.35" fill="#92a9d2"/>
<rect x="201.80" y="736.30" width="1.95" height="9.35" fill="#aebfdd"/>
<rect x="201.80" y="745.55" width="1.95" height="9.35" fill="#aebfdd"/>
<rect x="203.60" y="680.80" width="1.65" height="9.35" fill="#c2cfe6"/>
<rect x="203.60" y="690.05" width="1.65" height="9.35" fill="#d9e2ef"/>
<rect x="203.60" y="699.30" width="1.65" height="9.35" fill="#f8f9fc"/>
<rect x="203.60" y="708.55" width="1.65" height="9.35" fill="#b3c3e0"/>
<rect x="203.60" y="717.80" width="1.65" height="9.35" fill="#cfd9eb"/>
<rect x="203.60" y="727.05" width="1.65" height="9.35" fill="#99afd5"/>
<rect x="203.60" y="736.30" width="1.65" height="9.35" fill="#9cb2d6"/>
<rect x="203.60" y="745.55" width="1.65" height="9.35" fill="#a5b9da"/>
<rect x="205.10" y="680.80" width="1.95" height="9.35" fill="#c1cee5"/>
<rect x="205.10" y="690.05" width="1.95" height="9.35" fill="#dfe6f2"/>
<rect x="205.10" y="699.30" width="1.95" height="9.35" fill="#e5ebf4"/>
<rect x="205.10" y="708.55" width="1.95" height="9.35" fill="#a2b6d8"/>
<rect x="205.10" y="717.80" width="1.95" height="9.35" fill="#b8c7e2"/>
<rect x="205.10" y="727.05" width="1.95" height="9.35" fill="#8ba4cf"/>
<rect x="205.10" y="736.30" width="1.95" height="9.35" fill="#a4b8d9"/>
<rect x="205.10" y="745.55" width="1.95" height="9.35" fill="#9bb0d6"/>
<rect x="206.90" y="680.80" width="2.35" height="9.35" fill="#d9e1ef"/>
<rect x="206.90" y="690.05" width="2.35" height="9.35" fill="#cdd8ea"/>
<rect x="206.90" y="699.30" width="2.35" height="9.35" fill="#e8edf6"/>
<rect x="206.90" y="708.55" width="2.35" height="9.35" fill="#afc0de"/>
<rect x="206.90" y="717.80" width="2.35" height="9.35" fill="#cbd6ea"/>
<rect x="206.90" y="727.05" width="2.35" height="9.35" fill="#a5b8da"/>
<rect x="206.90" y="736.30" width="2.35" height="9.35" fill="#c3d0e6"/>
<rect x="206.90" y="745.55" width="2.35" height="9.35" fill="#becce4"/>
<rect x="209.10" y="680.80" width="1.35" height="9.35" fill="#a9bcdc"/>
<rect x="209.10" y="690.05" width="1.35" height="9.35" fill="#c4d1e7"/>
<rect x="209.10" y="699.30" width="1.35" height="9.35" fill="#cdd7ea"/>
<rect x="209.10" y="708.55" width="1.35" height="9.35" fill="#9eb3d7"/>
<rect x="209.10" y="717.80" width="1.35" height="9.35" fill="#cfd9eb"/>
<rect x="209.10" y="727.05" width="1.35" height="9.35" fill="#98aed5"/>
<rect x="209.10" y="736.30" width="1.35" height="9.35" fill="#adbedd"/>
<rect x="209.10" y="745.55" width="1.35" height="9.35" fill="#a0b5d8"/>
<rect x="210.30" y="680.80" width="2.35" height="9.35" fill="#c9d4e9"/>
<rect x="210.30" y="690.05" width="2.35" height="9.35" fill="#d4dded"/>
<rect x="210.30" y="699.30" width="2.35" height="9.35" fill="#f9fafc"/>
<rect x="210.30" y="708.55" width="2.35" height="9.35" fill="#9eb3d7"/>
<rect x="210.30" y="717.80" width="2.35" height="9.35" fill="#d7e0ef"/>
<rect x="210.30" y="727.05" width="2.35" height="9.35" fill="#b6c6e1"/>
<rect x="210.30" y="736.30" width="2.35" height="9.35" fill="#d1dbec"/>
<rect x="210.30" y="745.55" width="2.35" height="9.35" fill="#c4d0e6"/>
<rect x="212.50" y="680.80" width="1.35" height="9.35" fill="#c2cfe6"/>
<rect x="212.50" y="690.05" width="1.35" height="9.35" fill="#b1c2df"/>
<rect x="212.50" y="699.30" width="1.35" height="9.35" fill="#e6ebf5"/>
<rect x="212.50" y="708.55" width="1.35" height="9.35" fill="#a8bbdb"/>
<rect x="212.50" y="717.80" width="1.35" height="9.35" fill="#dde4f1"/>
<rect x="212.50" y="727.05" width="1.35" height="9.35" fill="#9bb1d6"/>
<rect x="212.50" y="736.30" width="1.35" height="9.35" fill="#a6b9da"/>
<rect x="212.50" y="745.55" width="1.35" height="9.35" fill="#adbfdd"/>
<rect x="213.70" y="680.80" width="2.95" height="9.35" fill="#d9e1ef"/>
<rect x="213.70" y="690.05" width="2.95" height="9.35" fill="#f3f6fa"/>
<rect x="213.70" y="699.30" width="2.95" height="9.35" fill="#ffffff"/>
<rect x="213.70" y="708.55" width="2.95" height="9.35" fill="#cfd9eb"/>
<rect x="213.70" y="717.80" width="2.95" height="9.35" fill="#e9eef6"/>
<rect x="213.70" y="727.05" width="2.95" height="9.35" fill="#b2c3df"/>
<rect x="213.70" y="736.30" width="2.95" height="9.35" fill="#c9d4e9"/>
<rect x="213.70" y="745.55" width="2.95" height="9.35" fill="#d2dbec"/>
<rect x="216.50" y="680.80" width="1.65" height="9.35" fill="#cfd9eb"/>
<rect x="216.50" y="690.05" width="1.65" height="9.35" fill="#d5deee"/>
<rect x="216.50" y="699.30" width="1.65" height="9.35" fill="#fdfdfe"/>
<rect x="216.50" y="708.55" width="1.65" height="9.35" fill="#adbfdd"/>
<rect x="216.50" y="717.80" width="1.65" height="9.35" fill="#dee5f1"/>
<rect x="216.50" y="727.05" width="1.65" height="9.35" fill="#89a2ce"/>
<rect x="216.50" y="736.30" width="1.65" height="9.35" fill="#9db2d7"/>
<rect x="216.50" y="745.55" width="1.65" height="9.35" fill="#aabcdc"/>
<rect x="218.00" y="680.80" width="1.95" height="9.35" fill="#bccae3"/>
<rect x="218.00" y="690.05" width="1.95" height="9.35" fill="#d2dcec"/>
<rect x="218.00" y="699.30" width="1.95" height="9.35" fill="#f0f3f9"/>
<rect x="218.00" y="708.55" width="1.95" height="9.35" fill="#adbfdd"/>
<rect x="218.00" y="717.80" width="1.95" height="9.35" fill="#cdd8ea"/>
<rect x="218.00" y="727.05" width="1.95" height="9.35" fill="#96add4"/>
<rect x="218.00" y="736.30" width="1.95" height="9.35" fill="#a6b9da"/>
<rect x="218.00" y="745.55" width="1.95" height="9.35" fill="#a5b9da"/>
<rect x="219.80" y="680.80" width="0.95" height="9.35" fill="#c3d0e6"/>
<rect x="219.80" y="690.05" width="0.95" height="9.35" fill="#d8e1ef"/>
<rect x="219.80" y="699.30" width="0.95" height="9.35" fill="#f2f5fa"/>
<rect x="219.80" y="708.55" width="0.95" height="9.35" fill="#bccae3"/>
<rect x="219.80" y="717.80" width="0.95" height="9.35" fill="#c6d3e8"/>
<rect x="219.80" y="727.05" width="0.95" height="9.35" fill="#a5b9da"/>
<rect x="219.80" y="736.30" width="0.95" height="9.35" fill="#bac9e2"/>
<rect x="219.80" y="745.55" width="0.95" height="9.35" fill="#b4c4e0"/>
<rect x="220.60" y="680.80" width="2.95" height="9.35" fill="#cfd9eb"/>
<rect x="220.60" y="690.05" width="2.95" height="9.35" fill="#dce4f1"/>
<rect x="220.60" y="699.30" width="2.95" height="9.35" fill="#fbfcfd"/>
<rect x="220.60" y="708.55" width="2.95" height="9.35" fill="#a4b8da"/>
<rect x="220.60" y="717.80" width="2.95" height="9.35" fill="#bdcbe4"/>
<rect x="220.60" y="727.05" width="2.95" height="9.35" fill="#aabcdc"/>
<rect x="220.60" y="736.30" width="2.95" height="9.35" fill="#a0b5d8"/>
<rect x="220.60" y="745.55" width="2.95" height="9.35" fill="#a4b7d9"/>
<rect x="223.40" y="680.80" width="0.95" height="9.35" fill="#c0cde5"/>
<rect x="223.40" y="690.05" width="0.95" height="9.35" fill="#d0daec"/>
<rect x="223.40" y="699.30" width="0.95" height="9.35" fill="#edf1f8"/>
<rect x="223.40" y="708.55" width="0.95" height="9.35" fill="#bfcde5"/>
<rect x="223.40" y="717.80" width="0.95" height="9.35" fill="#c9d5e9"/>
<rect x="223.40" y="727.05" width="0.95" height="9.35" fill="#a6b9da"/>
<rect x="223.40" y="736.30" width="0.95" height="9.35" fill="#acbedd"/>
<rect x="223.40" y="745.55" width="0.95" height="9.35" fill="#acbedd"/>
<rect x="224.20" y="680.80" width="1.95" height="9.35" fill="#e7ecf5"/>
<rect x="224.20" y="690.05" width="1.95" height="9.35" fill="#e9eef6"/>
<rect x="224.20" y="699.30" width="1.95" height="9.35" fill="#ffffff"/>
<rect x="224.20" y="708.55" width="1.95" height="9.35" fill="#c3d0e6"/>
<rect x="224.20" y="717.80" width="1.95" height="9.35" fill="#d9e1ef"/>
<rect x="224.20" y="727.05" width="1.95" height="9.35" fill="#a3b7d9"/>
<rect x="224.20" y="736.30" width="1.95" height="9.35" fill="#a0b4d8"/>
<rect x="224.20" y="745.55" width="1.95" height="9.35" fill="#9fb4d7"/>
<rect x="226.00" y="680.80" width="2.95" height="9.35" fill="#c6d2e7"/>
<rect x="226.00" y="690.05" width="2.95" height="9.35" fill="#d9e1ef"/>
<rect x="226.00" y="699.30" width="2.95" height="9.35" fill="#eff2f8"/>
<rect x="226.00" y="708.55" width="2.95" height="9.35" fill="#8da6d0"/>
<rect x="226.00" y="717.80" width="2.95" height="9.35" fill="#bccbe3"/>
<rect x="226.00" y="727.05" width="2.95" height="9.35" fill="#98aed4"/>
<rect x="226.00" y="736.30" width="2.95" height="9.35" fill="#abbddc"/>
<rect x="226.00" y="745.55" width="2.95" height="9.35" fill="#a3b7d9"/>
<rect x="228.80" y="680.80" width="1.65" height="9.35" fill="#c7d3e8"/>
<rect x="228.80" y="690.05" width="1.65" height="9.35" fill="#e0e7f2"/>
<rect x="228.80" y="699.30" width="1.65" height="9.35" fill="#f1f4f9"/>
<rect x="228.80" y="708.55" width="1.65" height="9.35" fill="#d9e1ef"/>
<rect x="228.80" y="717.80" width="1.65" height="9.35" fill="#ebeff7"/>
<rect x="228.80" y="727.05" width="1.65" height="9.35" fill="#aabcdc"/>
<rect x="228.80" y="736.30" width="1.65" height="9.35" fill="#c2cfe6"/>
<rect x="228.80" y="745.55" width="1.65" height="9.35" fill="#a8bbdb"/>
<rect x="230.30" y="680.80" width="1.95" height="9.35" fill="#e9eef6"/>
<rect x="230.30" y="690.05" width="1.95" height="9.35" fill="#e9eef6"/>
<rect x="230.30" y="699.30" width="1.95" height="9.35" fill="#ffffff"/>
<rect x="230.30" y="708.55" width="1.95" height="9.35" fill="#97aed4"/>
<rect x="230.30" y="717.80" width="1.95" height="9.35" fill="#b0c1de"/>
<rect x="230.30" y="727.05" width="1.95" height="9.35" fill="#9eb3d7"/>
<rect x="230.30" y="736.30" width="1.95" height="9.35" fill="#a6bada"/>
<rect x="230.30" y="745.55" width="1.95" height="9.35" fill="#bfcde4"/>
<rect x="232.10" y="680.80" width="2.35" height="9.35" fill="#a8bbdb"/>
<rect x="232.10" y="690.05" width="2.35" height="9.35" fill="#bfcde4"/>
<rect x="232.10" y="699.30" width="2.35" height="9.35" fill="#dae2f0"/>
<rect x="232.10" y="708.55" width="2.35" height="9.35" fill="#829dcb"/>
<rect x="232.10" y="717.80" width="2.35" height="9.35" fill="#a1b5d8"/>
<rect x="232.10" y="727.05" width="2.35" height="9.35" fill="#a5b9da"/>
<rect x="232.10" y="736.30" width="2.35" height="9.35" fill="#abbddc"/>
<rect x="232.10" y="745.55" width="2.35" height="9.35" fill="#b7c6e1"/>
<rect x="234.30" y="680.80" width="0.95" height="9.35" fill="#d3dded"/>
<rect x="234.30" y="690.05" width="0.95" height="9.35" fill="#dbe3f0"/>
<rect x="234.30" y="699.30" width="0.95" height="9.35" fill="#eaeef6"/>
<rect x="234.30" y="708.55" width="0.95" height="9.35" fill="#92aad2"/>
<rect x="234.30" y="717.80" width="0.95" height="9.35" fill="#b0c1de"/>
<rect x="234.30" y="727.05" width="0.95" height="9.35" fill="#829dcb"/>
<rect x="234.30" y="736.30" width="0.95" height="9.35" fill="#8fa7d1"/>
<rect x="234.30" y="745.55" width="0.95" height="9.35" fill="#9db2d6"/>
<rect x="235.10" y="680.80" width="2.95" height="9.35" fill="#b5c5e0"/>
<rect x="235.10" y="690.05" width="2.95" height="9.35" fill="#d1dbec"/>
<rect x="235.10" y="699.30" width="2.95" height="9.35" fill="#dce3f0"/>
<rect x="235.10" y="708.55" width="2.95" height="9.35" fill="#aec0de"/>
<rect x="235.10" y="717.80" width="2.95" height="9.35" fill="#dde4f1"/>
<rect x="235.10" y="727.05" width="2.95" height="9.35" fill="#aabcdc"/>
<rect x="235.10" y="736.30" width="2.95" height="9.35" fill="#adbfdd"/>
<rect x="235.10" y="745.55" width="2.95" height="9.35" fill="#b9c8e2"/>
<rect x="237.90" y="680.80" width="1.65" height="9.35" fill="#afc1de"/>
<rect x="237.90" y="690.05" width="1.65" height="9.35" fill="#becce4"/>
<rect x="237.90" y="699.30" width="1.65" height="9.35" fill="#f8fafc"/>
<rect x="237.90" y="708.55" width="1.65" height="9.35" fill="#aabcdc"/>
<rect x="237.90" y="717.80" width="1.65" height="9.35" fill="#bfcde4"/>
<rect x="237.90" y="727.05" width="1.65" height="9.35" fill="#aebfdd"/>
<rect x="237.90" y="736.30" width="1.65" height="9.35" fill="#c1cfe5"/>
<rect x="237.90" y="745.55" width="1.65" height="9.35" fill="#b7c7e1"/>
<rect x="239.40" y="680.80" width="1.65" height="9.35" fill="#b9c8e2"/>
<rect x="239.40" y="690.05" width="1.65" height="9.35" fill="#bfcde5"/>
<rect x="239.40" y="699.30" width="1.65" height="9.35" fill="#f2f5fa"/>
<rect x="239.40" y="708.55" width="1.65" height="9.35" fill="#b0c1de"/>
<rect x="239.40" y="717.80" width="1.65" height="9.35" fill="#bccbe3"/>
<rect x="239.40" y="727.05" width="1.65" height="9.35" fill="#9bb0d6"/>
<rect x="239.40" y="736.30" width="1.65" height="9.35" fill="#b3c4e0"/>
<rect x="239.40" y="745.55" width="1.65" height="9.35" fill="#a2b6d9"/>
<rect x="240.90" y="680.80" width="1.35" height="9.35" fill="#dce3f0"/>
<rect x="240.90" y="690.05" width="1.35" height="9.35" fill="#f7f9fc"/>
<rect x="240.90" y="699.30" width="1.35" height="9.35" fill="#fefeff"/>
<rect x="240.90" y="708.55" width="1.35" height="9.35" fill="#c3d0e6"/>
<rect x="240.90" y="717.80" width="1.35" height="9.35" fill="#ced9eb"/>
<rect x="240.90" y="727.05" width="1.35" height="9.35" fill="#a5b8da"/>
<rect x="240.90" y="736.30" width="1.35" height="9.35" fill="#bdcbe4"/>
<rect x="240.90" y="745.55" width="1.35" height="9.35" fill="#c3d0e6"/>
<rect x="242.10" y="680.80" width="2.35" height="9.35" fill="#e7ecf5"/>
<rect x="242.10" y="690.05" width="2.35" height="9.35" fill="#f0f4f9"/>
<rect x="242.10" y="699.30" width="2.35" height="9.35" fill="#ffffff"/>
<rect x="242.10" y="708.55" width="2.35" height="9.35" fill="#b1c1df"/>
<rect x="242.10" y="717.80" width="2.35" height="9.35" fill="#d1dbec"/>
<rect x="242.10" y="727.05" width="2.35" height="9.35" fill="#aebfdd"/>
<rect x="242.10" y="736.30" width="2.35" height="9.35" fill="#cdd8ea"/>
<rect x="242.10" y="745.55" width="2.35" height="9.35" fill="#c3d0e6"/>
<rect x="244.30" y="680.80" width="1.65" height="9.35" fill="#cbd7ea"/>
<rect x="244.30" y="690.05" width="1.65" height="9.35" fill="#d1dbec"/>
<rect x="244.30" y="699.30" width="1.65" height="9.35" fill="#f9fafd"/>
<rect x="244.30" y="708.55" width="1.65" height="9.35" fill="#abbddc"/>
<rect x="244.30" y="717.80" width="1.65" height="9.35" fill="#c0cee5"/>
<rect x="244.30" y="727.05" width="1.65" height="9.35" fill="#a2b6d9"/>
<rect x="244.30" y="736.30" width="1.65" height="9.35" fill="#b1c2df"/>
<rect x="244.30" y="745.55" width="1.65" height="9.35" fill="#bac9e2"/>
<rect x="245.80" y="680.80" width="0.95" height="9.35" fill="#bbcae3"/>
<rect x="245.80" y="690.05" width="0.95" height="9.35" fill="#aabcdc"/>
<rect x="245.80" y="699.30" width="0.95" height="9.35" fill="#d4dded"/>
<rect x="245.80" y="708.55" width="0.95" height="9.35" fill="#b3c3df"/>
<rect x="245.80" y="717.80" width="0.95" height="9.35" fill="#c9d4e9"/>
<rect x="245.80" y="727.05" width="0.95" height="9.35" fill="#829dcb"/>
<rect x="245.80" y="736.30" width="0.95" height="9.35" fill="#96add4"/>
<rect x="245.80" y="745.55" width="0.95" height="9.35" fill="#a1b6d8"/>
<rect x="246.60" y="680.80" width="0.95" height="9.35" fill="#d5deee"/>
<rect x="246.60" y="690.05" width="0.95" height="9.35" fill="#c6d2e7"/>
<rect x="246.60" y="699.30" width="0.95" height="9.35" fill="#f5f7fb"/>
<rect x="246.60" y="708.55" width="0.95" height="9.35" fill="#94abd3"/>
<rect x="246.60" y="717.80" width="0.95" height="9.35" fill="#cfdaeb"/>
<rect x="246.60" y="727.05" width="0.95" height="9.35" fill="#aec0de"/>
<rect x="246.60" y="736.30" width="0.95" height="9.35" fill="#b6c6e1"/>
<rect x="246.60" y="745.55" width="0.95" height="9.35" fill="#b6c6e1"/>
<rect x="247.40" y="680.80" width="2.35" height="9.35" fill="#d7e0ef"/>
<rect x="247.40" y="690.05" width="2.35" height="9.35" fill="#d8e0ef"/>
<rect x="247.40" y="699.30" width="2.35" height="9.35" fill="#fefeff"/>
<rect x="247.40" y="708.55" width="2.35" height="9.35" fill="#c5d2e7"/>
<rect x="247.40" y="717.80" width="2.35" height="9.35" fill="#dfe6f2"/>
<rect x="247.40" y="727.05" width="2.35" height="9.35" fill="#a9bcdc"/>
<rect x="247.40" y="736.30" width="2.35" height="9.35" fill="#b2c3df"/>
<rect x="247.40" y="745.55" width="2.35" height="9.35" fill="#abbddc"/>
<rect x="249.60" y="680.80" width="0.95" height="9.35" fill="#d0daec"/>
<rect x="249.60" y="690.05" width="0.95" height="9.35" fill="#e4eaf4"/>
<rect x="249.60" y="699.30" width="0.95" height="9.35" fill="#f9fbfd"/>
<rect x="249.60" y="708.55" width="0.95" height="9.35" fill="#bfcde5"/>
<rect x="249.60" y="717.80" width="0.95" height="9.35" fill="#c6d2e7"/>
<rect x="249.60" y="727.05" width="0.95" height="9.35" fill="#97aed4"/>
<rect x="249.60" y="736.30" width="0.95" height="9.35" fill="#a4b8da"/>
<rect x="249.60" y="745.55" width="0.95" height="9.35" fill="#afc0de"/>
<rect x="250.40" y="680.80" width="1.95" height="9.35" fill="#d4deed"/>
<rect x="250.40" y="690.05" width="1.95" height="9.35" fill="#e4eaf4"/>
<rect x="250.40" y="699.30" width="1.95" height="9.35" fill="#f8f9fc"/>
<rect x="250.40" y="708.55" width="1.95" height="9.35" fill="#cbd6ea"/>
<rect x="250.40" y="717.80" width="1.95" height="9.35" fill="#dde5f1"/>
<rect x="250.40" y="727.05" width="1.95" height="9.35" fill="#b4c4e0"/>
<rect x="250.40" y="736.30" width="1.95" height="9.35" fill="#c3d0e6"/>
<rect x="250.40" y="745.55" width="1.95" height="9.35" fill="#c2cfe6"/>
<rect x="252.20" y="680.80" width="0.95" height="9.35" fill="#b2c2df"/>
<rect x="252.20" y="690.05" width="0.95" height="9.35" fill="#c2cfe6"/>
<rect x="252.20" y="699.30" width="0.95" height="9.35" fill="#d0daec"/>
<rect x="252.20" y="708.55" width="0.95" height="9.35" fill="#8fa7d1"/>
<rect x="252.20" y="717.80" width="0.95" height="9.35" fill="#aabcdc"/>
<rect x="252.20" y="727.05" width="0.95" height="9.35" fill="#87a1ce"/>
<rect x="252.20" y="736.30" width="0.95" height="9.35" fill="#9db2d7"/>
<rect x="252.20" y="745.55" width="0.95" height="9.35" fill="#8ca5cf"/>
<rect x="253.00" y="680.80" width="1.65" height="9.35" fill="#dbe2f0"/>
<rect x="253.00" y="690.05" width="1.65" height="9.35" fill="#d4dded"/>
<rect x="253.00" y="699.30" width="1.65" height="9.35" fill="#f2f5fa"/>
<rect x="253.00" y="708.55" width="1.65" height="9.35" fill="#e4eaf4"/>
<rect x="253.00" y="717.80" width="1.65" height="9.35" fill="#e2e8f3"/>
<rect x="253.00" y="727.05" width="1.65" height="9.35" fill="#b9c8e2"/>
<rect x="253.00" y="736.30" width="1.65" height="9.35" fill="#c4d1e7"/>
<rect x="253.00" y="745.55" width="1.65" height="9.35" fill="#dbe3f0"/>
<rect x="254.50" y="680.80" width="1.95" height="9.35" fill="#ced9eb"/>
<rect x="254.50" y="690.05" width="1.95" height="9.35" fill="#d0daec"/>
<rect x="254.50" y="699.30" width="1.95" height="9.35" fill="#edf1f8"/>
<rect x="254.50" y="708.55" width="1.95" height="9.35" fill="#bccbe3"/>
<rect x="254.50" y="717.80" width="1.95" height="9.35" fill="#cfd9eb"/>
<rect x="254.50" y="727.05" width="1.95" height="9.35" fill="#aabcdc"/>
<rect x="254.50" y="736.30" width="1.95" height="9.35" fill="#becce4"/>
<rect x="254.50" y="745.55" width="1.95" height="9.35" fill="#bbcae3"/>
<rect x="256.30" y="680.80" width="0.95" height="9.35" fill="#bccae3"/>
<rect x="256.30" y="690.05" width="0.95" height="9.35" fill="#cdd8eb"/>
<rect x="256.30" y="699.30" width="0.95" height="9.35" fill="#e6ebf5"/>
<rect x="256.30" y="708.55" width="0.95" height="9.35" fill="#a2b6d9"/>
<rect x="256.30" y="717.80" width="0.95" height="9.35" fill="#b9c8e2"/>
<rect x="256.30" y="727.05" width="0.95" height="9.35" fill="#9fb3d7"/>
<rect x="256.30" y="736.30" width="0.95" height="9.35" fill="#9fb4d7"/>
<rect x="256.30" y="745.55" width="0.95" height="9.35" fill="#bfcde5"/>
<rect x="257.10" y="680.80" width="0.95" height="9.35" fill="#f5f7fb"/>
<rect x="257.10" y="690.05" width="0.95" height="9.35" fill="#e1e8f3"/>
<rect x="257.10" y="699.30" width="0.95" height="9.35" fill="#ffffff"/>
<rect x="257.10" y="708.55" width="0.95" height="9.35" fill="#dae2f0"/>
<rect x="257.10" y="717.80" width="0.95" height="9.35" fill="#dde4f1"/>
<rect x="257.10" y="727.05" width="0.95" height="9.35" fill="#98aed5"/>
<rect x="257.10" y="736.30" width="0.95" height="9.35" fill="#9fb4d7"/>
<rect x="257.10" y="745.55" width="0.95" height="9.35" fill="#adbfdd"/>
<rect x="257.90" y="680.80" width="2.95" height="9.35" fill="#e3e9f4"/>
<rect x="257.90" y="690.05" width="2.95" height="9.35" fill="#d8e0ef"/>
<rect x="257.90" y="699.30" width="2.95" height="9.35" fill="#ffffff"/>
<rect x="257.90" y="708.55" width="2.95" height="9.35" fill="#a9bcdc"/>
<rect x="257.90" y="717.80" width="2.95" height="9.35" fill="#cad6e9"/>
<rect x="257.90" y="727.05" width="2.95" height="9.35" fill="#a2b6d9"/>
<rect x="257.90" y="736.30" width="2.95" height="9.35" fill="#aec0de"/>
<rect x="257.90" y="745.55" width="2.95" height="9.35" fill="#ccd7ea"/>
<rect x="260.70" y="680.80" width="0.95" height="9.35" fill="#b5c5e1"/>
<rect x="260.70" y="690.05" width="0.95" height="9.35" fill="#c5d1e7"/>
<rect x="260.70" y="699.30" width="0.95" height="9.35" fill="#d3dced"/>
<rect x="260.70" y="708.55" width="0.95" height="9.35" fill="#b1c2df"/>
<rect x="260.70" y="717.80" width="0.95" height="9.35" fill="#e0e7f2"/>
<rect x="260.70" y="727.05" width="0.95" height="9.35" fill="#98aed5"/>
<rect x="260.70" y="736.30" width="0.95" height="9.35" fill="#8fa7d1"/>
<rect x="260.70" y="745.55" width="0.95" height="9.35" fill="#aabcdc"/>
<rect x="261.50" y="680.80" width="1.35" height="9.35" fill="#d5deee"/>
<rect x="261.50" y="690.05" width="1.35" height="9.35" fill="#d0daec"/>
<rect x="261.50" y="699.30" width="1.35" height="9.35" fill="#e5ebf4"/>
<rect x="261.50" y="708.55" width="1.35" height="9.35" fill="#9fb4d7"/>
<rect x="261.50" y="717.80" width="1.35" height="9.35" fill="#c4d1e7"/>
<rect x="261.50" y="727.05" width="1.35" height="9.35" fill="#a6b9da"/>
<rect x="261.50" y="736.30" width="1.35" height="9.35" fill="#a9bcdc"/>
<rect x="261.50" y="745.55" width="1.35" height="9.35" fill="#b1c2df"/>
<rect x="262.70" y="680.80" width="1.35" height="9.35" fill="#becce4"/>
<rect x="262.70" y="690.05" width="1.35" height="9.35" fill="#afc0de"/>
<rect x="262.70" y="699.30" width="1.35" height="9.35" fill="#d7dfee"/>
<rect x="262.70" y="708.55" width="1.35" height="9.35" fill="#bfcde5"/>
<rect x="262.70" y="717.80" width="1.35" height="9.35" fill="#dee5f1"/>
<rect x="262.70" y="727.05" width="1.35" height="9.35" fill="#a4b8d9"/>
<rect x="262.70" y="736.30" width="1.35" height="9.35" fill="#b8c8e2"/>
<rect x="262.70" y="745.55" width="1.35" height="9.35" fill="#b7c6e1"/>
<rect x="263.90" y="680.80" width="0.95" height="9.35" fill="#e5ebf4"/>
<rect x="263.90" y="690.05" width="0.95" height="9.35" fill="#dde5f1"/>
<rect x="263.90" y="699.30" width="0.95" height="9.35" fill="#fafbfd"/>
<rect x="263.90" y="708.55" width="0.95" height="9.35" fill="#bbcae3"/>
<rect x="263.90" y="717.80" width="0.95" height="9.35" fill="#d9e1ef"/>
<rect x="263.90" y="727.05" width="0.95" height="9.35" fill="#b7c6e1"/>
<rect x="263.90" y="736.30" width="0.95" height="9.35" fill="#abbddc"/>
<rect x="263.90" y="745.55" width="0.95" height="9.35" fill="#a1b5d8"/>
<rect x="264.70" y="680.80" width="1.95" height="9.35" fill="#dce3f0"/>
<rect x="264.70" y="690.05" width="1.95" height="9.35" fill="#e1e7f2"/>
<rect x="264.70" y="699.30" width="1.95" height="9.35" fill="#ffffff"/>
<rect x="264.70" y="708.55" width="1.95" height="9.35" fill="#d7dfee"/>
<rect x="264.70" y="717.80" width="1.95" height="9.35" fill="#ebeff7"/>
<rect x="264.70" y="727.05" width="1.95" height="9.35" fill="#9eb3d7"/>
<rect x="264.70" y="736.30" width="1.95" height="9.35" fill="#a4b8d9"/>
<rect x="264.70" y="745.55" width="1.95" height="9.35" fill="#92a9d2"/>
<rect x="266.50" y="680.80" width="1.95" height="9.35" fill="#c8d4e8"/>
<rect x="266.50" y="690.05" width="1.95" height="9.35" fill="#d4dded"/>
<rect x="266.50" y="699.30" width="1.95" height="9.35" fill="#ffffff"/>
<rect x="266.50" y="708.55" width="1.95" height="9.35" fill="#b5c5e0"/>
<rect x="266.50" y="717.80" width="1.95" height="9.35" fill="#dee5f1"/>
<rect x="266.50" y="727.05" width="1.95" height="9.35" fill="#7b98c9"/>
<rect x="266.50" y="736.30" width="1.95" height="9.35" fill="#99afd5"/>
<rect x="266.50" y="745.55" width="1.95" height="9.35" fill="#a6b9da"/>
<rect x="268.30" y="680.80" width="2.95" height="9.35" fill="#bfcde5"/>
<rect x="268.30" y="690.05" width="2.95" height="9.35" fill="#b1c2df"/>
<rect x="268.30" y="699.30" width="2.95" height="9.35" fill="#e6ebf5"/>
<rect x="268.30" y="708.55" width="2.95" height="9.35" fill="#afc0de"/>
<rect x="268.30" y="717.80" width="2.95" height="9.35" fill="#c4d1e7"/>
<rect x="268.30" y="727.05" width="2.95" height="9.35" fill="#8ba4cf"/>
<rect x="268.30" y="736.30" width="2.95" height="9.35" fill="#acbedd"/>
<rect x="268.30" y="745.55" width="2.95" height="9.35" fill="#aabcdc"/>
<rect x="271.10" y="680.80" width="1.95" height="9.35" fill="#f4f6fa"/>
<rect x="271.10" y="690.05" width="1.95" height="9.35" fill="#f1f4f9"/>
<rect x="271.10" y="699.30" width="1.95" height="9.35" fill="#ffffff"/>
<rect x="271.10" y="708.55" width="1.95" height="9.35" fill="#dfe6f2"/>
<rect x="271.10" y="717.80" width="1.95" height="9.35" fill="#d7dfee"/>
<rect x="271.10" y="727.05" width="1.95" height="9.35" fill="#c3d0e6"/>
<rect x="271.10" y="736.30" width="1.95" height="9.35" fill="#c6d2e8"/>
<rect x="271.10" y="745.55" width="1.95" height="9.35" fill="#d0daec"/>
<rect x="272.90" y="680.80" width="1.95" height="9.35" fill="#d5deee"/>
<rect x="272.90" y="690.05" width="1.95" height="9.35" fill="#d3dded"/>
<rect x="272.90" y="699.30" width="1.95" height="9.35" fill="#e9eef6"/>
<rect x="272.90" y="708.55" width="1.95" height="9.35" fill="#c8d4e8"/>
<rect x="272.90" y="717.80" width="1.95" height="9.35" fill="#d3dced"/>
<rect x="272.90" y="727.05" width="1.95" height="9.35" fill="#9cb1d6"/>
<rect x="272.90" y="736.30" width="1.95" height="9.35" fill="#a5b9da"/>
<rect x="272.90" y="745.55" width="1.95" height="9.35" fill="#b3c3e0"/>
<rect x="274.70" y="680.80" width="0.95" height="9.35" fill="#becce4"/>
<rect x="274.70" y="690.05" width="0.95" height="9.35" fill="#bfcce4"/>
<rect x="274.70" y="699.30" width="0.95" height="9.35" fill="#dae2f0"/>
<rect x="274.70" y="708.55" width="0.95" height="9.35" fill="#d2dcec"/>
<rect x="274.70" y="717.80" width="0.95" height="9.35" fill="#d3dced"/>
<rect x="274.70" y="727.05" width="0.95" height="9.35" fill="#b4c4e0"/>
<rect x="274.70" y="736.30" width="0.95" height="9.35" fill="#bfcde5"/>
<rect x="274.70" y="745.55" width="0.95" height="9.35" fill="#cbd6e9"/>
<rect x="275.50" y="680.80" width="2.35" height="9.35" fill="#f0f3f9"/>
<rect x="275.50" y="690.05" width="2.35" height="9.35" fill="#f3f5fa"/>
<rect x="275.50" y="699.30" width="2.35" height="9.35" fill="#fefefe"/>
<rect x="275.50" y="708.55" width="2.35" height="9.35" fill="#dbe3f0"/>
<rect x="275.50" y="717.80" width="2.35" height="9.35" fill="#eef2f8"/>
<rect x="275.50" y="727.05" width="2.35" height="9.35" fill="#a9bbdb"/>
<rect x="275.50" y="736.30" width="2.35" height="9.35" fill="#a4b8d9"/>
<rect x="275.50" y="745.55" width="2.35" height="9.35" fill="#a5b9da"/>
<rect x="277.70" y="680.80" width="2.95" height="9.35" fill="#f1f4f9"/>
<rect x="277.70" y="690.05" width="2.95" height="9.35" fill="#f6f8fb"/>
<rect x="277.70" y="699.30" width="2.95" height="9.35" fill="#ffffff"/>
<rect x="277.70" y="708.55" width="2.95" height="9.35" fill="#d4dded"/>
<rect x="277.70" y="717.80" width="2.95" height="9.35" fill="#e6ebf5"/>
<rect x="277.70" y="727.05" width="2.95" height="9.35" fill="#abbddc"/>
<rect x="277.70" y="736.30" width="2.95" height="9.35" fill="#abbddc"/>
<rect x="277.70" y="745.55" width="2.95" height="9.35" fill="#9bb0d6"/>
<rect x="280.50" y="680.80" width="1.35" height="9.35" fill="#dae2f0"/>
<rect x="280.50" y="690.05" width="1.35" height="9.35" fill="#d8e0ef"/>
<rect x="280.50" y="699.30" width="1.35" height="9.35" fill="#eaeff7"/>
<rect x="280.50" y="708.55" width="1.35" height="9.35" fill="#c0cde5"/>
<rect x="280.50" y="717.80" width="1.35" height="9.35" fill="#c9d4e9"/>
<rect x="280.50" y="727.05" width="1.35" height="9.35" fill="#c5d2e7"/>
<rect x="280.50" y="736.30" width="1.35" height="9.35" fill="#bac9e3"/>
<rect x="280.50" y="745.55" width="1.35" height="9.35" fill="#bfcde5"/>
<rect x="281.70" y="680.80" width="2.95" height="9.35" fill="#cbd6e9"/>
<rect x="281.70" y="690.05" width="2.95" height="9.35" fill="#cad6e9"/>
<rect x="281.70" y="699.30" width="2.95" height="9.35" fill="#f3f6fa"/>
<rect x="281.70" y="708.55" width="2.95" height="9.35" fill="#c9d4e9"/>
<rect x="281.70" y="717.80" width="2.95" height="9.35" fill="#d9e1ef"/>
<rect x="281.70" y="727.05" width="2.95" height="9.35" fill="#c7d3e8"/>
<rect x="281.70" y="736.30" width="2.95" height="9.35" fill="#c1cfe6"/>
<rect x="281.70" y="745.55" width="2.95" height="9.35" fill="#d5deee"/>
<rect x="284.50" y="680.80" width="1.65" height="9.35" fill="#e8edf5"/>
<rect x="284.50" y="690.05" width="1.65" height="9.35" fill="#dde4f1"/>
<rect x="284.50" y="699.30" width="1.65" height="9.35" fill="#ffffff"/>
<rect x="284.50" y="708.55" width="1.65" height="9.35" fill="#e1e7f3"/>
<rect x="284.50" y="717.80" width="1.65" height="9.35" fill="#eef1f8"/>
<rect x="284.50" y="727.05" width="1.65" height="9.35" fill="#c1cfe5"/>
<rect x="284.50" y="736.30" width="1.65" height="9.35" fill="#dce4f1"/>
<rect x="284.50" y="745.55" width="1.65" height="9.35" fill="#ced9eb"/>
<rect x="286.00" y="680.80" width="1.65" height="9.35" fill="#ffffff"/>
<rect x="286.00" y="690.05" width="1.65" height="9.35" fill="#ffffff"/>
<rect x="286.00" y="699.30" width="1.65" height="9.35" fill="#ffffff"/>
<rect x="286.00" y="708.55" width="1.65" height="9.35" fill="#c0cee5"/>
<rect x="286.00" y="717.80" width="1.65" height="9.35" fill="#c3d0e6"/>
<rect x="286.00" y="727.05" width="1.65" height="9.35" fill="#afc0de"/>
<rect x="286.00" y="736.30" width="1.65" height="9.35" fill="#c3d0e6"/>
<rect x="286.00" y="745.55" width="1.65" height="9.35" fill="#b8c7e1"/>
<rect x="287.50" y="680.80" width="0.95" height="9.35" fill="#bccbe3"/>
<rect x="287.50" y="690.05" width="0.95" height="9.35" fill="#ccd7ea"/>
<rect x="287.50" y="699.30" width="0.95" height="9.35" fill="#edf1f8"/>
<rect x="287.50" y="708.55" width="0.95" height="9.35" fill="#e5eaf4"/>
<rect x="287.50" y="717.80" width="0.95" height="9.35" fill="#e1e7f2"/>
<rect x="287.50" y="727.05" width="0.95" height="9.35" fill="#afc0de"/>
<rect x="287.50" y="736.30" width="0.95" height="9.35" fill="#a7badb"/>
<rect x="287.50" y="745.55" width="0.95" height="9.35" fill="#adbfdd"/>
<rect x="288.30" y="680.80" width="1.65" height="9.35" fill="#c8d4e8"/>
<rect x="288.30" y="690.05" width="1.65" height="9.35" fill="#e2e8f3"/>
<rect x="288.30" y="699.30" width="1.65" height="9.35" fill="#f8fafc"/>
<rect x="288.30" y="708.55" width="1.65" height="9.35" fill="#b5c5e0"/>
<rect x="288.30" y="717.80" width="1.65" height="9.35" fill="#e2e9f3"/>
<rect x="288.30" y="727.05" width="1.65" height="9.35" fill="#c1cee5"/>
<rect x="288.30" y="736.30" width="1.65" height="9.35" fill="#bdcbe4"/>
<rect x="288.30" y="745.55" width="1.65" height="9.35" fill="#cdd7ea"/>
<rect x="289.80" y="680.80" width="1.65" height="9.35" fill="#c8d4e8"/>
<rect x="289.80" y="690.05" width="1.65" height="9.35" fill="#e7ecf5"/>
<rect x="289.80" y="699.30" width="1.65" height="9.35" fill="#eff2f8"/>
<rect x="289.80" y="708.55" width="1.65" height="9.35" fill="#98aed5"/>
<rect x="289.80" y="717.80" width="1.65" height="9.35" fill="#a6b9da"/>
<rect x="289.80" y="727.05" width="1.65" height="9.35" fill="#adbfdd"/>
<rect x="289.80" y="736.30" width="1.65" height="9.35" fill="#b9c8e2"/>
<rect x="289.80" y="745.55" width="1.65" height="9.35" fill="#adbfdd"/>
<rect x="291.30" y="680.80" width="0.95" height="9.35" fill="#d4dded"/>
<rect x="291.30" y="690.05" width="0.95" height="9.35" fill="#e2e8f3"/>
<rect x="291.30" y="699.30" width="0.95" height="9.35" fill="#f0f4f9"/>
<rect x="291.30" y="708.55" width="0.95" height="9.35" fill="#bdcbe4"/>
<rect x="291.30" y="717.80" width="0.95" height="9.35" fill="#c7d3e8"/>
<rect x="291.30" y="727.05" width="0.95" height="9.35" fill="#b1c2df"/>
<rect x="291.30" y="736.30" width="0.95" height="9.35" fill="#c9d5e9"/>
<rect x="291.30" y="745.55" width="0.95" height="9.35" fill="#c0cde5"/>
<rect x="292.10" y="680.80" width="1.95" height="9.35" fill="#cad6e9"/>
<rect x="292.10" y="690.05" width="1.95" height="9.35" fill="#c1cee5"/>
<rect x="292.10" y="699.30" width="1.95" height="9.35" fill="#d0daeb"/>
<rect x="292.10" y="708.55" width="1.95" height="9.35" fill="#9eb3d7"/>
<rect x="292.10" y="717.80" width="1.95" height="9.35" fill="#aebfdd"/>
<rect x="292.10" y="727.05" width="1.95" height="9.35" fill="#d2dbec"/>
<rect x="292.10" y="736.30" width="1.95" height="9.35" fill="#cdd8ea"/>
<rect x="292.10" y="745.55" width="1.95" height="9.35" fill="#c7d3e8"/>
<rect x="293.90" y="680.80" width="0.95" height="9.35" fill="#c9d5e9"/>
<rect x="293.90" y="690.05" width="0.95" height="9.35" fill="#d6dfee"/>
<rect x="293.90" y="699.30" width="0.95" height="9.35" fill="#b3c4e0"/>
<rect x="293.90" y="708.55" width="0.95" height="9.35" fill="#afc0de"/>
<rect x="293.90" y="717.80" width="0.95" height="9.35" fill="#cdd7ea"/>
<rect x="293.90" y="727.05" width="0.95" height="9.35" fill="#d2dcec"/>
<rect x="293.90" y="736.30" width="0.95" height="9.35" fill="#dbe3f0"/>
<rect x="293.90" y="745.55" width="0.95" height="9.35" fill="#c3d0e6"/>
<rect x="294.70" y="680.80" width="1.35" height="9.35" fill="#b8c7e2"/>
<rect x="294.70" y="690.05" width="1.35" height="9.35" fill="#b9c8e2"/>
<rect x="294.70" y="699.30" width="1.35" height="9.35" fill="#a9bcdc"/>
<rect x="294.70" y="708.55" width="1.35" height="9.35" fill="#afc0de"/>
<rect x="294.70" y="717.80" width="1.35" height="9.35" fill="#b9c8e2"/>
<rect x="294.70" y="727.05" width="1.35" height="9.35" fill="#c1cfe6"/>
<rect x="294.70" y="736.30" width="1.35" height="9.35" fill="#d5deed"/>
<rect x="294.70" y="745.55" width="1.35" height="9.35" fill="#b3c3df"/>
<rect x="295.90" y="680.80" width="1.35" height="9.35" fill="#c5d1e7"/>
<rect x="295.90" y="690.05" width="1.35" height="9.35" fill="#b2c3df"/>
<rect x="295.90" y="699.30" width="1.35" height="9.35" fill="#a1b5d8"/>
<rect x="295.90" y="708.55" width="1.35" height="9.35" fill="#cbd6ea"/>
<rect x="295.90" y="717.80" width="1.35" height="9.35" fill="#d3dced"/>
<rect x="295.90" y="727.05" width="1.35" height="9.35" fill="#e3e9f3"/>
<rect x="295.90" y="736.30" width="1.35" height="9.35" fill="#e8edf6"/>
<rect x="295.90" y="745.55" width="1.35" height="9.35" fill="#ccd7ea"/>
<rect x="297.10" y="680.80" width="2.95" height="9.35" fill="#95acd3"/>
<rect x="297.10" y="690.05" width="2.95" height="9.35" fill="#b3c3df"/>
<rect x="297.10" y="699.30" width="2.95" height="9.35" fill="#8fa7d1"/>
<rect x="297.10" y="708.55" width="2.95" height="9.35" fill="#b0c1de"/>
<rect x="297.10" y="717.80" width="2.95" height="9.35" fill="#bbcae3"/>
<rect x="297.10" y="727.05" width="2.95" height="9.35" fill="#f3f5fa"/>
<rect x="297.10" y="736.30" width="2.95" height="9.35" fill="#e0e7f2"/>
<rect x="297.10" y="745.55" width="2.95" height="9.35" fill="#ced8eb"/>
<rect x="299.90" y="680.80" width="0.95" height="9.35" fill="#afc0de"/>
<rect x="299.90" y="690.05" width="0.95" height="9.35" fill="#c1cee5"/>
<rect x="299.90" y="699.30" width="0.95" height="9.35" fill="#9eb3d7"/>
<rect x="299.90" y="708.55" width="0.95" height="9.35" fill="#b6c5e1"/>
<rect x="299.90" y="717.80" width="0.95" height="9.35" fill="#b9c8e2"/>
<rect x="299.90" y="727.05" width="0.95" height="9.35" fill="#dfe6f2"/>
<rect x="299.90" y="736.30" width="0.95" height="9.35" fill="#e0e6f2"/>
<rect x="299.90" y="745.55" width="0.95" height="9.35" fill="#c1cfe5"/>
<rect x="300.70" y="680.80" width="0.95" height="9.35" fill="#a3b7d9"/>
<rect x="300.70" y="690.05" width="0.95" height="9.35" fill="#b3c3e0"/>
<rect x="300.70" y="699.30" width="0.95" height="9.35" fill="#97add4"/>
<rect x="300.70" y="708.55" width="0.95" height="9.35" fill="#b6c6e1"/>
<rect x="300.70" y="717.80" width="0.95" height="9.35" fill="#bccae3"/>
<rect x="300.70" y="727.05" width="0.95" height="9.35" fill="#f3f5fa"/>
<rect x="300.70" y="736.30" width="0.95" height="9.35" fill="#e3e9f3"/>
<rect x="300.70" y="745.55" width="0.95" height="9.35" fill="#e3e9f3"/>
<rect x="301.50" y="680.80" width="0.95" height="9.35" fill="#bbcae3"/>
<rect x="301.50" y="690.05" width="0.95" height="9.35" fill="#a9bbdb"/>
<rect x="301.50" y="699.30" width="0.95" height="9.35" fill="#9fb4d7"/>
<rect x="301.50" y="708.55" width="0.95" height="9.35" fill="#b2c2df"/>
<rect x="301.50" y="717.80" width="0.95" height="9.35" fill="#a9bcdc"/>
<rect x="301.50" y="727.05" width="0.95" height="9.35" fill="#d7dfee"/>
<rect x="301.50" y="736.30" width="0.95" height="9.35" fill="#c7d3e8"/>
<rect x="301.50" y="745.55" width="0.95" height="9.35" fill="#aabcdc"/>
<rect x="302.30" y="680.80" width="1.95" height="9.35" fill="#acbedd"/>
<rect x="302.30" y="690.05" width="1.95" height="9.35" fill="#b5c5e0"/>
<rect x="302.30" y="699.30" width="1.95" height="9.35" fill="#a2b6d8"/>
<rect x="302.30" y="708.55" width="1.95" height="9.35" fill="#aabcdc"/>
<rect x="302.30" y="717.80" width="1.95" height="9.35" fill="#c2cfe6"/>
<rect x="302.30" y="727.05" width="1.95" height="9.35" fill="#eaeef6"/>
<rect x="302.30" y="736.30" width="1.95" height="9.35" fill="#e9eef6"/>
<rect x="302.30" y="745.55" width="1.95" height="9.35" fill="#e9eef6"/>
<rect x="304.10" y="680.80" width="1.95" height="9.35" fill="#aabcdc"/>
<rect x="304.10" y="690.05" width="1.95" height="9.35" fill="#b6c6e1"/>
<rect x="304.10" y="699.30" width="1.95" height="9.35" fill="#95acd3"/>
<rect x="304.10" y="708.55" width="1.95" height="9.35" fill="#b3c3e0"/>
<rect x="304.10" y="717.80" width="1.95" height="9.35" fill="#cbd7ea"/>
<rect x="304.10" y="727.05" width="1.95" height="9.35" fill="#f1f4f9"/>
<rect x="304.10" y="736.30" width="1.95" height="9.35" fill="#e4e9f4"/>
<rect x="304.10" y="745.55" width="1.95" height="9.35" fill="#d3dded"/>
<rect x="305.90" y="680.80" width="1.35" height="9.35" fill="#abbddc"/>
<rect x="305.90" y="690.05" width="1.35" height="9.35" fill="#c4d1e7"/>
<rect x="305.90" y="699.30" width="1.35" height="9.35" fill="#a1b5d8"/>
<rect x="305.90" y="708.55" width="1.35" height="9.35" fill="#a4b7d9"/>
<rect x="305.90" y="717.80" width="1.35" height="9.35" fill="#bbcae3"/>
<rect x="305.90" y="727.05" width="1.35" height="9.35" fill="#f1f4f9"/>
<rect x="305.90" y="736.30" width="1.35" height="9.35" fill="#f0f3f9"/>
<rect x="305.90" y="745.55" width="1.35" height="9.35" fill="#dde4f1"/>
<rect x="307.10" y="680.80" width="2.95" height="9.35" fill="#a0b5d8"/>
<rect x="307.10" y="690.05" width="2.95" height="9.35" fill="#a9bbdb"/>
<rect x="307.10" y="699.30" width="2.95" height="9.35" fill="#a2b6d9"/>
<rect x="307.10" y="708.55" width="2.95" height="9.35" fill="#d1dbec"/>
<rect x="307.10" y="717.80" width="2.95" height="9.35" fill="#d5deee"/>
<rect x="307.10" y="727.05" width="2.95" height="9.35" fill="#edf1f8"/>
<rect x="307.10" y="736.30" width="2.95" height="9.35" fill="#dae2f0"/>
<rect x="307.10" y="745.55" width="2.95" height="9.35" fill="#e2e8f3"/>
<rect x="309.90" y="680.80" width="2.35" height="9.35" fill="#b1c2df"/>
<rect x="309.90" y="690.05" width="2.35" height="9.35" fill="#c7d3e8"/>
<rect x="309.90" y="699.30" width="2.35" height="9.35" fill="#afc0de"/>
<rect x="309.90" y="708.55" width="2.35" height="9.35" fill="#adbfdd"/>
<rect x="309.90" y="717.80" width="2.35" height="9.35" fill="#bdcbe4"/>
<rect x="309.90" y="727.05" width="2.35" height="9.35" fill="#e1e7f3"/>
<rect x="309.90" y="736.30" width="2.35" height="9.35" fill="#dae2f0"/>
<rect x="309.90" y="745.55" width="2.35" height="9.35" fill="#c6d2e7"/>
<rect x="312.10" y="680.80" width="1.35" height="9.35" fill="#cad6e9"/>
<rect x="312.10" y="690.05" width="1.35" height="9.35" fill="#becce4"/>
<rect x="312.10" y="699.30" width="1.35" height="9.35" fill="#bfcce4"/>
<rect x="312.10" y="708.55" width="1.35" height="9.35" fill="#b9c8e2"/>
<rect x="312.10" y="717.80" width="1.35" height="9.35" fill="#ccd7ea"/>
<rect x="312.10" y="727.05" width="1.35" height="9.35" fill="#d5deee"/>
<rect x="312.10" y="736.30" width="1.35" height="9.35" fill="#cbd6e9"/>
<rect x="312.10" y="745.55" width="1.35" height="9.35" fill="#ced9eb"/>
<rect x="313.30" y="680.80" width="1.95" height="9.35" fill="#b5c5e0"/>
<rect x="313.30" y="690.05" width="1.95" height="9.35" fill="#a5b8da"/>
<rect x="313.30" y="699.30" width="1.95" height="9.35" fill="#acbedd"/>
<rect x="313.30" y="708.55" width="1.95" height="9.35" fill="#95acd3"/>
<rect x="313.30" y="717.80" width="1.95" height="9.35" fill="#91a8d1"/>
<rect x="313.30" y="727.05" width="1.95" height="9.35" fill="#e7ecf5"/>
<rect x="313.30" y="736.30" width="1.95" height="9.35" fill="#ebeff7"/>
<rect x="313.30" y="745.55" width="1.95" height="9.35" fill="#ccd7ea"/>
<rect x="315.10" y="680.80" width="2.35" height="9.35" fill="#a2b6d9"/>
<rect x="315.10" y="690.05" width="2.35" height="9.35" fill="#9cb2d6"/>
<rect x="315.10" y="699.30" width="2.35" height="9.35" fill="#9cb1d6"/>
<rect x="315.10" y="708.55" width="2.35" height="9.35" fill="#abbddc"/>
<rect x="315.10" y="717.80" width="2.35" height="9.35" fill="#b7c7e1"/>
<rect x="315.10" y="727.05" width="2.35" height="9.35" fill="#ecf0f7"/>
<rect x="315.10" y="736.30" width="2.35" height="9.35" fill="#f1f4f9"/>
<rect x="315.10" y="745.55" width="2.35" height="9.35" fill="#d8e1ef"/>
<rect x="317.30" y="680.80" width="1.35" height="9.35" fill="#7e9aca"/>
<rect x="317.30" y="690.05" width="1.35" height="9.35" fill="#8ca5d0"/>
<rect x="317.30" y="699.30" width="1.35" height="9.35" fill="#6b8bc2"/>
<rect x="317.30" y="708.55" width="1.35" height="9.35" fill="#9eb3d7"/>
<rect x="317.30" y="717.80" width="1.35" height="9.35" fill="#b1c2df"/>
<rect x="317.30" y="727.05" width="1.35" height="9.35" fill="#dfe6f2"/>
<rect x="317.30" y="736.30" width="1.35" height="9.35" fill="#dfe6f2"/>
<rect x="317.30" y="745.55" width="1.35" height="9.35" fill="#d5deee"/>
<rect x="318.50" y="680.80" width="2.95" height="9.35" fill="#b1c2df"/>
<rect x="318.50" y="690.05" width="2.95" height="9.35" fill="#b0c1de"/>
<rect x="318.50" y="699.30" width="2.95" height="9.35" fill="#a1b5d8"/>
<rect x="318.50" y="708.55" width="2.95" height="9.35" fill="#a8bbdb"/>
<rect x="318.50" y="717.80" width="2.95" height="9.35" fill="#c8d4e8"/>
<rect x="318.50" y="727.05" width="2.95" height="9.35" fill="#ffffff"/>
<rect x="318.50" y="736.30" width="2.95" height="9.35" fill="#ffffff"/>
<rect x="318.50" y="745.55" width="2.95" height="9.35" fill="#eff3f9"/>
<rect x="321.30" y="680.80" width="1.35" height="9.35" fill="#a5b9da"/>
<rect x="321.30" y="690.05" width="1.35" height="9.35" fill="#a0b5d8"/>
<rect x="321.30" y="699.30" width="1.35" height="9.35" fill="#97add4"/>
<rect x="321.30" y="708.55" width="1.35" height="9.35" fill="#8fa7d1"/>
<rect x="321.30" y="717.80" width="1.35" height="9.35" fill="#99afd5"/>
<rect x="321.30" y="727.05" width="1.35" height="9.35" fill="#dae2f0"/>
<rect x="321.30" y="736.30" width="1.35" height="9.35" fill="#bfcde5"/>
<rect x="321.30" y="745.55" width="1.35" height="9.35" fill="#afc0de"/>
<rect x="322.50" y="680.80" width="1.95" height="9.35" fill="#aebfde"/>
<rect x="322.50" y="690.05" width="1.95" height="9.35" fill="#bccbe4"/>
<rect x="322.50" y="699.30" width="1.95" height="9.35" fill="#96acd3"/>
<rect x="322.50" y="708.55" width="1.95" height="9.35" fill="#bac9e3"/>
<rect x="322.50" y="717.80" width="1.95" height="9.35" fill="#ced8eb"/>
<rect x="322.50" y="727.05" width="1.95" height="9.35" fill="#ffffff"/>
<rect x="322.50" y="736.30" width="1.95" height="9.35" fill="#f6f8fb"/>
<rect x="322.50" y="745.55" width="1.95" height="9.35" fill="#d1dbec"/>
<rect x="324.30" y="680.80" width="2.95" height="9.35" fill="#a5b8da"/>
<rect x="324.30" y="690.05" width="2.95" height="9.35" fill="#bac9e2"/>
<rect x="324.30" y="699.30" width="2.95" height="9.35" fill="#92a9d2"/>
<rect x="324.30" y="708.55" width="2.95" height="9.35" fill="#c5d2e7"/>
<rect x="324.30" y="717.80" width="2.95" height="9.35" fill="#dde5f1"/>
<rect x="324.30" y="727.05" width="2.95" height="9.35" fill="#f2f4f9"/>
<rect x="324.30" y="736.30" width="2.95" height="9.35" fill="#f4f7fb"/>
<rect x="324.30" y="745.55" width="2.95" height="9.35" fill="#dbe3f0"/>
<rect x="327.10" y="680.80" width="1.95" height="9.35" fill="#a7badb"/>
<rect x="327.10" y="690.05" width="1.95" height="9.35" fill="#aabddc"/>
<rect x="327.10" y="699.30" width="1.95" height="9.35" fill="#839ecc"/>
<rect x="327.10" y="708.55" width="1.95" height="9.35" fill="#abbddc"/>
<rect x="327.10" y="717.80" width="1.95" height="9.35" fill="#b2c3df"/>
<rect x="327.10" y="727.05" width="1.95" height="9.35" fill="#dae2f0"/>
<rect x="327.10" y="736.30" width="1.95" height="9.35" fill="#d1dbec"/>
<rect x="327.10" y="745.55" width="1.95" height="9.35" fill="#bccae3"/>
<rect x="328.90" y="680.80" width="0.95" height="9.35" fill="#c8d4e8"/>
<rect x="328.90" y="690.05" width="0.95" height="9.35" fill="#becce4"/>
<rect x="328.90" y="699.30" width="0.95" height="9.35" fill="#b8c7e2"/>
<rect x="328.90" y="708.55" width="0.95" height="9.35" fill="#adbfdd"/>
<rect x="328.90" y="717.80" width="0.95" height="9.35" fill="#bdcbe4"/>
<rect x="328.90" y="727.05" width="0.95" height="9.35" fill="#eaeef6"/>
<rect x="328.90" y="736.30" width="0.95" height="9.35" fill="#d3dced"/>
<rect x="328.90" y="745.55" width="0.95" height="9.35" fill="#bfcde5"/>
<rect x="329.70" y="680.80" width="1.95" height="9.35" fill="#9ab0d5"/>
<rect x="329.70" y="690.05" width="1.95" height="9.35" fill="#a5b8da"/>
<rect x="329.70" y="699.30" width="1.95" height="9.35" fill="#809ccb"/>
<rect x="329.70" y="708.55" width="1.95" height="9.35" fill="#bccae3"/>
<rect x="329.70" y="717.80" width="1.95" height="9.35" fill="#becce4"/>
<rect x="329.70" y="727.05" width="1.95" height="9.35" fill="#f9fafd"/>
<rect x="329.70" y="736.30" width="1.95" height="9.35" fill="#ebeff7"/>
<rect x="329.70" y="745.55" width="1.95" height="9.35" fill="#dbe3f0"/>
<rect x="331.50" y="680.80" width="1.95" height="9.35" fill="#a0b4d8"/>
<rect x="331.50" y="690.05" width="1.95" height="9.35" fill="#abbddc"/>
<rect x="331.50" y="699.30" width="1.95" height="9.35" fill="#98afd5"/>
<rect x="331.50" y="708.55" width="1.95" height="9.35" fill="#d0daec"/>
<rect x="331.50" y="717.80" width="1.95" height="9.35" fill="#cdd8eb"/>
<rect x="331.50" y="727.05" width="1.95" height="9.35" fill="#cfd9eb"/>
<rect x="331.50" y="736.30" width="1.95" height="9.35" fill="#e0e6f2"/>
<rect x="331.50" y="745.55" width="1.95" height="9.35" fill="#cad6e9"/>
<rect x="333.30" y="680.80" width="1.35" height="9.35" fill="#a9bcdb"/>
<rect x="333.30" y="690.05" width="1.35" height="9.35" fill="#bdcbe4"/>
<rect x="333.30" y="699.30" width="1.35" height="9.35" fill="#9fb4d7"/>
<rect x="333.30" y="708.55" width="1.35" height="9.35" fill="#bccae3"/>
<rect x="333.30" y="717.80" width="1.35" height="9.35" fill="#aec0de"/>
<rect x="333.30" y="727.05" width="1.35" height="9.35" fill="#ffffff"/>
<rect x="333.30" y="736.30" width="1.35" height="9.35" fill="#f4f6fa"/>
<rect x="333.30" y="745.55" width="1.35" height="9.35" fill="#ecf0f7"/>
<rect x="334.50" y="680.80" width="0.95" height="9.35" fill="#8ba4cf"/>
<rect x="334.50" y="690.05" width="0.95" height="9.35" fill="#9fb4d7"/>
<rect x="334.50" y="699.30" width="0.95" height="9.35" fill="#91a9d2"/>
<rect x="334.50" y="708.55" width="0.95" height="9.35" fill="#bbc9e3"/>
<rect x="334.50" y="717.80" width="0.95" height="9.35" fill="#b6c5e1"/>
<rect x="334.50" y="727.05" width="0.95" height="9.35" fill="#e7ecf5"/>
<rect x="334.50" y="736.30" width="0.95" height="9.35" fill="#e6ebf5"/>
<rect x="334.50" y="745.55" width="0.95" height="9.35" fill="#d7e0ef"/>
<rect x="335.30" y="680.80" width="1.65" height="9.35" fill="#9db2d6"/>
<rect x="335.30" y="690.05" width="1.65" height="9.35" fill="#9bb0d6"/>
<rect x="335.30" y="699.30" width="1.65" height="9.35" fill="#8fa7d1"/>
<rect x="335.30" y="708.55" width="1.65" height="9.35" fill="#a2b6d9"/>
<rect x="335.30" y="717.80" width="1.65" height="9.35" fill="#afc0de"/>
<rect x="335.30" y="727.05" width="1.65" height="9.35" fill="#dfe6f2"/>
<rect x="335.30" y="736.30" width="1.65" height="9.35" fill="#cdd8ea"/>
<rect x="335.30" y="745.55" width="1.65" height="9.35" fill="#c9d4e9"/>
<rect x="336.80" y="680.80" width="2.35" height="9.35" fill="#9db2d7"/>
<rect x="336.80" y="690.05" width="2.35" height="9.35" fill="#a5b9da"/>
<rect x="336.80" y="699.30" width="2.35" height="9.35" fill="#8da6d0"/>
<rect x="336.80" y="708.55" width="2.35" height="9.35" fill="#92a9d2"/>
<rect x="336.80" y="717.80" width="2.35" height="9.35" fill="#a3b7d9"/>
<rect x="336.80" y="727.05" width="2.35" height="9.35" fill="#f0f3f9"/>
<rect x="336.80" y="736.30" width="2.35" height="9.35" fill="#e1e7f3"/>
<rect x="336.80" y="745.55" width="2.35" height="9.35" fill="#c7d3e8"/>
<rect x="339.00" y="680.80" width="1.65" height="9.35" fill="#9db2d6"/>
<rect x="339.00" y="690.05" width="1.65" height="9.35" fill="#a7badb"/>
<rect x="339.00" y="699.30" width="1.65" height="9.35" fill="#a0b4d8"/>
<rect x="339.00" y="708.55" width="1.65" height="9.35" fill="#92aad2"/>
<rect x="339.00" y="717.80" width="1.65" height="9.35" fill="#98aed4"/>
<rect x="339.00" y="727.05" width="1.65" height="9.35" fill="#ffffff"/>
<rect x="339.00" y="736.30" width="1.65" height="9.35" fill="#e9eef6"/>
<rect x="339.00" y="745.55" width="1.65" height="9.35" fill="#dce4f1"/>
<rect x="340.50" y="680.80" width="0.95" height="9.35" fill="#bbc9e3"/>
<rect x="340.50" y="690.05" width="0.95" height="9.35" fill="#c0cde5"/>
<rect x="340.50" y="699.30" width="0.95" height="9.35" fill="#b4c4e0"/>
<rect x="340.50" y="708.55" width="0.95" height="9.35" fill="#a6b9da"/>
<rect x="340.50" y="717.80" width="0.95" height="9.35" fill="#c4d1e7"/>
<rect x="340.50" y="727.05" width="0.95" height="9.35" fill="#dee5f2"/>
<rect x="340.50" y="736.30" width="0.95" height="9.35" fill="#d8e0ef"/>
<rect x="340.50" y="745.55" width="0.95" height="9.35" fill="#d3dced"/>
<rect x="341.30" y="680.80" width="1.35" height="9.35" fill="#b0c1de"/>
<rect x="341.30" y="690.05" width="1.35" height="9.35" fill="#c5d1e7"/>
<rect x="341.30" y="699.30" width="1.35" height="9.35" fill="#b0c1de"/>
<rect x="341.30" y="708.55" width="1.35" height="9.35" fill="#b2c3df"/>
<rect x="341.30" y="717.80" width="1.35" height="9.35" fill="#aabcdc"/>
<rect x="341.30" y="727.05" width="1.35" height="9.35" fill="#dce4f1"/>
<rect x="341.30" y="736.30" width="1.35" height="9.35" fill="#dee5f1"/>
<rect x="341.30" y="745.55" width="1.35" height="9.35" fill="#cbd6e9"/>
<rect x="342.50" y="680.80" width="1.35" height="9.35" fill="#a6b9da"/>
<rect x="342.50" y="690.05" width="1.35" height="9.35" fill="#a6b9da"/>
<rect x="342.50" y="699.30" width="1.35" height="9.35" fill="#91a8d1"/>
<rect x="342.50" y="708.55" width="1.35" height="9.35" fill="#97add4"/>
<rect x="342.50" y="717.80" width="1.35" height="9.35" fill="#a3b7d9"/>
<rect x="342.50" y="727.05" width="1.35" height="9.35" fill="#d9e2ef"/>
<rect x="342.50" y="736.30" width="1.35" height="9.35" fill="#d8e0ef"/>
<rect x="342.50" y="745.55" width="1.35" height="9.35" fill="#cbd6e9"/>
<rect x="343.70" y="680.80" width="1.95" height="9.35" fill="#8fa7d1"/>
<rect x="343.70" y="690.05" width="1.95" height="9.35" fill="#8aa3cf"/>
<rect x="343.70" y="699.30" width="1.95" height="9.35" fill="#88a2ce"/>
<rect x="343.70" y="708.55" width="1.95" height="9.35" fill="#a0b4d8"/>
<rect x="343.70" y="717.80" width="1.95" height="9.35" fill="#9ab0d5"/>
<rect x="343.70" y="727.05" width="1.95" height="9.35" fill="#d9e1ef"/>
<rect x="343.70" y="736.30" width="1.95" height="9.35" fill="#ced8eb"/>
<rect x="343.70" y="745.55" width="1.95" height="9.35" fill="#bbcae3"/>
<rect x="345.50" y="680.80" width="2.35" height="9.35" fill="#a0b5d8"/>
<rect x="345.50" y="690.05" width="2.35" height="9.35" fill="#9db2d7"/>
<rect x="345.50" y="699.30" width="2.35" height="9.35" fill="#859fcd"/>
<rect x="345.50" y="708.55" width="2.35" height="9.35" fill="#b3c3df"/>
<rect x="345.50" y="717.80" width="2.35" height="9.35" fill="#cdd8ea"/>
<rect x="345.50" y="727.05" width="2.35" height="9.35" fill="#d8e0ef"/>
<rect x="345.50" y="736.30" width="2.35" height="9.35" fill="#cad6e9"/>
<rect x="345.50" y="745.55" width="2.35" height="9.35" fill="#bccae3"/>
<rect x="347.70" y="680.80" width="2.95" height="9.35" fill="#a9bcdc"/>
<rect x="347.70" y="690.05" width="2.95" height="9.35" fill="#abbddc"/>
<rect x="347.70" y="699.30" width="2.95" height="9.35" fill="#87a1ce"/>
<rect x="347.70" y="708.55" width="2.95" height="9.35" fill="#c8d4e8"/>
<rect x="347.70" y="717.80" width="2.95" height="9.35" fill="#a4b8d9"/>
<rect x="347.70" y="727.05" width="2.95" height="9.35" fill="#edf1f8"/>
<rect x="347.70" y="736.30" width="2.95" height="9.35" fill="#e5ebf4"/>
<rect x="347.70" y="745.55" width="2.95" height="9.35" fill="#e2e9f3"/>
<rect x="350.50" y="680.80" width="2.35" height="9.35" fill="#94abd3"/>
<rect x="350.50" y="690.05" width="2.35" height="9.35" fill="#8ea6d0"/>
<rect x="350.50" y="699.30" width="2.35" height="9.35" fill="#86a0cd"/>
<rect x="350.50" y="708.55" width="2.35" height="9.35" fill="#afc1de"/>
<rect x="350.50" y="717.80" width="2.35" height="9.35" fill="#b4c4e0"/>
<rect x="350.50" y="727.05" width="2.35" height="9.35" fill="#fbfcfd"/>
<rect x="350.50" y="736.30" width="2.35" height="9.35" fill="#e6ecf5"/>
<rect x="350.50" y="745.55" width="2.35" height="9.35" fill="#d9e1ef"/>
<rect x="352.70" y="680.80" width="0.95" height="9.35" fill="#a5b9da"/>
<rect x="352.70" y="690.05" width="0.95" height="9.35" fill="#b8c7e2"/>
<rect x="352.70" y="699.30" width="0.95" height="9.35" fill="#9ab0d5"/>
<rect x="352.70" y="708.55" width="0.95" height="9.35" fill="#becce4"/>
<rect x="352.70" y="717.80" width="0.95" height="9.35" fill="#b9c8e2"/>
<rect x="352.70" y="727.05" width="0.95" height="9.35" fill="#dee5f1"/>
<rect x="352.70" y="736.30" width="0.95" height="9.35" fill="#b5c5e0"/>
<rect x="352.70" y="745.55" width="0.95" height="9.35" fill="#cbd6e9"/>
<rect x="353.50" y="680.80" width="0.95" height="9.35" fill="#a3b7d9"/>
<rect x="353.50" y="690.05" width="0.95" height="9.35" fill="#a3b7d9"/>
<rect x="353.50" y="699.30" width="0.95" height="9.35" fill="#94abd3"/>
<rect x="353.50" y="708.55" width="0.95" height="9.35" fill="#a8bbdb"/>
<rect x="353.50" y="717.80" width="0.95" height="9.35" fill="#abbddc"/>
<rect x="353.50" y="727.05" width="0.95" height="9.35" fill="#cdd8ea"/>
<rect x="353.50" y="736.30" width="0.95" height="9.35" fill="#cbd7ea"/>
<rect x="353.50" y="745.55" width="0.95" height="9.35" fill="#c2cfe6"/>
<rect x="354.30" y="680.80" width="1.35" height="9.35" fill="#91a8d1"/>
<rect x="354.30" y="690.05" width="1.35" height="9.35" fill="#acbedd"/>
<rect x="354.30" y="699.30" width="1.35" height="9.35" fill="#8da5d0"/>
<rect x="354.30" y="708.55" width="1.35" height="9.35" fill="#a0b5d8"/>
<rect x="354.30" y="717.80" width="1.35" height="9.35" fill="#a5b8da"/>
<rect x="354.30" y="727.05" width="1.35" height="9.35" fill="#c8d4e8"/>
<rect x="354.30" y="736.30" width="1.35" height="9.35" fill="#c6d3e8"/>
<rect x="354.30" y="745.55" width="1.35" height="9.35" fill="#bdcbe4"/>
<rect x="355.50" y="680.80" width="1.35" height="9.35" fill="#a0b5d8"/>
<rect x="355.50" y="690.05" width="1.35" height="9.35" fill="#97add4"/>
<rect x="355.50" y="699.30" width="1.35" height="9.35" fill="#86a0cd"/>
<rect x="355.50" y="708.55" width="1.35" height="9.35" fill="#9ab0d5"/>
<rect x="355.50" y="717.80" width="1.35" height="9.35" fill="#8da6d0"/>
<rect x="355.50" y="727.05" width="1.35" height="9.35" fill="#ebeff7"/>
<rect x="355.50" y="736.30" width="1.35" height="9.35" fill="#bfcde5"/>
<rect x="355.50" y="745.55" width="1.35" height="9.35" fill="#bccae3"/>
<rect x="356.70" y="680.80" width="1.95" height="9.35" fill="#8da6d0"/>
<rect x="356.70" y="690.05" width="1.95" height="9.35" fill="#88a1ce"/>
<rect x="356.70" y="699.30" width="1.95" height="9.35" fill="#88a1ce"/>
<rect x="356.70" y="708.55" width="1.95" height="9.35" fill="#a0b5d8"/>
<rect x="356.70" y="717.80" width="1.95" height="9.35" fill="#b2c3df"/>
<rect x="356.70" y="727.05" width="1.95" height="9.35" fill="#e0e7f2"/>
<rect x="356.70" y="736.30" width="1.95" height="9.35" fill="#cad5e9"/>
<rect x="356.70" y="745.55" width="1.95" height="9.35" fill="#b3c3df"/>
<rect x="358.50" y="680.80" width="1.65" height="9.35" fill="#a0b5d8"/>
<rect x="358.50" y="690.05" width="1.65" height="9.35" fill="#a0b5d8"/>
<rect x="358.50" y="699.30" width="1.65" height="9.35" fill="#89a3ce"/>
<rect x="358.50" y="708.55" width="1.65" height="9.35" fill="#90a8d1"/>
<rect x="358.50" y="717.80" width="1.65" height="9.35" fill="#859fcd"/>
<rect x="358.50" y="727.05" width="1.65" height="9.35" fill="#ced8eb"/>
<rect x="358.50" y="736.30" width="1.65" height="9.35" fill="#c8d4e8"/>
<rect x="358.50" y="745.55" width="1.65" height="9.35" fill="#c5d1e7"/>
<rect x="360.00" y="680.80" width="0.95" height="9.35" fill="#aabddc"/>
<rect x="360.00" y="690.05" width="0.95" height="9.35" fill="#b2c2df"/>
<rect x="360.00" y="699.30" width="0.95" height="9.35" fill="#acbedd"/>
<rect x="360.00" y="708.55" width="0.95" height="9.35" fill="#b2c3df"/>
<rect x="360.00" y="717.80" width="0.95" height="9.35" fill="#9aafd5"/>
<rect x="360.00" y="727.05" width="0.95" height="9.35" fill="#d8e0ef"/>
<rect x="360.00" y="736.30" width="0.95" height="9.35" fill="#bdcbe4"/>
<rect x="360.00" y="745.55" width="0.95" height="9.35" fill="#c8d4e8"/>
<rect x="360.80" y="680.80" width="2.35" height="9.35" fill="#a4b8d9"/>
<rect x="360.80" y="690.05" width="2.35" height="9.35" fill="#9ab0d5"/>
<rect x="360.80" y="699.30" width="2.35" height="9.35" fill="#849fcc"/>
<rect x="360.80" y="708.55" width="2.35" height="9.35" fill="#9fb4d8"/>
<rect x="360.80" y="717.80" width="2.35" height="9.35" fill="#92a9d2"/>
<rect x="360.80" y="727.05" width="2.35" height="9.35" fill="#d5deee"/>
<rect x="360.80" y="736.30" width="2.35" height="9.35" fill="#ced8eb"/>
<rect x="360.80" y="745.55" width="2.35" height="9.35" fill="#bccbe3"/>
<rect x="363.00" y="680.80" width="1.65" height="9.35" fill="#aabcdc"/>
<rect x="363.00" y="690.05" width="1.65" height="9.35" fill="#b4c4e0"/>
<rect x="363.00" y="699.30" width="1.65" height="9.35" fill="#8ba4cf"/>
<rect x="363.00" y="708.55" width="1.65" height="9.35" fill="#86a0cd"/>
<rect x="363.00" y="717.80" width="1.65" height="9.35" fill="#8aa4cf"/>
<rect x="363.00" y="727.05" width="1.65" height="9.35" fill="#dee5f1"/>
<rect x="363.00" y="736.30" width="1.65" height="9.35" fill="#c3d0e6"/>
<rect x="363.00" y="745.55" width="1.65" height="9.35" fill="#cad5e9"/>
<rect x="364.50" y="680.80" width="1.65" height="9.35" fill="#88a2ce"/>
<rect x="364.50" y="690.05" width="1.65" height="9.35" fill="#97aed4"/>
<rect x="364.50" y="699.30" width="1.65" height="9.35" fill="#6c8cc2"/>
<rect x="364.50" y="708.55" width="1.65" height="9.35" fill="#87a1cd"/>
<rect x="364.50" y="717.80" width="1.65" height="9.35" fill="#7593c6"/>
<rect x="364.50" y="727.05" width="1.65" height="9.35" fill="#dae2f0"/>
<rect x="364.50" y="736.30" width="1.65" height="9.35" fill="#c2cfe6"/>
<rect x="364.50" y="745.55" width="1.65" height="9.35" fill="#c7d3e8"/>
<rect x="366.00" y="680.80" width="1.95" height="9.35" fill="#89a3ce"/>
<rect x="366.00" y="690.05" width="1.95" height="9.35" fill="#95acd3"/>
<rect x="366.00" y="699.30" width="1.95" height="9.35" fill="#8ba4cf"/>
<rect x="366.00" y="708.55" width="1.95" height="9.35" fill="#adbfdd"/>
<rect x="366.00" y="717.80" width="1.95" height="9.35" fill="#a3b7d9"/>
<rect x="366.00" y="727.05" width="1.95" height="9.35" fill="#d2dcec"/>
<rect x="366.00" y="736.30" width="1.95" height="9.35" fill="#a5b8da"/>
<rect x="366.00" y="745.55" width="1.95" height="9.35" fill="#a5b8da"/>
<rect x="367.80" y="680.80" width="0.95" height="9.35" fill="#a6b9da"/>
<rect x="367.80" y="690.05" width="0.95" height="9.35" fill="#a4b8d9"/>
<rect x="367.80" y="699.30" width="0.95" height="9.35" fill="#98aed4"/>
<rect x="367.80" y="708.55" width="0.95" height="9.35" fill="#a4b8da"/>
<rect x="367.80" y="717.80" width="0.95" height="9.35" fill="#b3c3df"/>
<rect x="367.80" y="727.05" width="0.95" height="9.35" fill="#dce3f0"/>
<rect x="367.80" y="736.30" width="0.95" height="9.35" fill="#bccae3"/>
<rect x="367.80" y="745.55" width="0.95" height="9.35" fill="#bfcde5"/>
<rect x="368.60" y="680.80" width="0.95" height="9.35" fill="#8fa7d1"/>
<rect x="368.60" y="690.05" width="0.95" height="9.35" fill="#a2b6d9"/>
<rect x="368.60" y="699.30" width="0.95" height="9.35" fill="#819ccb"/>
<rect x="368.60" y="708.55" width="0.95" height="9.35" fill="#8da5d0"/>
<rect x="368.60" y="717.80" width="0.95" height="9.35" fill="#90a8d1"/>
<rect x="368.60" y="727.05" width="0.95" height="9.35" fill="#c4d1e7"/>
<rect x="368.60" y="736.30" width="0.95" height="9.35" fill="#b3c4e0"/>
<rect x="368.60" y="745.55" width="0.95" height="9.35" fill="#bbcae3"/>
<rect x="369.40" y="680.80" width="0.95" height="9.35" fill="#7391c5"/>
<rect x="369.40" y="690.05" width="0.95" height="9.35" fill="#7b97c8"/>
<rect x="369.40" y="699.30" width="0.95" height="9.35" fill="#7a97c8"/>
<rect x="369.40" y="708.55" width="0.95" height="9.35" fill="#94abd3"/>
<rect x="369.40" y="717.80" width="0.95" height="9.35" fill="#a1b5d8"/>
<rect x="369.40" y="727.05" width="0.95" height="9.35" fill="#cad6e9"/>
<rect x="369.40" y="736.30" width="0.95" height="9.35" fill="#cbd6e9"/>
<rect x="369.40" y="745.55" width="0.95" height="9.35" fill="#acbedd"/>
<rect x="370.20" y="680.80" width="1.35" height="9.35" fill="#aebfdd"/>
<rect x="370.20" y="690.05" width="1.35" height="9.35" fill="#abbddc"/>
<rect x="370.20" y="699.30" width="1.35" height="9.35" fill="#aec0de"/>
<rect x="370.20" y="708.55" width="1.35" height="9.35" fill="#b6c6e1"/>
<rect x="370.20" y="717.80" width="1.35" height="9.35" fill="#c4d1e7"/>
<rect x="370.20" y="727.05" width="1.35" height="9.35" fill="#f4f6fa"/>
<rect x="370.20" y="736.30" width="1.35" height="9.35" fill="#e7ecf5"/>
<rect x="370.20" y="745.55" width="1.35" height="9.35" fill="#cad6e9"/>
<rect x="371.40" y="680.80" width="2.35" height="9.35" fill="#94abd3"/>
<rect x="371.40" y="690.05" width="2.35" height="9.35" fill="#9db2d6"/>
<rect x="371.40" y="699.30" width="2.35" height="9.35" fill="#96add4"/>
<rect x="371.40" y="708.55" width="2.35" height="9.35" fill="#859fcc"/>
<rect x="371.40" y="717.80" width="2.35" height="9.35" fill="#90a8d1"/>
<rect x="371.40" y="727.05" width="2.35" height="9.35" fill="#e7ecf5"/>
<rect x="371.40" y="736.30" width="2.35" height="9.35" fill="#dce3f0"/>
<rect x="371.40" y="745.55" width="2.35" height="9.35" fill="#dde4f1"/>
<rect x="373.60" y="680.80" width="2.95" height="9.35" fill="#aabcdc"/>
<rect x="373.60" y="690.05" width="2.95" height="9.35" fill="#abbddc"/>
<rect x="373.60" y="699.30" width="2.95" height="9.35" fill="#a1b5d8"/>
<rect x="373.60" y="708.55" width="2.95" height="9.35" fill="#9eb3d7"/>
<rect x="373.60" y="717.80" width="2.95" height="9.35" fill="#9eb3d7"/>
<rect x="373.60" y="727.05" width="2.95" height="9.35" fill="#eef1f8"/>
<rect x="373.60" y="736.30" width="2.95" height="9.35" fill="#d5deee"/>
<rect x="373.60" y="745.55" width="2.95" height="9.35" fill="#cdd8ea"/>
<rect x="376.40" y="680.80" width="1.35" height="9.35" fill="#8ea6d0"/>
<rect x="376.40" y="690.05" width="1.35" height="9.35" fill="#9bb1d6"/>
<rect x="376.40" y="699.30" width="1.35" height="9.35" fill="#88a1ce"/>
<rect x="376.40" y="708.55" width="1.35" height="9.35" fill="#c3d0e6"/>
<rect x="376.40" y="717.80" width="1.35" height="9.35" fill="#c4d1e7"/>
<rect x="376.40" y="727.05" width="1.35" height="9.35" fill="#fafbfd"/>
<rect x="376.40" y="736.30" width="1.35" height="9.35" fill="#e5ebf4"/>
<rect x="376.40" y="745.55" width="1.35" height="9.35" fill="#c4d1e7"/>
<rect x="377.60" y="680.80" width="0.95" height="9.35" fill="#abbddc"/>
<rect x="377.60" y="690.05" width="0.95" height="9.35" fill="#b4c4e0"/>
<rect x="377.60" y="699.30" width="0.95" height="9.35" fill="#9cb2d6"/>
<rect x="377.60" y="708.55" width="0.95" height="9.35" fill="#9cb1d6"/>
<rect x="377.60" y="717.80" width="0.95" height="9.35" fill="#b0c1de"/>
<rect x="377.60" y="727.05" width="0.95" height="9.35" fill="#c6d2e8"/>
<rect x="377.60" y="736.30" width="0.95" height="9.35" fill="#c7d3e8"/>
<rect x="377.60" y="745.55" width="0.95" height="9.35" fill="#b3c4e0"/>
<rect x="378.40" y="680.80" width="2.35" height="9.35" fill="#9eb3d7"/>
<rect x="378.40" y="690.05" width="2.35" height="9.35" fill="#a8badb"/>
<rect x="378.40" y="699.30" width="2.35" height="9.35" fill="#99afd5"/>
<rect x="378.40" y="708.55" width="2.35" height="9.35" fill="#a0b4d8"/>
<rect x="378.40" y="717.80" width="2.35" height="9.35" fill="#a4b7d9"/>
<rect x="378.40" y="727.05" width="2.35" height="9.35" fill="#dee5f1"/>
<rect x="378.40" y="736.30" width="2.35" height="9.35" fill="#d4dded"/>
<rect x="378.40" y="745.55" width="2.35" height="9.35" fill="#ced8eb"/>
<rect x="380.60" y="680.80" width="1.65" height="9.35" fill="#92a9d2"/>
<rect x="380.60" y="690.05" width="1.65" height="9.35" fill="#8ea6d0"/>
<rect x="380.60" y="699.30" width="1.65" height="9.35" fill="#7c99c9"/>
<rect x="380.60" y="708.55" width="1.65" height="9.35" fill="#a8bbdb"/>
<rect x="380.60" y="717.80" width="1.65" height="9.35" fill="#b2c3df"/>
<rect x="380.60" y="727.05" width="1.65" height="9.35" fill="#a4b8d9"/>
<rect x="380.60" y="736.30" width="1.65" height="9.35" fill="#b0c1de"/>
<rect x="380.60" y="745.55" width="1.65" height="9.35" fill="#a4b8d9"/>
<rect x="382.10" y="680.80" width="1.65" height="9.35" fill="#8aa3ce"/>
<rect x="382.10" y="690.05" width="1.65" height="9.35" fill="#7e9aca"/>
<rect x="382.10" y="699.30" width="1.65" height="9.35" fill="#6d8cc3"/>
<rect x="382.10" y="708.55" width="1.65" height="9.35" fill="#a4b8da"/>
<rect x="382.10" y="717.80" width="1.65" height="9.35" fill="#9ab0d5"/>
<rect x="382.10" y="727.05" width="1.65" height="9.35" fill="#e8edf6"/>
<rect x="382.10" y="736.30" width="1.65" height="9.35" fill="#e3e9f3"/>
<rect x="382.10" y="745.55" width="1.65" height="9.35" fill="#dbe3f0"/>
<rect x="383.60" y="680.80" width="2.35" height="9.35" fill="#98aed5"/>
<rect x="383.60" y="690.05" width="2.35" height="9.35" fill="#b3c3e0"/>
<rect x="383.60" y="699.30" width="2.35" height="9.35" fill="#91a9d2"/>
<rect x="383.60" y="708.55" width="2.35" height="9.35" fill="#b3c3e0"/>
<rect x="383.60" y="717.80" width="2.35" height="9.35" fill="#aabcdc"/>
<rect x="383.60" y="727.05" width="2.35" height="9.35" fill="#e0e7f2"/>
<rect x="383.60" y="736.30" width="2.35" height="9.35" fill="#e6ecf5"/>
<rect x="383.60" y="745.55" width="2.35" height="9.35" fill="#e6ecf5"/>
<rect x="385.80" y="680.80" width="1.95" height="9.35" fill="#8fa7d1"/>
<rect x="385.80" y="690.05" width="1.95" height="9.35" fill="#9bb0d5"/>
<rect x="385.80" y="699.30" width="1.95" height="9.35" fill="#8da6d0"/>
<rect x="385.80" y="708.55" width="1.95" height="9.35" fill="#acbedd"/>
<rect x="385.80" y="717.80" width="1.95" height="9.35" fill="#abbddc"/>
<rect x="385.80" y="727.05" width="1.95" height="9.35" fill="#f2f5fa"/>
<rect x="385.80" y="736.30" width="1.95" height="9.35" fill="#e8edf6"/>
<rect x="385.80" y="745.55" width="1.95" height="9.35" fill="#d3dced"/>
<rect x="387.60" y="680.80" width="1.35" height="9.35" fill="#9cb2d6"/>
<rect x="387.60" y="690.05" width="1.35" height="9.35" fill="#98aed4"/>
<rect x="387.60" y="699.30" width="1.35" height="9.35" fill="#89a2ce"/>
<rect x="387.60" y="708.55" width="1.35" height="9.35" fill="#98aed4"/>
<rect x="387.60" y="717.80" width="1.35" height="9.35" fill="#99afd5"/>
<rect x="387.60" y="727.05" width="1.35" height="9.35" fill="#bfcde5"/>
<rect x="387.60" y="736.30" width="1.35" height="9.35" fill="#aebfdd"/>
<rect x="387.60" y="745.55" width="1.35" height="9.35" fill="#b9c8e2"/>
<rect x="388.80" y="680.80" width="2.35" height="9.35" fill="#9cb1d6"/>
<rect x="388.80" y="690.05" width="2.35" height="9.35" fill="#8aa3cf"/>
<rect x="388.80" y="699.30" width="2.35" height="9.35" fill="#8ea6d0"/>
<rect x="388.80" y="708.55" width="2.35" height="9.35" fill="#a4b8da"/>
<rect x="388.80" y="717.80" width="2.35" height="9.35" fill="#a4b8d9"/>
<rect x="388.80" y="727.05" width="2.35" height="9.35" fill="#f7f8fb"/>
<rect x="388.80" y="736.30" width="2.35" height="9.35" fill="#e7ecf5"/>
<rect x="388.80" y="745.55" width="2.35" height="9.35" fill="#e2e8f3"/>
<rect x="391.00" y="680.80" width="1.95" height="9.35" fill="#a3b7d9"/>
<rect x="391.00" y="690.05" width="1.95" height="9.35" fill="#aabcdc"/>
<rect x="391.00" y="699.30" width="1.95" height="9.35" fill="#9bb0d6"/>
<rect x="391.00" y="708.55" width="1.95" height="9.35" fill="#97add4"/>
<rect x="391.00" y="717.80" width="1.95" height="9.35" fill="#8aa3cf"/>
<rect x="391.00" y="727.05" width="1.95" height="9.35" fill="#e4eaf4"/>
<rect x="391.00" y="736.30" width="1.95" height="9.35" fill="#d4dded"/>
<rect x="391.00" y="745.55" width="1.95" height="9.35" fill="#c1cee5"/>
<rect x="392.80" y="680.80" width="2.35" height="9.35" fill="#7c98c9"/>
<rect x="392.80" y="690.05" width="2.35" height="9.35" fill="#7291c5"/>
<rect x="392.80" y="699.30" width="2.35" height="9.35" fill="#718fc4"/>
<rect x="392.80" y="708.55" width="2.35" height="9.35" fill="#93aad2"/>
<rect x="392.80" y="717.80" width="2.35" height="9.35" fill="#91a9d2"/>
<rect x="392.80" y="727.05" width="2.35" height="9.35" fill="#ced8eb"/>
<rect x="392.80" y="736.30" width="2.35" height="9.35" fill="#d6dfee"/>
<rect x="392.80" y="745.55" width="2.35" height="9.35" fill="#d0daeb"/>
<rect x="395.00" y="680.80" width="1.35" height="9.35" fill="#6b8bc2"/>
<rect x="395.00" y="690.05" width="1.35" height="9.35" fill="#6687c0"/>
<rect x="395.00" y="699.30" width="1.35" height="9.35" fill="#7492c5"/>
<rect x="395.00" y="708.55" width="1.35" height="9.35" fill="#8da5d0"/>
<rect x="395.00" y="717.80" width="1.35" height="9.35" fill="#9ab0d5"/>
<rect x="395.00" y="727.05" width="1.35" height="9.35" fill="#c5d2e7"/>
<rect x="395.00" y="736.30" width="1.35" height="9.35" fill="#c3d0e6"/>
<rect x="395.00" y="745.55" width="1.35" height="9.35" fill="#b3c3df"/>
<rect x="396.20" y="680.80" width="1.95" height="9.35" fill="#7c98c9"/>
<rect x="396.20" y="690.05" width="1.95" height="9.35" fill="#809ccb"/>
<rect x="396.20" y="699.30" width="1.95" height="9.35" fill="#6c8cc2"/>
<rect x="396.20" y="708.55" width="1.95" height="9.35" fill="#7693c6"/>
<rect x="396.20" y="717.80" width="1.95" height="9.35" fill="#96acd3"/>
<rect x="396.20" y="727.05" width="1.95" height="9.35" fill="#d4deed"/>
<rect x="396.20" y="736.30" width="1.95" height="9.35" fill="#c6d3e8"/>
<rect x="396.20" y="745.55" width="1.95" height="9.35" fill="#bdcbe4"/>
<rect x="398.00" y="680.80" width="1.35" height="9.35" fill="#91a9d2"/>
<rect x="398.00" y="690.05" width="1.35" height="9.35" fill="#99afd5"/>
<rect x="398.00" y="699.30" width="1.35" height="9.35" fill="#8ba4cf"/>
<rect x="398.00" y="708.55" width="1.35" height="9.35" fill="#7a97c8"/>
<rect x="398.00" y="717.80" width="1.35" height="9.35" fill="#8fa7d1"/>
<rect x="398.00" y="727.05" width="1.35" height="9.35" fill="#ffffff"/>
<rect x="398.00" y="736.30" width="1.35" height="9.35" fill="#f9fafc"/>
<rect x="398.00" y="745.55" width="1.35" height="9.35" fill="#e9edf6"/>
<rect x="399.20" y="680.80" width="2.95" height="9.35" fill="#849fcc"/>
<rect x="399.20" y="690.05" width="2.95" height="9.35" fill="#88a2ce"/>
<rect x="399.20" y="699.30" width="2.95" height="9.35" fill="#819ccb"/>
<rect x="399.20" y="708.55" width="2.95" height="9.35" fill="#a0b4d8"/>
<rect x="399.20" y="717.80" width="2.95" height="9.35" fill="#93aad2"/>
<rect x="399.20" y="727.05" width="2.95" height="9.35" fill="#f6f8fb"/>
<rect x="399.20" y="736.30" width="2.95" height="9.35" fill="#f0f4f9"/>
<rect x="399.20" y="745.55" width="2.95" height="9.35" fill="#ebf0f7"/>
<rect x="402.00" y="680.80" width="1.35" height="9.35" fill="#a1b5d8"/>
<rect x="402.00" y="690.05" width="1.35" height="9.35" fill="#9bb0d6"/>
<rect x="402.00" y="699.30" width="1.35" height="9.35" fill="#98afd5"/>
<rect x="402.00" y="708.55" width="1.35" height="9.35" fill="#b9c8e2"/>
<rect x="402.00" y="717.80" width="1.35" height="9.35" fill="#b6c6e1"/>
<rect x="402.00" y="727.05" width="1.35" height="9.35" fill="#ebeff7"/>
<rect x="402.00" y="736.30" width="1.35" height="9.35" fill="#e5ebf4"/>
<rect x="402.00" y="745.55" width="1.35" height="9.35" fill="#dee5f1"/>
<rect x="403.20" y="680.80" width="1.65" height="9.35" fill="#7593c6"/>
<rect x="403.20" y="690.05" width="1.65" height="9.35" fill="#819ccb"/>
<rect x="403.20" y="699.30" width="1.65" height="9.35" fill="#819ccb"/>
<rect x="403.20" y="708.55" width="1.65" height="9.35" fill="#a1b6d8"/>
<rect x="403.20" y="717.80" width="1.65" height="9.35" fill="#90a8d1"/>
<rect x="403.20" y="727.05" width="1.65" height="9.35" fill="#d1dbec"/>
<rect x="403.20" y="736.30" width="1.65" height="9.35" fill="#c4d1e7"/>
<rect x="403.20" y="745.55" width="1.65" height="9.35" fill="#b7c7e1"/>
<rect x="404.70" y="680.80" width="1.35" height="9.35" fill="#86a0cd"/>
<rect x="404.70" y="690.05" width="1.35" height="9.35" fill="#85a0cd"/>
<rect x="404.70" y="699.30" width="1.35" height="9.35" fill="#7492c6"/>
<rect x="404.70" y="708.55" width="1.35" height="9.35" fill="#8aa4cf"/>
<rect x="404.70" y="717.80" width="1.35" height="9.35" fill="#809bcb"/>
<rect x="404.70" y="727.05" width="1.35" height="9.35" fill="#bac9e2"/>
<rect x="404.70" y="736.30" width="1.35" height="9.35" fill="#afc0de"/>
<rect x="404.70" y="745.55" width="1.35" height="9.35" fill="#9fb4d8"/>
<rect x="405.90" y="680.80" width="2.35" height="9.35" fill="#85a0cd"/>
<rect x="405.90" y="690.05" width="2.35" height="9.35" fill="#7a96c8"/>
<rect x="405.90" y="699.30" width="2.35" height="9.35" fill="#6b8bc2"/>
<rect x="405.90" y="708.55" width="2.35" height="9.35" fill="#7391c5"/>
<rect x="405.90" y="717.80" width="2.35" height="9.35" fill="#8aa3cf"/>
<rect x="405.90" y="727.05" width="2.35" height="9.35" fill="#dde4f1"/>
<rect x="405.90" y="736.30" width="2.35" height="9.35" fill="#c7d3e8"/>
<rect x="405.90" y="745.55" width="2.35" height="9.35" fill="#c1cee5"/>
<rect x="408.10" y="680.80" width="1.35" height="9.35" fill="#6d8dc3"/>
<rect x="408.10" y="690.05" width="1.35" height="9.35" fill="#8da6d0"/>
<rect x="408.10" y="699.30" width="1.35" height="9.35" fill="#6e8dc3"/>
<rect x="408.10" y="708.55" width="1.35" height="9.35" fill="#8fa7d1"/>
<rect x="408.10" y="717.80" width="1.35" height="9.35" fill="#9ab0d5"/>
<rect x="408.10" y="727.05" width="1.35" height="9.35" fill="#d7e0ef"/>
<rect x="408.10" y="736.30" width="1.35" height="9.35" fill="#dae2f0"/>
<rect x="408.10" y="745.55" width="1.35" height="9.35" fill="#c7d3e8"/>
<rect x="409.30" y="680.80" width="2.95" height="9.35" fill="#9bb1d6"/>
<rect x="409.30" y="690.05" width="2.95" height="9.35" fill="#b2c2df"/>
<rect x="409.30" y="699.30" width="2.95" height="9.35" fill="#95acd3"/>
<rect x="409.30" y="708.55" width="2.95" height="9.35" fill="#c3d0e6"/>
<rect x="409.30" y="717.80" width="2.95" height="9.35" fill="#b7c7e1"/>
<rect x="409.30" y="727.05" width="2.95" height="9.35" fill="#edf1f8"/>
<rect x="409.30" y="736.30" width="2.95" height="9.35" fill="#e2e9f3"/>
<rect x="409.30" y="745.55" width="2.95" height="9.35" fill="#ced9eb"/>
<rect x="412.10" y="680.80" width="1.35" height="9.35" fill="#90a8d1"/>
<rect x="412.10" y="690.05" width="1.35" height="9.35" fill="#8da5d0"/>
<rect x="412.10" y="699.30" width="1.35" height="9.35" fill="#849ecc"/>
<rect x="412.10" y="708.55" width="1.35" height="9.35" fill="#97add4"/>
<rect x="412.10" y="717.80" width="1.35" height="9.35" fill="#92aad2"/>
<rect x="412.10" y="727.05" width="1.35" height="9.35" fill="#dbe3f0"/>
<rect x="412.10" y="736.30" width="1.35" height="9.35" fill="#ebeff7"/>
<rect x="412.10" y="745.55" width="1.35" height="9.35" fill="#dae2f0"/>
<text x="417.00" y="687.52" font-size="5.9" fill="#333" text-anchor="start" font-weight="normal" textLength="37.5" lengthAdjust="spacingAndGlyphs">U2AF1 Q157P</text>
<text x="417.00" y="696.77" font-size="5.9" fill="#333" text-anchor="start" font-weight="normal" textLength="37.5" lengthAdjust="spacingAndGlyphs">U2AF1 Q157P</text>
<text x="417.00" y="706.02" font-size="5.9" fill="#333" text-anchor="start" font-weight="normal" textLength="37.5" lengthAdjust="spacingAndGlyphs">U2AF1 Q157P</text>
<text x="417.00" y="715.27" font-size="5.9" fill="#b3143c" text-anchor="start" font-weight="normal" textLength="51.8" lengthAdjust="spacingAndGlyphs">U2AF1 S34F Q157R</text>
<text x="417.00" y="724.52" font-size="5.9" fill="#b3143c" text-anchor="start" font-weight="normal" textLength="51.8" lengthAdjust="spacingAndGlyphs">U2AF1 S34F Q157R</text>
<text x="417.00" y="733.77" font-size="5.9" fill="#333" text-anchor="start" font-weight="normal" textLength="32.3" lengthAdjust="spacingAndGlyphs">U2AF1 S34F</text>
<text x="417.00" y="743.02" font-size="5.9" fill="#333" text-anchor="start" font-weight="normal" textLength="32.3" lengthAdjust="spacingAndGlyphs">U2AF1 S34Y</text>
<text x="417.00" y="752.27" font-size="5.9" fill="#333" text-anchor="start" font-weight="normal" textLength="32.3" lengthAdjust="spacingAndGlyphs">U2AF1 S34F</text>
<text x="273.00" y="765.20" font-size="7" fill="#111" text-anchor="middle" font-weight="bold" textLength="108" lengthAdjust="spacingAndGlyphs">cassette exon splicing event</text>
<path d="M129.6,685.7 L116.5,685.7 L116.5,694.9 L129.6,694.9 M116.5,690.3 L111.6,690.3 L111.6,704.2 L129.6,704.2 M129.6,713.1 L108.4,713.1 L108.4,722.3 L129.6,722.3 M111.6,697.25 L98.4,697.25 L98.4,717.7 L108.4,717.7 M129.6,731.8 L115.5,731.8 L115.5,741.1 L129.6,741.1 M115.5,736.45 L110.4,736.45 L110.4,750.3 L129.6,750.3 M98.4,707.475 L81.5,707.475 L81.5,743.375 L110.4,743.375" fill="none" stroke="#222" stroke-width="1.2"/>
<defs><linearGradient id="ck" x1="0" x2="1"><stop offset="0" stop-color="#fff"/><stop offset="1" stop-color="#6a8ec6"/></linearGradient></defs>
<rect x="49.6" y="675.2" width="46" height="11.9" fill="url(#ck)" stroke="#222" stroke-width="1.1"/>
<path d="M50.5,686 L54,685.8 L58,685 L62,684.2 L66,684.5 L70,684 L74,684.3 L78,683.8 L82,684.2 L86,683.9 L90,684.3 L95,684" fill="none" stroke="#38b6d8" stroke-width="0.6"/>
<text x="72.70" y="666.50" font-size="5.9" fill="#333" text-anchor="middle" font-weight="normal" textLength="25.8" lengthAdjust="spacingAndGlyphs">Color Key</text>
<text x="72.30" y="673.00" font-size="5.9" fill="#333" text-anchor="middle" font-weight="normal" textLength="32.9" lengthAdjust="spacingAndGlyphs">&amp; Histogram</text>
<text x="24.30" y="684.10" font-size="7.7" fill="#333" text-anchor="middle" font-weight="normal" textLength="16.4" lengthAdjust="spacingAndGlyphs">Count</text>
<text x="43.50" y="678.40" font-size="5.2" fill="#333" text-anchor="end" font-weight="normal" >80</text>
<line x1="47" y1="676.4" x2="49.8" y2="676.4" stroke="#222" stroke-width="0.6"/>
<text x="43.50" y="683.80" font-size="5.2" fill="#333" text-anchor="end" font-weight="normal" >40</text>
<line x1="47" y1="681.8" x2="49.8" y2="681.8" stroke="#222" stroke-width="0.6"/>
<text x="43.50" y="689.70" font-size="5.2" fill="#333" text-anchor="end" font-weight="normal" >0</text>
<line x1="47" y1="687.7" x2="49.8" y2="687.7" stroke="#222" stroke-width="0.6"/>
<line x1="49.8" y1="686.9" x2="49.8" y2="689.5" stroke="#222" stroke-width="0.6"/>
<line x1="58.96" y1="686.9" x2="58.96" y2="689.5" stroke="#222" stroke-width="0.6"/>
<line x1="68.1" y1="686.9" x2="68.1" y2="689.5" stroke="#222" stroke-width="0.6"/>
<line x1="77.3" y1="686.9" x2="77.3" y2="689.5" stroke="#222" stroke-width="0.6"/>
<line x1="86.4" y1="686.9" x2="86.4" y2="689.5" stroke="#222" stroke-width="0.6"/>
<line x1="95.6" y1="686.9" x2="95.6" y2="689.5" stroke="#222" stroke-width="0.6"/>
<text x="72.30" y="700.00" font-size="5.4" fill="#333" text-anchor="middle" font-weight="normal" textLength="48.4" lengthAdjust="spacingAndGlyphs">0  0.20.40.60.8  1</text></svg></body></html>
